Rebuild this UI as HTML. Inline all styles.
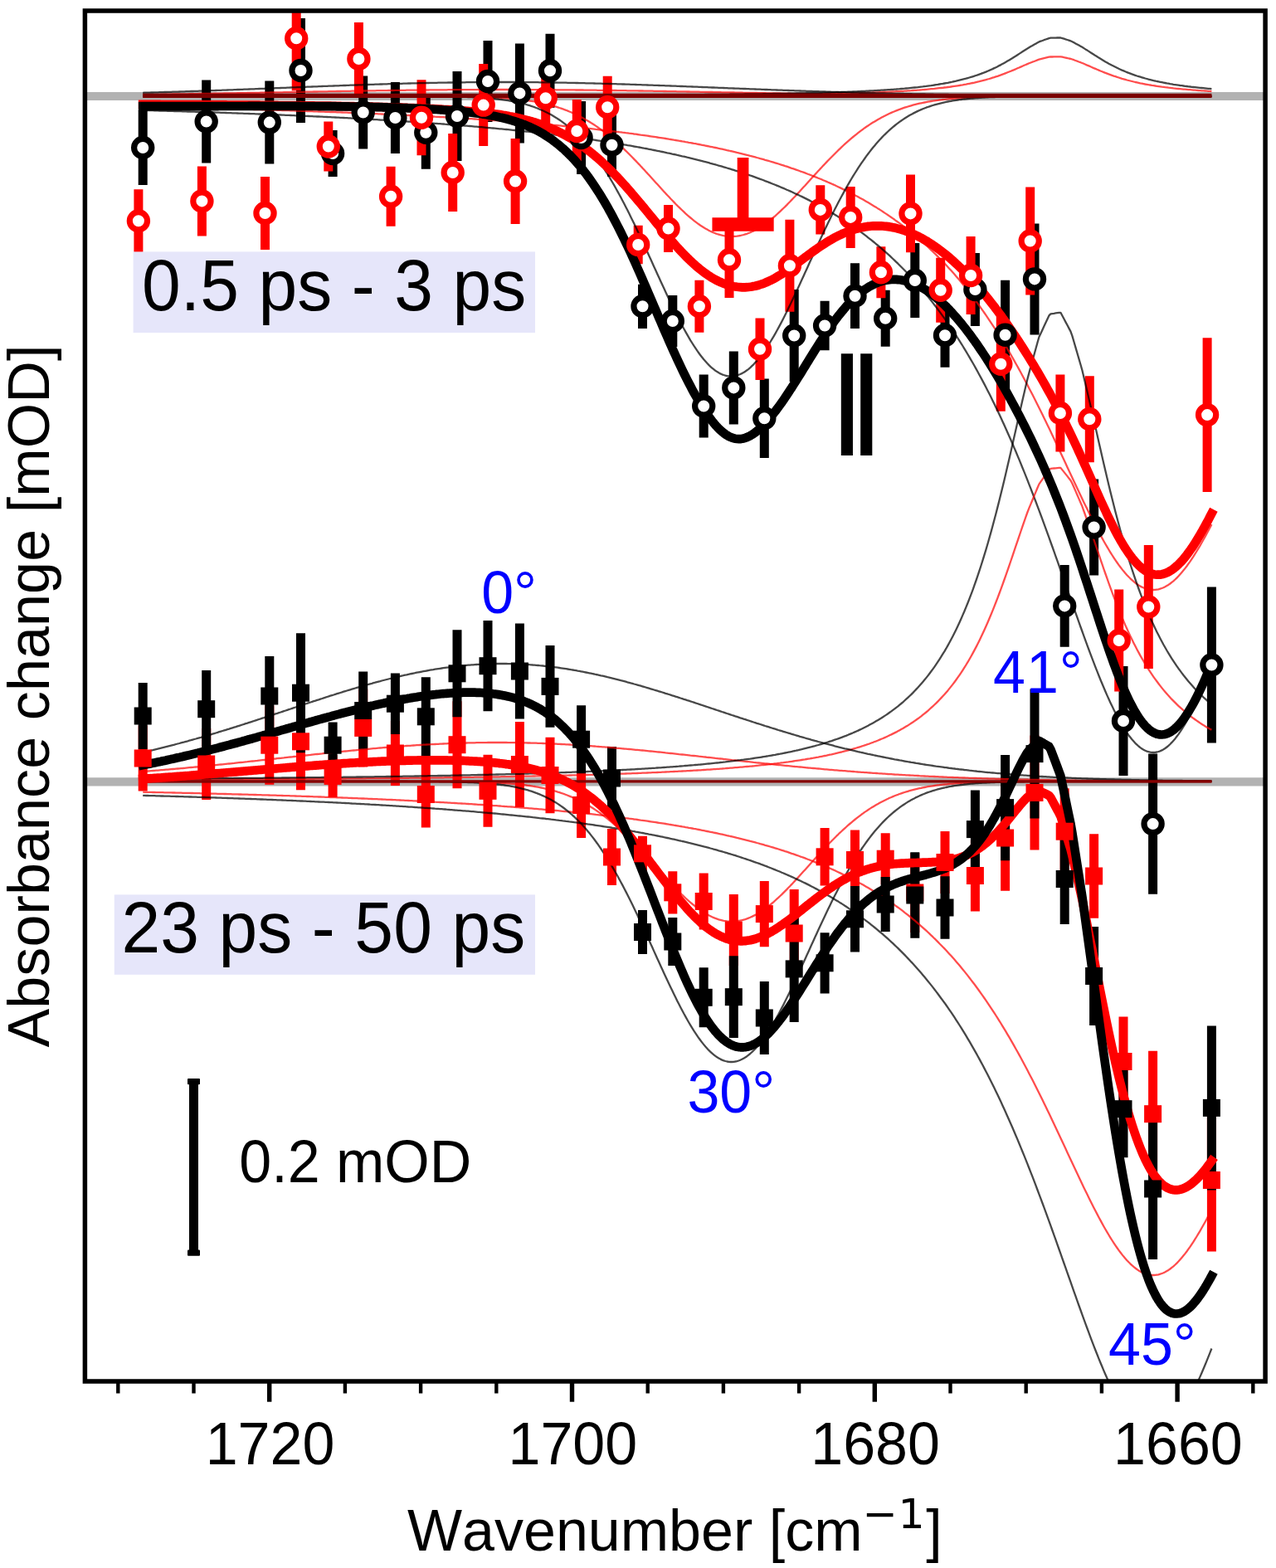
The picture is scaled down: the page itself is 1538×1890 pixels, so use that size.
<!DOCTYPE html>
<html><head><meta charset="utf-8"><title>Absorbance change</title>
<style>html,body{margin:0;padding:0;background:#fff}svg{display:block}text{font-kerning:none}</style></head>
<body>
<svg width="1538" height="1890" viewBox="0 0 1538 1890">
<defs><clipPath id="ax"><rect x="102.4" y="13.0" width="1422.6999999999998" height="1652.0"/></clipPath></defs>
<rect x="0" y="0" width="1538" height="1890" fill="#fff"/>
<g clip-path="url(#ax)">
<line x1="102.4" x2="1525.1" y1="116.0" y2="116.0" stroke="#b2b2b2" stroke-width="10.2"/>
<line x1="102.4" x2="1525.1" y1="942.4" y2="942.4" stroke="#b2b2b2" stroke-width="10.2"/>
<path d="M172.2,133.0V223.0M248.7,96.5V196.5M324.8,97.6V197.6M362.5,22.0V148.0M401.1,157.0V213.0M437.7,91.5V179.5M476.4,99.0V185.0M513.3,115.7V203.7M551.0,86.0V194.0M588.0,49.0V147.0M626.4,52.4V172.4M663.0,40.8V129.8M700.6,122.0V210.0M737.5,136.8V212.8M774.5,342.7V395.9M810.8,356.0V418.0M848.2,451.5V527.5M884.3,423.4V511.4M921.3,456.6V552.0M957.2,348.9V460.1M994.1,362.8V422.2M1030.5,317.3V396.1M1067.2,349.7V417.7M1102.8,293.0V383.0M1139.0,365.7V442.7M1175.4,305.0V393.0M1211.6,337.7V469.7M1247.0,269.4V403.4M1283.2,681.0V779.8M1318.6,577.5V693.5M1354.0,803.0V935.0M1389.6,908.5V1077.7M1460.4,707.5V895.5" stroke="#000000" stroke-width="11.0" fill="none"/>
<path d="M166.9,228.3V304.3M243.4,200.4V284.4M319.5,213.0V301.0M357.2,-16.7V109.3M395.8,146.5V206.5M432.4,27.0V115.0M471.1,200.7V272.7M508.0,96.2V187.2M545.7,161.0V255.0M582.7,77.1V176.1M621.1,167.0V270.0M657.7,75.3V161.3M695.3,120.0V196.0M732.2,91.8V166.8M769.2,271.7V318.3M805.5,247.0V304.0M842.9,337.8V400.8M879.0,267.4V359.0M916.0,383.5V458.1M951.9,264.7V375.7M988.8,223.3V282.5M1025.2,224.9V298.9M1061.9,297.2V359.2M1097.5,210.6V304.2M1133.7,310.7V388.7M1170.1,285.0V379.0M1206.3,381.8V495.8M1241.7,225.5V355.5M1277.9,451.6V544.4M1313.3,453.2V557.2M1348.7,710.5V833.5M1384.3,657.0V806.0M1455.1,407.3V592.9" stroke="#ff0000" stroke-width="11.0" fill="none"/>
<path d="M172.2,874.4V953.6M248.7,878.0V964.0M324.8,850.6V945.8M362.5,835.3V952.3M401.1,909.9V960.9M437.7,830.4V924.4M476.4,869.0V947.0M513.3,917.5V997.5M551.0,845.2V950.2M588.0,909.8V996.8M626.4,869.9V973.1M663.0,888.7V980.3M700.6,931.0V1010.0M737.5,999.0V1067.0M774.5,1007.8V1049.8M810.8,1050.2V1101.4M848.2,1052.5V1120.5M884.3,1078.0V1164.0M921.3,1061.9V1141.3M957.2,1072.0V1178.0M994.1,998.1V1067.5M1030.5,1000.5V1072.5M1067.2,1004.2V1066.2M1102.8,1028.0V1124.0M1139.0,1001.9V1077.1M1175.4,1012.5V1098.5M1211.6,946.2V1073.8M1247.0,886.4V1024.4M1283.2,950.2V1054.2M1318.6,1005.3V1106.7M1354.0,1225.5V1333.5M1389.6,1266.7V1418.7M1460.4,1336.5V1508.5" stroke="#ff0000" stroke-width="11.0" fill="none"/>
<path d="M172.2,823.0V903.0M248.7,808.0V901.4M324.8,791.0V887.0M362.5,763.2V907.2M401.1,870.4V926.0M437.7,809.5V903.5M476.4,811.4V885.0M513.3,816.3V911.3M551.0,759.3V864.3M588.0,748.1V857.3M626.4,751.5V866.5M663.0,778.0V876.8M700.6,850.2V932.2M737.5,900.0V976.0M774.5,1097.1V1149.9M810.8,1106.0V1164.0M848.2,1166.3V1238.3M884.3,1152.3V1251.1M921.3,1183.0V1271.0M957.2,1103.9V1231.9M994.1,1124.2V1197.4M1030.5,1068.1V1147.5M1067.2,1057.0V1123.0M1102.8,1027.2V1130.8M1139.0,1056.3V1131.7M1175.4,952.6V1046.6M1211.6,910.0V1037.2M1247.0,830.6V986.6M1283.2,1005.0V1114.0M1318.6,1116.9V1236.1M1354.0,1278.2V1395.2M1389.6,1348.0V1518.0M1460.4,1236.4V1434.4" stroke="#000000" stroke-width="11.0" fill="none"/>
<path d="M172.2,114.0 L174.2,114.0 L176.2,114.0 L178.2,113.9 L180.2,113.9 L182.2,113.9 L184.2,113.9 L186.2,113.8 L188.2,113.8 L190.2,113.8 L192.2,113.8 L194.2,113.7 L196.2,113.7 L198.2,113.7 L200.2,113.6 L202.2,113.6 L204.2,113.6 L206.2,113.6 L208.2,113.5 L210.2,113.5 L212.2,113.5 L214.2,113.4 L216.2,113.4 L218.2,113.4 L220.2,113.3 L222.2,113.3 L224.2,113.3 L226.2,113.3 L228.2,113.2 L230.2,113.2 L232.2,113.2 L234.2,113.1 L236.2,113.1 L238.2,113.1 L240.2,113.0 L242.2,113.0 L244.2,113.0 L246.2,112.9 L248.2,112.9 L250.2,112.9 L252.2,112.8 L254.2,112.8 L256.2,112.8 L258.2,112.7 L260.2,112.7 L262.2,112.7 L264.2,112.6 L266.2,112.6 L268.2,112.6 L270.2,112.5 L272.2,112.5 L274.2,112.5 L276.2,112.4 L278.2,112.4 L280.2,112.4 L282.2,112.3 L284.2,112.3 L286.2,112.2 L288.2,112.2 L290.2,112.2 L292.2,112.1 L294.2,112.1 L296.2,112.1 L298.2,112.0 L300.2,112.0 L302.2,112.0 L304.2,111.9 L306.2,111.9 L308.2,111.9 L310.2,111.8 L312.2,111.8 L314.2,111.7 L316.2,111.7 L318.2,111.7 L320.2,111.6 L322.2,111.6 L324.2,111.6 L326.2,111.5 L328.2,111.5 L330.2,111.4 L332.2,111.4 L334.2,111.4 L336.2,111.3 L338.2,111.3 L340.2,111.3 L342.2,111.2 L344.2,111.2 L346.2,111.1 L348.2,111.1 L350.2,111.1 L352.2,111.0 L354.2,111.0 L356.2,111.0 L358.2,110.9 L360.2,110.9 L362.2,110.8 L364.2,110.8 L366.2,110.8 L368.2,110.7 L370.2,110.7 L372.2,110.7 L374.2,110.6 L376.2,110.6 L378.2,110.5 L380.2,110.5 L382.2,110.5 L384.2,110.4 L386.2,110.4 L388.2,110.4 L390.2,110.3 L392.2,110.3 L394.2,110.3 L396.2,110.2 L398.2,110.2 L400.2,110.1 L402.2,110.1 L404.2,110.1 L406.2,110.0 L408.2,110.0 L410.2,110.0 L412.2,109.9 L414.2,109.9 L416.2,109.9 L418.2,109.8 L420.2,109.8 L422.2,109.8 L424.2,109.7 L426.2,109.7 L428.2,109.7 L430.2,109.6 L432.2,109.6 L434.2,109.6 L436.2,109.5 L438.2,109.5 L440.2,109.5 L442.2,109.4 L444.2,109.4 L446.2,109.4 L448.2,109.3 L450.2,109.3 L452.2,109.3 L454.2,109.2 L456.2,109.2 L458.2,109.2 L460.2,109.2 L462.2,109.1 L464.2,109.1 L466.2,109.1 L468.2,109.0 L470.2,109.0 L472.2,109.0 L474.2,109.0 L476.2,108.9 L478.2,108.9 L480.2,108.9 L482.2,108.8 L484.2,108.8 L486.2,108.8 L488.2,108.8 L490.2,108.7 L492.2,108.7 L494.2,108.7 L496.3,108.7 L498.3,108.7 L500.3,108.6 L502.3,108.6 L504.3,108.6 L506.3,108.6 L508.3,108.5 L510.3,108.5 L512.3,108.5 L514.3,108.5 L516.3,108.5 L518.3,108.4 L520.3,108.4 L522.3,108.4 L524.3,108.4 L526.3,108.4 L528.3,108.3 L530.3,108.3 L532.3,108.3 L534.3,108.3 L536.3,108.3 L538.3,108.3 L540.3,108.2 L542.3,108.2 L544.3,108.2 L546.3,108.2 L548.3,108.2 L550.3,108.2 L552.3,108.2 L554.3,108.2 L556.3,108.1 L558.3,108.1 L560.3,108.1 L562.3,108.1 L564.3,108.1 L566.3,108.1 L568.3,108.1 L570.3,108.1 L572.3,108.1 L574.3,108.1 L576.3,108.0 L578.3,108.0 L580.3,108.0 L582.3,108.0 L584.3,108.0 L586.3,108.0 L588.3,108.0 L590.3,108.0 L592.3,108.0 L594.3,108.0 L596.3,108.0 L598.3,108.0 L600.3,108.0 L602.3,108.0 L604.3,108.0 L606.3,108.0 L608.3,108.0 L610.3,108.0 L612.3,108.0 L614.3,108.0 L616.3,108.0 L618.3,108.0 L620.3,108.0 L622.3,108.0 L624.3,108.0 L626.3,108.0 L628.3,108.0 L630.3,108.0 L632.3,108.0 L634.3,108.1 L636.3,108.1 L638.3,108.1 L640.3,108.1 L642.3,108.1 L644.3,108.1 L646.3,108.1 L648.3,108.1 L650.3,108.1 L652.3,108.1 L654.3,108.1 L656.3,108.2 L658.3,108.2 L660.3,108.2 L662.3,108.2 L664.3,108.2 L666.3,108.2 L668.3,108.2 L670.3,108.3 L672.3,108.3 L674.3,108.3 L676.3,108.3 L678.3,108.3 L680.3,108.3 L682.3,108.3 L684.3,108.4 L686.3,108.4 L688.3,108.4 L690.3,108.4 L692.3,108.4 L694.3,108.5 L696.3,108.5 L698.3,108.5 L700.3,108.5 L702.3,108.5 L704.3,108.6 L706.3,108.6 L708.3,108.6 L710.3,108.6 L712.3,108.7 L714.3,108.7 L716.3,108.7 L718.3,108.7 L720.3,108.8 L722.3,108.8 L724.3,108.8 L726.3,108.8 L728.3,108.9 L730.3,108.9 L732.3,108.9 L734.3,108.9 L736.3,109.0 L738.3,109.0 L740.3,109.0 L742.3,109.0 L744.3,109.1 L746.3,109.1 L748.3,109.1 L750.3,109.2 L752.3,109.2 L754.3,109.2 L756.3,109.3 L758.3,109.3 L760.3,109.3 L762.3,109.3 L764.3,109.4 L766.3,109.4 L768.3,109.4 L770.3,109.5 L772.3,109.5 L774.3,109.5 L776.3,109.6 L778.3,109.6 L780.3,109.6 L782.3,109.7 L784.3,109.7 L786.3,109.7 L788.3,109.8 L790.3,109.8 L792.3,109.8 L794.3,109.9 L796.3,109.9 L798.3,109.9 L800.3,110.0 L802.3,110.0 L804.3,110.1 L806.3,110.1 L808.3,110.1 L810.3,110.2 L812.3,110.2 L814.3,110.2 L816.3,110.3 L818.3,110.3 L820.3,110.3 L822.3,110.4 L824.3,110.4 L826.3,110.4 L828.3,110.5 L830.3,110.5 L832.3,110.6 L834.3,110.6 L836.3,110.6 L838.3,110.7 L840.3,110.7 L842.3,110.7 L844.3,110.8 L846.3,110.8 L848.3,110.9 L850.3,110.9 L852.3,110.9 L854.3,111.0 L856.3,111.0 L858.3,111.0 L860.3,111.1 L862.3,111.1 L864.3,111.2 L866.3,111.2 L868.3,111.2 L870.3,111.3 L872.3,111.3 L874.3,111.3 L876.3,111.4 L878.3,111.4 L880.3,111.5 L882.3,111.5 L884.3,111.5 L886.3,111.6 L888.3,111.6 L890.3,111.6 L892.3,111.7 L894.3,111.7 L896.3,111.8 L898.3,111.8 L900.3,111.8 L902.3,111.9 L904.3,111.9 L906.3,111.9 L908.3,112.0 L910.3,112.0 L912.3,112.0 L914.3,112.1 L916.3,112.1 L918.3,112.2 L920.3,112.2 L922.3,112.2 L924.3,112.3 L926.3,112.3 L928.3,112.3 L930.3,112.4 L932.3,112.4 L934.3,112.4 L936.3,112.5 L938.3,112.5 L940.3,112.5 L942.3,112.6 L944.3,112.6 L946.3,112.6 L948.3,112.7 L950.3,112.7 L952.3,112.7 L954.3,112.8 L956.3,112.8 L958.3,112.8 L960.3,112.9 L962.3,112.9 L964.3,112.9 L966.3,113.0 L968.3,113.0 L970.3,113.0 L972.3,113.1 L974.3,113.1 L976.3,113.1 L978.3,113.2 L980.3,113.2 L982.3,113.2 L984.3,113.3 L986.3,113.3 L988.3,113.3 L990.3,113.4 L992.3,113.4 L994.3,113.4 L996.3,113.4 L998.3,113.5 L1000.3,113.5 L1002.3,113.5 L1004.3,113.6 L1006.3,113.6 L1008.3,113.6 L1010.3,113.6 L1012.3,113.7 L1014.3,113.7 L1016.3,113.7 L1018.3,113.8 L1020.3,113.8 L1022.3,113.8 L1024.3,113.8 L1026.3,113.9 L1028.3,113.9 L1030.3,113.9 L1032.3,113.9 L1034.3,114.0 L1036.3,114.0 L1038.3,114.0 L1040.3,114.1 L1042.3,114.1 L1044.3,114.1 L1046.3,114.1 L1048.3,114.2 L1050.3,114.2 L1052.3,114.2 L1054.3,114.2 L1056.3,114.2 L1058.3,114.3 L1060.3,114.3 L1062.3,114.3 L1064.3,114.3 L1066.3,114.4 L1068.3,114.4 L1070.3,114.4 L1072.3,114.4 L1074.3,114.5 L1076.3,114.5 L1078.3,114.5 L1080.3,114.5 L1082.3,114.5 L1084.3,114.6 L1086.3,114.6 L1088.3,114.6 L1090.3,114.6 L1092.3,114.6 L1094.3,114.7 L1096.3,114.7 L1098.3,114.7 L1100.3,114.7 L1102.3,114.7 L1104.3,114.8 L1106.3,114.8 L1108.3,114.8 L1110.3,114.8 L1112.3,114.8 L1114.3,114.8 L1116.3,114.9 L1118.3,114.9 L1120.3,114.9 L1122.3,114.9 L1124.3,114.9 L1126.3,114.9 L1128.3,115.0 L1130.3,115.0 L1132.3,115.0 L1134.3,115.0 L1136.3,115.0 L1138.4,115.0 L1140.4,115.1 L1142.4,115.1 L1144.4,115.1 L1146.4,115.1 L1148.4,115.1 L1150.4,115.1 L1152.4,115.1 L1154.4,115.2 L1156.4,115.2 L1158.4,115.2 L1160.4,115.2 L1162.4,115.2 L1164.4,115.2 L1166.4,115.2 L1168.4,115.2 L1170.4,115.3 L1172.4,115.3 L1174.4,115.3 L1176.4,115.3 L1178.4,115.3 L1180.4,115.3 L1182.4,115.3 L1184.4,115.3 L1186.4,115.4 L1188.4,115.4 L1190.4,115.4 L1192.4,115.4 L1194.4,115.4 L1196.4,115.4 L1198.4,115.4 L1200.4,115.4 L1202.4,115.4 L1204.4,115.5 L1206.4,115.5 L1208.4,115.5 L1210.4,115.5 L1212.4,115.5 L1214.4,115.5 L1216.4,115.5 L1218.4,115.5 L1220.4,115.5 L1222.4,115.5 L1224.4,115.5 L1226.4,115.5 L1228.4,115.6 L1230.4,115.6 L1232.4,115.6 L1234.4,115.6 L1236.4,115.6 L1238.4,115.6 L1240.4,115.6 L1242.4,115.6 L1244.4,115.6 L1246.4,115.6 L1248.4,115.6 L1250.4,115.6 L1252.4,115.6 L1254.4,115.7 L1256.4,115.7 L1258.4,115.7 L1260.4,115.7 L1262.4,115.7 L1264.4,115.7 L1266.4,115.7 L1268.4,115.7 L1270.4,115.7 L1272.4,115.7 L1274.4,115.7 L1276.4,115.7 L1278.4,115.7 L1280.4,115.7 L1282.4,115.7 L1284.4,115.7 L1286.4,115.7 L1288.4,115.8 L1290.4,115.8 L1292.4,115.8 L1294.4,115.8 L1296.4,115.8 L1298.4,115.8 L1300.4,115.8 L1302.4,115.8 L1304.4,115.8 L1306.4,115.8 L1308.4,115.8 L1310.4,115.8 L1312.4,115.8 L1314.4,115.8 L1316.4,115.8 L1318.4,115.8 L1320.4,115.8 L1322.4,115.8 L1324.4,115.8 L1326.4,115.8 L1328.4,115.8 L1330.4,115.8 L1332.4,115.8 L1334.4,115.8 L1336.4,115.9 L1338.4,115.9 L1340.4,115.9 L1342.4,115.9 L1344.4,115.9 L1346.4,115.9 L1348.4,115.9 L1350.4,115.9 L1352.4,115.9 L1354.4,115.9 L1356.4,115.9 L1358.4,115.9 L1360.4,115.9 L1362.4,115.9 L1364.4,115.9 L1366.4,115.9 L1368.4,115.9 L1370.4,115.9 L1372.4,115.9 L1374.4,115.9 L1376.4,115.9 L1378.4,115.9 L1380.4,115.9 L1382.4,115.9 L1384.4,115.9 L1386.4,115.9 L1388.4,115.9 L1390.4,115.9 L1392.4,115.9 L1394.4,115.9 L1396.4,115.9 L1398.4,115.9 L1400.4,115.9 L1402.4,115.9 L1404.4,115.9 L1406.4,115.9 L1408.4,115.9 L1410.4,115.9 L1412.4,115.9 L1414.4,115.9 L1416.4,115.9 L1418.4,115.9 L1420.4,115.9 L1422.4,115.9 L1424.4,115.9 L1426.4,115.9 L1428.4,115.9 L1430.4,116.0 L1432.4,116.0 L1434.4,116.0 L1436.4,116.0 L1438.4,116.0 L1440.4,116.0 L1442.4,116.0 L1444.4,116.0 L1446.4,116.0 L1448.4,116.0 L1450.4,116.0 L1452.4,116.0 L1454.4,116.0 L1456.4,116.0 L1458.4,116.0 L1460.4,116.0" stroke="#ff0000" stroke-opacity="0.7" stroke-width="2.3" fill="none" stroke-linejoin="round"/>
<path d="M172.2,116.0 L174.2,116.0 L176.2,116.0 L178.2,116.0 L180.2,116.0 L182.2,116.0 L184.2,116.0 L186.2,116.0 L188.2,116.0 L190.2,116.0 L192.2,116.0 L194.2,116.0 L196.2,116.0 L198.2,116.0 L200.2,116.0 L202.2,116.0 L204.2,116.0 L206.2,116.0 L208.2,116.0 L210.2,116.0 L212.2,116.0 L214.2,116.0 L216.2,116.0 L218.2,116.0 L220.2,116.0 L222.2,116.0 L224.2,116.0 L226.2,116.0 L228.2,116.0 L230.2,116.0 L232.2,116.0 L234.2,116.0 L236.2,116.0 L238.2,116.0 L240.2,116.0 L242.2,116.0 L244.2,116.0 L246.2,116.0 L248.2,116.0 L250.2,116.0 L252.2,116.0 L254.2,116.0 L256.2,116.0 L258.2,116.0 L260.2,116.0 L262.2,116.0 L264.2,116.0 L266.2,116.0 L268.2,116.0 L270.2,116.0 L272.2,116.0 L274.2,116.0 L276.2,116.0 L278.2,116.0 L280.2,116.0 L282.2,116.0 L284.2,116.0 L286.2,116.0 L288.2,116.0 L290.2,116.0 L292.2,116.0 L294.2,116.0 L296.2,116.0 L298.2,116.0 L300.2,116.0 L302.2,116.0 L304.2,116.0 L306.2,116.0 L308.2,116.0 L310.2,116.0 L312.2,116.0 L314.2,116.0 L316.2,116.0 L318.2,116.0 L320.2,116.0 L322.2,116.0 L324.2,116.0 L326.2,116.0 L328.2,116.0 L330.2,116.0 L332.2,116.0 L334.2,116.0 L336.2,116.0 L338.2,116.0 L340.2,116.0 L342.2,116.0 L344.2,116.0 L346.2,116.0 L348.2,116.0 L350.2,116.0 L352.2,116.0 L354.2,116.0 L356.2,116.0 L358.2,116.0 L360.2,116.0 L362.2,116.0 L364.2,116.0 L366.2,116.0 L368.2,116.0 L370.2,116.0 L372.2,116.0 L374.2,116.0 L376.2,116.0 L378.2,116.0 L380.2,116.0 L382.2,116.0 L384.2,116.0 L386.2,116.0 L388.2,116.0 L390.2,116.0 L392.2,116.0 L394.2,116.0 L396.2,116.0 L398.2,116.0 L400.2,116.0 L402.2,116.0 L404.2,116.0 L406.2,116.0 L408.2,116.0 L410.2,116.0 L412.2,116.0 L414.2,116.0 L416.2,116.0 L418.2,116.0 L420.2,116.0 L422.2,116.0 L424.2,116.0 L426.2,116.0 L428.2,116.0 L430.2,116.0 L432.2,116.0 L434.2,116.0 L436.2,116.0 L438.2,116.0 L440.2,116.0 L442.2,116.0 L444.2,116.0 L446.2,116.0 L448.2,116.0 L450.2,116.0 L452.2,116.0 L454.2,116.0 L456.2,116.0 L458.2,116.0 L460.2,116.0 L462.2,116.0 L464.2,116.0 L466.2,116.0 L468.2,116.0 L470.2,116.0 L472.2,116.0 L474.2,116.0 L476.2,116.0 L478.2,116.0 L480.2,116.0 L482.2,116.0 L484.2,116.0 L486.2,116.0 L488.2,116.0 L490.2,116.0 L492.2,116.0 L494.2,116.0 L496.3,116.0 L498.3,116.0 L500.3,116.0 L502.3,116.0 L504.3,116.0 L506.3,116.0 L508.3,116.1 L510.3,116.1 L512.3,116.1 L514.3,116.1 L516.3,116.1 L518.3,116.1 L520.3,116.1 L522.3,116.1 L524.3,116.1 L526.3,116.1 L528.3,116.1 L530.3,116.1 L532.3,116.1 L534.3,116.2 L536.3,116.2 L538.3,116.2 L540.3,116.2 L542.3,116.2 L544.3,116.2 L546.3,116.2 L548.3,116.3 L550.3,116.3 L552.3,116.3 L554.3,116.3 L556.3,116.4 L558.3,116.4 L560.3,116.4 L562.3,116.5 L564.3,116.5 L566.3,116.5 L568.3,116.6 L570.3,116.6 L572.3,116.7 L574.3,116.7 L576.3,116.8 L578.3,116.8 L580.3,116.9 L582.3,116.9 L584.3,117.0 L586.3,117.1 L588.3,117.2 L590.3,117.2 L592.3,117.3 L594.3,117.4 L596.3,117.5 L598.3,117.6 L600.3,117.7 L602.3,117.8 L604.3,118.0 L606.3,118.1 L608.3,118.2 L610.3,118.4 L612.3,118.5 L614.3,118.7 L616.3,118.9 L618.3,119.0 L620.3,119.2 L622.3,119.4 L624.3,119.6 L626.3,119.9 L628.3,120.1 L630.3,120.3 L632.3,120.6 L634.3,120.9 L636.3,121.2 L638.3,121.5 L640.3,121.8 L642.3,122.1 L644.3,122.4 L646.3,122.8 L648.3,123.2 L650.3,123.6 L652.3,124.0 L654.3,124.4 L656.3,124.9 L658.3,125.4 L660.3,125.9 L662.3,126.4 L664.3,126.9 L666.3,127.5 L668.3,128.1 L670.3,128.7 L672.3,129.3 L674.3,130.0 L676.3,130.6 L678.3,131.3 L680.3,132.1 L682.3,132.8 L684.3,133.6 L686.3,134.5 L688.3,135.3 L690.3,136.2 L692.3,137.1 L694.3,138.0 L696.3,139.0 L698.3,140.0 L700.3,141.1 L702.3,142.1 L704.3,143.2 L706.3,144.4 L708.3,145.5 L710.3,146.7 L712.3,148.0 L714.3,149.2 L716.3,150.5 L718.3,151.9 L720.3,153.3 L722.3,154.7 L724.3,156.1 L726.3,157.6 L728.3,159.1 L730.3,160.7 L732.3,162.3 L734.3,163.9 L736.3,165.5 L738.3,167.2 L740.3,168.9 L742.3,170.7 L744.3,172.5 L746.3,174.3 L748.3,176.1 L750.3,178.0 L752.3,179.9 L754.3,181.8 L756.3,183.8 L758.3,185.8 L760.3,187.8 L762.3,189.8 L764.3,191.9 L766.3,193.9 L768.3,196.0 L770.3,198.1 L772.3,200.3 L774.3,202.4 L776.3,204.6 L778.3,206.8 L780.3,208.9 L782.3,211.1 L784.3,213.3 L786.3,215.5 L788.3,217.7 L790.3,219.9 L792.3,222.1 L794.3,224.3 L796.3,226.5 L798.3,228.7 L800.3,230.9 L802.3,233.1 L804.3,235.2 L806.3,237.3 L808.3,239.5 L810.3,241.5 L812.3,243.6 L814.3,245.7 L816.3,247.7 L818.3,249.7 L820.3,251.6 L822.3,253.5 L824.3,255.4 L826.3,257.3 L828.3,259.1 L830.3,260.8 L832.3,262.5 L834.3,264.2 L836.3,265.8 L838.3,267.3 L840.3,268.8 L842.3,270.3 L844.3,271.7 L846.3,273.0 L848.3,274.3 L850.3,275.5 L852.3,276.6 L854.3,277.7 L856.3,278.7 L858.3,279.6 L860.3,280.5 L862.3,281.3 L864.3,282.0 L866.3,282.6 L868.3,283.2 L870.3,283.7 L872.3,284.1 L874.3,284.4 L876.3,284.7 L878.3,284.9 L880.3,285.0 L882.3,285.0 L884.3,284.9 L886.3,284.8 L888.3,284.6 L890.3,284.3 L892.3,284.0 L894.3,283.5 L896.3,283.0 L898.3,282.4 L900.3,281.8 L902.3,281.0 L904.3,280.2 L906.3,279.3 L908.3,278.4 L910.3,277.3 L912.3,276.3 L914.3,275.1 L916.3,273.9 L918.3,272.6 L920.3,271.2 L922.3,269.8 L924.3,268.4 L926.3,266.9 L928.3,265.3 L930.3,263.7 L932.3,262.0 L934.3,260.3 L936.3,258.5 L938.3,256.7 L940.3,254.8 L942.3,252.9 L944.3,251.0 L946.3,249.1 L948.3,247.1 L950.3,245.0 L952.3,243.0 L954.3,240.9 L956.3,238.8 L958.3,236.7 L960.3,234.5 L962.3,232.4 L964.3,230.2 L966.3,228.0 L968.3,225.8 L970.3,223.7 L972.3,221.5 L974.3,219.2 L976.3,217.0 L978.3,214.8 L980.3,212.6 L982.3,210.4 L984.3,208.3 L986.3,206.1 L988.3,203.9 L990.3,201.8 L992.3,199.6 L994.3,197.5 L996.3,195.4 L998.3,193.3 L1000.3,191.2 L1002.3,189.2 L1004.3,187.2 L1006.3,185.2 L1008.3,183.2 L1010.3,181.2 L1012.3,179.3 L1014.3,177.4 L1016.3,175.5 L1018.3,173.7 L1020.3,171.9 L1022.3,170.1 L1024.3,168.4 L1026.3,166.7 L1028.3,165.0 L1030.3,163.4 L1032.3,161.8 L1034.3,160.2 L1036.3,158.6 L1038.3,157.1 L1040.3,155.7 L1042.3,154.2 L1044.3,152.8 L1046.3,151.5 L1048.3,150.1 L1050.3,148.8 L1052.3,147.6 L1054.3,146.4 L1056.3,145.2 L1058.3,144.0 L1060.3,142.9 L1062.3,141.8 L1064.3,140.7 L1066.3,139.7 L1068.3,138.7 L1070.3,137.7 L1072.3,136.8 L1074.3,135.9 L1076.3,135.0 L1078.3,134.2 L1080.3,133.4 L1082.3,132.6 L1084.3,131.8 L1086.3,131.1 L1088.3,130.4 L1090.3,129.7 L1092.3,129.1 L1094.3,128.5 L1096.3,127.9 L1098.3,127.3 L1100.3,126.7 L1102.3,126.2 L1104.3,125.7 L1106.3,125.2 L1108.3,124.7 L1110.3,124.3 L1112.3,123.9 L1114.3,123.5 L1116.3,123.1 L1118.3,122.7 L1120.3,122.3 L1122.3,122.0 L1124.3,121.7 L1126.3,121.4 L1128.3,121.1 L1130.3,120.8 L1132.3,120.5 L1134.3,120.3 L1136.3,120.0 L1138.4,119.8 L1140.4,119.6 L1142.4,119.4 L1144.4,119.2 L1146.4,119.0 L1148.4,118.8 L1150.4,118.6 L1152.4,118.5 L1154.4,118.3 L1156.4,118.2 L1158.4,118.0 L1160.4,117.9 L1162.4,117.8 L1164.4,117.7 L1166.4,117.6 L1168.4,117.5 L1170.4,117.4 L1172.4,117.3 L1174.4,117.2 L1176.4,117.1 L1178.4,117.1 L1180.4,117.0 L1182.4,116.9 L1184.4,116.9 L1186.4,116.8 L1188.4,116.7 L1190.4,116.7 L1192.4,116.6 L1194.4,116.6 L1196.4,116.6 L1198.4,116.5 L1200.4,116.5 L1202.4,116.4 L1204.4,116.4 L1206.4,116.4 L1208.4,116.4 L1210.4,116.3 L1212.4,116.3 L1214.4,116.3 L1216.4,116.3 L1218.4,116.2 L1220.4,116.2 L1222.4,116.2 L1224.4,116.2 L1226.4,116.2 L1228.4,116.2 L1230.4,116.2 L1232.4,116.1 L1234.4,116.1 L1236.4,116.1 L1238.4,116.1 L1240.4,116.1 L1242.4,116.1 L1244.4,116.1 L1246.4,116.1 L1248.4,116.1 L1250.4,116.1 L1252.4,116.1 L1254.4,116.1 L1256.4,116.1 L1258.4,116.0 L1260.4,116.0 L1262.4,116.0 L1264.4,116.0 L1266.4,116.0 L1268.4,116.0 L1270.4,116.0 L1272.4,116.0 L1274.4,116.0 L1276.4,116.0 L1278.4,116.0 L1280.4,116.0 L1282.4,116.0 L1284.4,116.0 L1286.4,116.0 L1288.4,116.0 L1290.4,116.0 L1292.4,116.0 L1294.4,116.0 L1296.4,116.0 L1298.4,116.0 L1300.4,116.0 L1302.4,116.0 L1304.4,116.0 L1306.4,116.0 L1308.4,116.0 L1310.4,116.0 L1312.4,116.0 L1314.4,116.0 L1316.4,116.0 L1318.4,116.0 L1320.4,116.0 L1322.4,116.0 L1324.4,116.0 L1326.4,116.0 L1328.4,116.0 L1330.4,116.0 L1332.4,116.0 L1334.4,116.0 L1336.4,116.0 L1338.4,116.0 L1340.4,116.0 L1342.4,116.0 L1344.4,116.0 L1346.4,116.0 L1348.4,116.0 L1350.4,116.0 L1352.4,116.0 L1354.4,116.0 L1356.4,116.0 L1358.4,116.0 L1360.4,116.0 L1362.4,116.0 L1364.4,116.0 L1366.4,116.0 L1368.4,116.0 L1370.4,116.0 L1372.4,116.0 L1374.4,116.0 L1376.4,116.0 L1378.4,116.0 L1380.4,116.0 L1382.4,116.0 L1384.4,116.0 L1386.4,116.0 L1388.4,116.0 L1390.4,116.0 L1392.4,116.0 L1394.4,116.0 L1396.4,116.0 L1398.4,116.0 L1400.4,116.0 L1402.4,116.0 L1404.4,116.0 L1406.4,116.0 L1408.4,116.0 L1410.4,116.0 L1412.4,116.0 L1414.4,116.0 L1416.4,116.0 L1418.4,116.0 L1420.4,116.0 L1422.4,116.0 L1424.4,116.0 L1426.4,116.0 L1428.4,116.0 L1430.4,116.0 L1432.4,116.0 L1434.4,116.0 L1436.4,116.0 L1438.4,116.0 L1440.4,116.0 L1442.4,116.0 L1444.4,116.0 L1446.4,116.0 L1448.4,116.0 L1450.4,116.0 L1452.4,116.0 L1454.4,116.0 L1456.4,116.0 L1458.4,116.0 L1460.4,116.0" stroke="#ff0000" stroke-opacity="0.7" stroke-width="2.3" fill="none" stroke-linejoin="round"/>
<path d="M172.2,115.8 L174.2,115.8 L176.2,115.8 L178.2,115.8 L180.2,115.8 L182.2,115.8 L184.2,115.8 L186.2,115.8 L188.2,115.8 L190.2,115.8 L192.2,115.8 L194.2,115.8 L196.2,115.8 L198.2,115.8 L200.2,115.8 L202.2,115.8 L204.2,115.8 L206.2,115.8 L208.2,115.8 L210.2,115.8 L212.2,115.8 L214.2,115.8 L216.2,115.8 L218.2,115.8 L220.2,115.8 L222.2,115.8 L224.2,115.8 L226.2,115.8 L228.2,115.8 L230.2,115.8 L232.2,115.8 L234.2,115.8 L236.2,115.8 L238.2,115.8 L240.2,115.8 L242.2,115.8 L244.2,115.8 L246.2,115.8 L248.2,115.8 L250.2,115.8 L252.2,115.8 L254.2,115.8 L256.2,115.8 L258.2,115.8 L260.2,115.8 L262.2,115.8 L264.2,115.8 L266.2,115.8 L268.2,115.8 L270.2,115.8 L272.2,115.8 L274.2,115.8 L276.2,115.8 L278.2,115.8 L280.2,115.8 L282.2,115.8 L284.2,115.8 L286.2,115.8 L288.2,115.8 L290.2,115.8 L292.2,115.7 L294.2,115.7 L296.2,115.7 L298.2,115.7 L300.2,115.7 L302.2,115.7 L304.2,115.7 L306.2,115.7 L308.2,115.7 L310.2,115.7 L312.2,115.7 L314.2,115.7 L316.2,115.7 L318.2,115.7 L320.2,115.7 L322.2,115.7 L324.2,115.7 L326.2,115.7 L328.2,115.7 L330.2,115.7 L332.2,115.7 L334.2,115.7 L336.2,115.7 L338.2,115.7 L340.2,115.7 L342.2,115.7 L344.2,115.7 L346.2,115.7 L348.2,115.7 L350.2,115.7 L352.2,115.7 L354.2,115.7 L356.2,115.7 L358.2,115.7 L360.2,115.7 L362.2,115.7 L364.2,115.7 L366.2,115.7 L368.2,115.7 L370.2,115.7 L372.2,115.7 L374.2,115.7 L376.2,115.7 L378.2,115.7 L380.2,115.7 L382.2,115.7 L384.2,115.7 L386.2,115.7 L388.2,115.7 L390.2,115.7 L392.2,115.7 L394.2,115.7 L396.2,115.7 L398.2,115.7 L400.2,115.7 L402.2,115.7 L404.2,115.7 L406.2,115.7 L408.2,115.7 L410.2,115.7 L412.2,115.7 L414.2,115.7 L416.2,115.7 L418.2,115.7 L420.2,115.7 L422.2,115.7 L424.2,115.7 L426.2,115.7 L428.2,115.7 L430.2,115.7 L432.2,115.7 L434.2,115.7 L436.2,115.7 L438.2,115.7 L440.2,115.7 L442.2,115.7 L444.2,115.7 L446.2,115.6 L448.2,115.6 L450.2,115.6 L452.2,115.6 L454.2,115.6 L456.2,115.6 L458.2,115.6 L460.2,115.6 L462.2,115.6 L464.2,115.6 L466.2,115.6 L468.2,115.6 L470.2,115.6 L472.2,115.6 L474.2,115.6 L476.2,115.6 L478.2,115.6 L480.2,115.6 L482.2,115.6 L484.2,115.6 L486.2,115.6 L488.2,115.6 L490.2,115.6 L492.2,115.6 L494.2,115.6 L496.3,115.6 L498.3,115.6 L500.3,115.6 L502.3,115.6 L504.3,115.6 L506.3,115.6 L508.3,115.6 L510.3,115.6 L512.3,115.6 L514.3,115.6 L516.3,115.6 L518.3,115.6 L520.3,115.6 L522.3,115.6 L524.3,115.6 L526.3,115.6 L528.3,115.6 L530.3,115.6 L532.3,115.6 L534.3,115.6 L536.3,115.6 L538.3,115.6 L540.3,115.6 L542.3,115.6 L544.3,115.5 L546.3,115.5 L548.3,115.5 L550.3,115.5 L552.3,115.5 L554.3,115.5 L556.3,115.5 L558.3,115.5 L560.3,115.5 L562.3,115.5 L564.3,115.5 L566.3,115.5 L568.3,115.5 L570.3,115.5 L572.3,115.5 L574.3,115.5 L576.3,115.5 L578.3,115.5 L580.3,115.5 L582.3,115.5 L584.3,115.5 L586.3,115.5 L588.3,115.5 L590.3,115.5 L592.3,115.5 L594.3,115.5 L596.3,115.5 L598.3,115.5 L600.3,115.5 L602.3,115.5 L604.3,115.5 L606.3,115.5 L608.3,115.5 L610.3,115.5 L612.3,115.5 L614.3,115.4 L616.3,115.4 L618.3,115.4 L620.3,115.4 L622.3,115.4 L624.3,115.4 L626.3,115.4 L628.3,115.4 L630.3,115.4 L632.3,115.4 L634.3,115.4 L636.3,115.4 L638.3,115.4 L640.3,115.4 L642.3,115.4 L644.3,115.4 L646.3,115.4 L648.3,115.4 L650.3,115.4 L652.3,115.4 L654.3,115.4 L656.3,115.4 L658.3,115.4 L660.3,115.4 L662.3,115.4 L664.3,115.4 L666.3,115.4 L668.3,115.3 L670.3,115.3 L672.3,115.3 L674.3,115.3 L676.3,115.3 L678.3,115.3 L680.3,115.3 L682.3,115.3 L684.3,115.3 L686.3,115.3 L688.3,115.3 L690.3,115.3 L692.3,115.3 L694.3,115.3 L696.3,115.3 L698.3,115.3 L700.3,115.3 L702.3,115.3 L704.3,115.3 L706.3,115.3 L708.3,115.3 L710.3,115.2 L712.3,115.2 L714.3,115.2 L716.3,115.2 L718.3,115.2 L720.3,115.2 L722.3,115.2 L724.3,115.2 L726.3,115.2 L728.3,115.2 L730.3,115.2 L732.3,115.2 L734.3,115.2 L736.3,115.2 L738.3,115.2 L740.3,115.2 L742.3,115.2 L744.3,115.1 L746.3,115.1 L748.3,115.1 L750.3,115.1 L752.3,115.1 L754.3,115.1 L756.3,115.1 L758.3,115.1 L760.3,115.1 L762.3,115.1 L764.3,115.1 L766.3,115.1 L768.3,115.1 L770.3,115.1 L772.3,115.1 L774.3,115.0 L776.3,115.0 L778.3,115.0 L780.3,115.0 L782.3,115.0 L784.3,115.0 L786.3,115.0 L788.3,115.0 L790.3,115.0 L792.3,115.0 L794.3,115.0 L796.3,115.0 L798.3,114.9 L800.3,114.9 L802.3,114.9 L804.3,114.9 L806.3,114.9 L808.3,114.9 L810.3,114.9 L812.3,114.9 L814.3,114.9 L816.3,114.9 L818.3,114.9 L820.3,114.8 L822.3,114.8 L824.3,114.8 L826.3,114.8 L828.3,114.8 L830.3,114.8 L832.3,114.8 L834.3,114.8 L836.3,114.8 L838.3,114.8 L840.3,114.7 L842.3,114.7 L844.3,114.7 L846.3,114.7 L848.3,114.7 L850.3,114.7 L852.3,114.7 L854.3,114.7 L856.3,114.6 L858.3,114.6 L860.3,114.6 L862.3,114.6 L864.3,114.6 L866.3,114.6 L868.3,114.6 L870.3,114.6 L872.3,114.5 L874.3,114.5 L876.3,114.5 L878.3,114.5 L880.3,114.5 L882.3,114.5 L884.3,114.4 L886.3,114.4 L888.3,114.4 L890.3,114.4 L892.3,114.4 L894.3,114.4 L896.3,114.4 L898.3,114.3 L900.3,114.3 L902.3,114.3 L904.3,114.3 L906.3,114.3 L908.3,114.2 L910.3,114.2 L912.3,114.2 L914.3,114.2 L916.3,114.2 L918.3,114.1 L920.3,114.1 L922.3,114.1 L924.3,114.1 L926.3,114.1 L928.3,114.0 L930.3,114.0 L932.3,114.0 L934.3,114.0 L936.3,114.0 L938.3,113.9 L940.3,113.9 L942.3,113.9 L944.3,113.9 L946.3,113.8 L948.3,113.8 L950.3,113.8 L952.3,113.8 L954.3,113.7 L956.3,113.7 L958.3,113.7 L960.3,113.6 L962.3,113.6 L964.3,113.6 L966.3,113.6 L968.3,113.5 L970.3,113.5 L972.3,113.5 L974.3,113.4 L976.3,113.4 L978.3,113.4 L980.3,113.3 L982.3,113.3 L984.3,113.3 L986.3,113.2 L988.3,113.2 L990.3,113.1 L992.3,113.1 L994.3,113.1 L996.3,113.0 L998.3,113.0 L1000.3,112.9 L1002.3,112.9 L1004.3,112.9 L1006.3,112.8 L1008.3,112.8 L1010.3,112.7 L1012.3,112.7 L1014.3,112.6 L1016.3,112.6 L1018.3,112.5 L1020.3,112.5 L1022.3,112.4 L1024.3,112.4 L1026.3,112.3 L1028.3,112.3 L1030.3,112.2 L1032.3,112.1 L1034.3,112.1 L1036.3,112.0 L1038.3,112.0 L1040.3,111.9 L1042.3,111.8 L1044.3,111.8 L1046.3,111.7 L1048.3,111.6 L1050.3,111.6 L1052.3,111.5 L1054.3,111.4 L1056.3,111.3 L1058.3,111.3 L1060.3,111.2 L1062.3,111.1 L1064.3,111.0 L1066.3,110.9 L1068.3,110.8 L1070.3,110.7 L1072.3,110.6 L1074.3,110.5 L1076.3,110.5 L1078.3,110.3 L1080.3,110.2 L1082.3,110.1 L1084.3,110.0 L1086.3,109.9 L1088.3,109.8 L1090.3,109.7 L1092.3,109.6 L1094.3,109.4 L1096.3,109.3 L1098.3,109.2 L1100.3,109.0 L1102.3,108.9 L1104.3,108.8 L1106.3,108.6 L1108.3,108.5 L1110.3,108.3 L1112.3,108.1 L1114.3,108.0 L1116.3,107.8 L1118.3,107.6 L1120.3,107.4 L1122.3,107.2 L1124.3,107.1 L1126.3,106.9 L1128.3,106.6 L1130.3,106.4 L1132.3,106.2 L1134.3,106.0 L1136.3,105.8 L1138.4,105.5 L1140.4,105.3 L1142.4,105.0 L1144.4,104.8 L1146.4,104.5 L1148.4,104.2 L1150.4,103.9 L1152.4,103.6 L1154.4,103.3 L1156.4,103.0 L1158.4,102.6 L1160.4,102.3 L1162.4,101.9 L1164.4,101.6 L1166.4,101.2 L1168.4,100.8 L1170.4,100.4 L1172.4,100.0 L1174.4,99.6 L1176.4,99.1 L1178.4,98.6 L1180.4,98.2 L1182.4,97.7 L1184.4,97.2 L1186.4,96.6 L1188.4,96.1 L1190.4,95.5 L1192.4,95.0 L1194.4,94.4 L1196.4,93.7 L1198.4,93.1 L1200.4,92.4 L1202.4,91.8 L1204.4,91.1 L1206.4,90.4 L1208.4,89.6 L1210.4,88.9 L1212.4,88.1 L1214.4,87.3 L1216.4,86.5 L1218.4,85.7 L1220.4,84.9 L1222.4,84.1 L1224.4,83.2 L1226.4,82.3 L1228.4,81.5 L1230.4,80.6 L1232.4,79.7 L1234.4,78.8 L1236.4,78.0 L1238.4,77.1 L1240.4,76.3 L1242.4,75.5 L1244.4,74.7 L1246.4,74.0 L1248.4,73.2 L1250.4,72.4 L1252.4,71.7 L1254.4,71.2 L1256.4,70.7 L1258.4,70.2 L1260.4,69.7 L1262.4,69.2 L1264.4,68.7 L1266.4,68.5 L1268.4,68.5 L1270.4,68.4 L1272.4,68.4 L1274.4,68.4 L1276.4,68.3 L1278.4,68.3 L1280.4,68.7 L1282.4,69.2 L1284.4,69.6 L1286.4,70.0 L1288.4,70.5 L1290.4,70.9 L1292.4,71.5 L1294.4,72.2 L1296.4,73.0 L1298.4,73.7 L1300.4,74.5 L1302.4,75.2 L1304.4,76.0 L1306.4,76.8 L1308.4,77.7 L1310.4,78.6 L1312.4,79.4 L1314.4,80.3 L1316.4,81.2 L1318.4,82.1 L1320.4,82.9 L1322.4,83.8 L1324.4,84.6 L1326.4,85.5 L1328.4,86.3 L1330.4,87.1 L1332.4,87.9 L1334.4,88.6 L1336.4,89.4 L1338.4,90.1 L1340.4,90.9 L1342.4,91.6 L1344.4,92.2 L1346.4,92.9 L1348.4,93.5 L1350.4,94.2 L1352.4,94.8 L1354.4,95.3 L1356.4,95.9 L1358.4,96.5 L1360.4,97.0 L1362.4,97.5 L1364.4,98.0 L1366.4,98.5 L1368.4,99.0 L1370.4,99.4 L1372.4,99.8 L1374.4,100.3 L1376.4,100.7 L1378.4,101.1 L1380.4,101.5 L1382.4,101.8 L1384.4,102.2 L1386.4,102.5 L1388.4,102.9 L1390.4,103.2 L1392.4,103.5 L1394.4,103.8 L1396.4,104.1 L1398.4,104.4 L1400.4,104.7 L1402.4,104.9 L1404.4,105.2 L1406.4,105.4 L1408.4,105.7 L1410.4,105.9 L1412.4,106.1 L1414.4,106.4 L1416.4,106.6 L1418.4,106.8 L1420.4,107.0 L1422.4,107.2 L1424.4,107.4 L1426.4,107.6 L1428.4,107.7 L1430.4,107.9 L1432.4,108.1 L1434.4,108.2 L1436.4,108.4 L1438.4,108.6 L1440.4,108.7 L1442.4,108.8 L1444.4,109.0 L1446.4,109.1 L1448.4,109.3 L1450.4,109.4 L1452.4,109.5 L1454.4,109.6 L1456.4,109.8 L1458.4,109.9 L1460.4,110.0" stroke="#ff0000" stroke-opacity="0.7" stroke-width="2.3" fill="none" stroke-linejoin="round"/>
<path d="M172.2,128.7 L174.2,128.8 L176.2,128.8 L178.2,128.8 L180.2,128.9 L182.2,128.9 L184.2,129.0 L186.2,129.0 L188.2,129.1 L190.2,129.1 L192.2,129.1 L194.2,129.2 L196.2,129.2 L198.2,129.3 L200.2,129.3 L202.2,129.4 L204.2,129.4 L206.2,129.4 L208.2,129.5 L210.2,129.5 L212.2,129.6 L214.2,129.6 L216.2,129.7 L218.2,129.7 L220.2,129.8 L222.2,129.8 L224.2,129.9 L226.2,129.9 L228.2,129.9 L230.2,130.0 L232.2,130.0 L234.2,130.1 L236.2,130.1 L238.2,130.2 L240.2,130.2 L242.2,130.3 L244.2,130.3 L246.2,130.4 L248.2,130.4 L250.2,130.5 L252.2,130.5 L254.2,130.6 L256.2,130.6 L258.2,130.7 L260.2,130.7 L262.2,130.8 L264.2,130.8 L266.2,130.9 L268.2,130.9 L270.2,131.0 L272.2,131.0 L274.2,131.1 L276.2,131.1 L278.2,131.2 L280.2,131.3 L282.2,131.3 L284.2,131.4 L286.2,131.4 L288.2,131.5 L290.2,131.5 L292.2,131.6 L294.2,131.6 L296.2,131.7 L298.2,131.7 L300.2,131.8 L302.2,131.9 L304.2,131.9 L306.2,132.0 L308.2,132.0 L310.2,132.1 L312.2,132.1 L314.2,132.2 L316.2,132.3 L318.2,132.3 L320.2,132.4 L322.2,132.4 L324.2,132.5 L326.2,132.6 L328.2,132.6 L330.2,132.7 L332.2,132.7 L334.2,132.8 L336.2,132.9 L338.2,132.9 L340.2,133.0 L342.2,133.1 L344.2,133.1 L346.2,133.2 L348.2,133.2 L350.2,133.3 L352.2,133.4 L354.2,133.4 L356.2,133.5 L358.2,133.6 L360.2,133.6 L362.2,133.7 L364.2,133.8 L366.2,133.8 L368.2,133.9 L370.2,134.0 L372.2,134.0 L374.2,134.1 L376.2,134.2 L378.2,134.3 L380.2,134.3 L382.2,134.4 L384.2,134.5 L386.2,134.5 L388.2,134.6 L390.2,134.7 L392.2,134.8 L394.2,134.8 L396.2,134.9 L398.2,135.0 L400.2,135.0 L402.2,135.1 L404.2,135.2 L406.2,135.3 L408.2,135.4 L410.2,135.4 L412.2,135.5 L414.2,135.6 L416.2,135.7 L418.2,135.7 L420.2,135.8 L422.2,135.9 L424.2,136.0 L426.2,136.1 L428.2,136.1 L430.2,136.2 L432.2,136.3 L434.2,136.4 L436.2,136.5 L438.2,136.5 L440.2,136.6 L442.2,136.7 L444.2,136.8 L446.2,136.9 L448.2,137.0 L450.2,137.1 L452.2,137.1 L454.2,137.2 L456.2,137.3 L458.2,137.4 L460.2,137.5 L462.2,137.6 L464.2,137.7 L466.2,137.8 L468.2,137.9 L470.2,137.9 L472.2,138.0 L474.2,138.1 L476.2,138.2 L478.2,138.3 L480.2,138.4 L482.2,138.5 L484.2,138.6 L486.2,138.7 L488.2,138.8 L490.2,138.9 L492.2,139.0 L494.2,139.1 L496.3,139.2 L498.3,139.3 L500.3,139.4 L502.3,139.5 L504.3,139.6 L506.3,139.7 L508.3,139.8 L510.3,139.9 L512.3,140.0 L514.3,140.1 L516.3,140.2 L518.3,140.3 L520.3,140.4 L522.3,140.5 L524.3,140.7 L526.3,140.8 L528.3,140.9 L530.3,141.0 L532.3,141.1 L534.3,141.2 L536.3,141.3 L538.3,141.4 L540.3,141.6 L542.3,141.7 L544.3,141.8 L546.3,141.9 L548.3,142.0 L550.3,142.1 L552.3,142.3 L554.3,142.4 L556.3,142.5 L558.3,142.6 L560.3,142.7 L562.3,142.9 L564.3,143.0 L566.3,143.1 L568.3,143.2 L570.3,143.4 L572.3,143.5 L574.3,143.6 L576.3,143.8 L578.3,143.9 L580.3,144.0 L582.3,144.1 L584.3,144.3 L586.3,144.4 L588.3,144.6 L590.3,144.7 L592.3,144.8 L594.3,145.0 L596.3,145.1 L598.3,145.2 L600.3,145.4 L602.3,145.5 L604.3,145.7 L606.3,145.8 L608.3,146.0 L610.3,146.1 L612.3,146.3 L614.3,146.4 L616.3,146.5 L618.3,146.7 L620.3,146.9 L622.3,147.0 L624.3,147.2 L626.3,147.3 L628.3,147.5 L630.3,147.6 L632.3,147.8 L634.3,147.9 L636.3,148.1 L638.3,148.3 L640.3,148.4 L642.3,148.6 L644.3,148.8 L646.3,148.9 L648.3,149.1 L650.3,149.3 L652.3,149.4 L654.3,149.6 L656.3,149.8 L658.3,150.0 L660.3,150.1 L662.3,150.3 L664.3,150.5 L666.3,150.7 L668.3,150.8 L670.3,151.0 L672.3,151.2 L674.3,151.4 L676.3,151.6 L678.3,151.8 L680.3,152.0 L682.3,152.2 L684.3,152.3 L686.3,152.5 L688.3,152.7 L690.3,152.9 L692.3,153.1 L694.3,153.3 L696.3,153.5 L698.3,153.7 L700.3,153.9 L702.3,154.1 L704.3,154.4 L706.3,154.6 L708.3,154.8 L710.3,155.0 L712.3,155.2 L714.3,155.4 L716.3,155.6 L718.3,155.9 L720.3,156.1 L722.3,156.3 L724.3,156.5 L726.3,156.8 L728.3,157.0 L730.3,157.2 L732.3,157.5 L734.3,157.7 L736.3,157.9 L738.3,158.2 L740.3,158.4 L742.3,158.7 L744.3,158.9 L746.3,159.2 L748.3,159.4 L750.3,159.7 L752.3,159.9 L754.3,160.2 L756.3,160.4 L758.3,160.7 L760.3,160.9 L762.3,161.2 L764.3,161.5 L766.3,161.7 L768.3,162.0 L770.3,162.3 L772.3,162.6 L774.3,162.8 L776.3,163.1 L778.3,163.4 L780.3,163.7 L782.3,164.0 L784.3,164.3 L786.3,164.6 L788.3,164.9 L790.3,165.2 L792.3,165.5 L794.3,165.8 L796.3,166.1 L798.3,166.4 L800.3,166.7 L802.3,167.0 L804.3,167.3 L806.3,167.7 L808.3,168.0 L810.3,168.3 L812.3,168.7 L814.3,169.0 L816.3,169.3 L818.3,169.7 L820.3,170.0 L822.3,170.4 L824.3,170.7 L826.3,171.1 L828.3,171.4 L830.3,171.8 L832.3,172.1 L834.3,172.5 L836.3,172.9 L838.3,173.2 L840.3,173.6 L842.3,174.0 L844.3,174.4 L846.3,174.8 L848.3,175.2 L850.3,175.6 L852.3,176.0 L854.3,176.4 L856.3,176.8 L858.3,177.2 L860.3,177.6 L862.3,178.0 L864.3,178.4 L866.3,178.9 L868.3,179.3 L870.3,179.7 L872.3,180.2 L874.3,180.6 L876.3,181.1 L878.3,181.5 L880.3,182.0 L882.3,182.4 L884.3,182.9 L886.3,183.4 L888.3,183.9 L890.3,184.3 L892.3,184.8 L894.3,185.3 L896.3,185.8 L898.3,186.3 L900.3,186.8 L902.3,187.3 L904.3,187.9 L906.3,188.4 L908.3,188.9 L910.3,189.4 L912.3,190.0 L914.3,190.5 L916.3,191.1 L918.3,191.6 L920.3,192.2 L922.3,192.8 L924.3,193.3 L926.3,193.9 L928.3,194.5 L930.3,195.1 L932.3,195.7 L934.3,196.3 L936.3,196.9 L938.3,197.5 L940.3,198.2 L942.3,198.8 L944.3,199.4 L946.3,200.1 L948.3,200.7 L950.3,201.4 L952.3,202.1 L954.3,202.8 L956.3,203.4 L958.3,204.1 L960.3,204.8 L962.3,205.5 L964.3,206.3 L966.3,207.0 L968.3,207.7 L970.3,208.4 L972.3,209.2 L974.3,210.0 L976.3,210.7 L978.3,211.5 L980.3,212.3 L982.3,213.1 L984.3,213.9 L986.3,214.7 L988.3,215.5 L990.3,216.3 L992.3,217.2 L994.3,218.0 L996.3,218.9 L998.3,219.8 L1000.3,220.6 L1002.3,221.5 L1004.3,222.4 L1006.3,223.3 L1008.3,224.3 L1010.3,225.2 L1012.3,226.1 L1014.3,227.1 L1016.3,228.1 L1018.3,229.0 L1020.3,230.0 L1022.3,231.0 L1024.3,232.1 L1026.3,233.1 L1028.3,234.1 L1030.3,235.2 L1032.3,236.2 L1034.3,237.3 L1036.3,238.4 L1038.3,239.5 L1040.3,240.6 L1042.3,241.8 L1044.3,242.9 L1046.3,244.1 L1048.3,245.3 L1050.3,246.5 L1052.3,247.7 L1054.3,248.9 L1056.3,250.1 L1058.3,251.4 L1060.3,252.6 L1062.3,253.9 L1064.3,255.2 L1066.3,256.6 L1068.3,257.9 L1070.3,259.2 L1072.3,260.6 L1074.3,262.0 L1076.3,263.4 L1078.3,264.8 L1080.3,266.3 L1082.3,267.7 L1084.3,269.2 L1086.3,270.7 L1088.3,272.2 L1090.3,273.8 L1092.3,275.3 L1094.3,276.9 L1096.3,278.5 L1098.3,280.1 L1100.3,281.8 L1102.3,283.4 L1104.3,285.1 L1106.3,286.8 L1108.3,288.5 L1110.3,290.3 L1112.3,292.1 L1114.3,293.9 L1116.3,295.7 L1118.3,297.5 L1120.3,299.4 L1122.3,301.3 L1124.3,303.2 L1126.3,305.2 L1128.3,307.1 L1130.3,309.1 L1132.3,311.2 L1134.3,313.2 L1136.3,315.3 L1138.4,317.4 L1140.4,319.5 L1142.4,321.7 L1144.4,323.9 L1146.4,326.1 L1148.4,328.3 L1150.4,330.6 L1152.4,332.9 L1154.4,335.2 L1156.4,337.6 L1158.4,340.0 L1160.4,342.4 L1162.4,344.9 L1164.4,347.4 L1166.4,349.9 L1168.4,352.5 L1170.4,355.1 L1172.4,357.7 L1174.4,360.3 L1176.4,363.0 L1178.4,365.7 L1180.4,368.5 L1182.4,371.3 L1184.4,374.1 L1186.4,377.0 L1188.4,379.9 L1190.4,382.8 L1192.4,385.8 L1194.4,388.8 L1196.4,391.8 L1198.4,394.9 L1200.4,398.0 L1202.4,401.1 L1204.4,404.3 L1206.4,407.5 L1208.4,410.8 L1210.4,414.1 L1212.4,417.4 L1214.4,420.8 L1216.4,424.2 L1218.4,427.6 L1220.4,431.1 L1222.4,434.6 L1224.4,438.2 L1226.4,441.8 L1228.4,445.4 L1230.4,449.0 L1232.4,452.7 L1234.4,456.5 L1236.4,460.2 L1238.4,464.0 L1240.4,467.9 L1242.4,471.7 L1244.4,475.6 L1246.4,479.5 L1248.4,483.5 L1250.4,487.5 L1252.4,491.5 L1254.4,495.5 L1256.4,499.6 L1258.4,503.7 L1260.4,507.8 L1262.4,511.9 L1264.4,516.1 L1266.4,520.3 L1268.4,524.5 L1270.4,528.7 L1272.4,532.9 L1274.4,537.2 L1276.4,541.5 L1278.4,545.7 L1280.4,550.0 L1282.4,554.3 L1284.4,558.6 L1286.4,562.9 L1288.4,567.2 L1290.4,571.5 L1292.4,575.8 L1294.4,580.0 L1296.4,584.3 L1298.4,588.6 L1300.4,592.8 L1302.4,597.0 L1304.4,601.2 L1306.4,605.4 L1308.4,609.5 L1310.4,613.6 L1312.4,617.7 L1314.4,621.7 L1316.4,625.7 L1318.4,629.7 L1320.4,633.6 L1322.4,637.4 L1324.4,641.2 L1326.4,644.9 L1328.4,648.6 L1330.4,652.2 L1332.4,655.7 L1334.4,659.1 L1336.4,662.5 L1338.4,665.8 L1340.4,669.0 L1342.4,672.1 L1344.4,675.1 L1346.4,678.0 L1348.4,680.8 L1350.4,683.5 L1352.4,686.1 L1354.4,688.6 L1356.4,690.9 L1358.4,693.2 L1360.4,695.3 L1362.4,697.3 L1364.4,699.2 L1366.4,700.9 L1368.4,702.5 L1370.4,704.0 L1372.4,705.4 L1374.4,706.6 L1376.4,707.6 L1378.4,708.5 L1380.4,709.3 L1382.4,709.9 L1384.4,710.4 L1386.4,710.8 L1388.4,711.0 L1390.4,711.0 L1392.4,710.9 L1394.4,710.6 L1396.4,710.3 L1398.4,709.7 L1400.4,709.0 L1402.4,708.2 L1404.4,707.2 L1406.4,706.1 L1408.4,704.9 L1410.4,703.5 L1412.4,701.9 L1414.4,700.3 L1416.4,698.5 L1418.4,696.6 L1420.4,694.5 L1422.4,692.3 L1424.4,690.0 L1426.4,687.6 L1428.4,685.1 L1430.4,682.5 L1432.4,679.7 L1434.4,676.9 L1436.4,673.9 L1438.4,670.9 L1440.4,667.7 L1442.4,664.5 L1444.4,661.2 L1446.4,657.8 L1448.4,654.3 L1450.4,650.8 L1452.4,647.2 L1454.4,643.5 L1456.4,639.7 L1458.4,635.9 L1460.4,632.1" stroke="#ff0000" stroke-opacity="0.7" stroke-width="2.3" fill="none" stroke-linejoin="round"/>
<path d="M172.2,111.8 L174.2,111.7 L176.2,111.7 L178.2,111.6 L180.2,111.6 L182.2,111.5 L184.2,111.5 L186.2,111.4 L188.2,111.3 L190.2,111.3 L192.2,111.2 L194.2,111.2 L196.2,111.1 L198.2,111.0 L200.2,111.0 L202.2,110.9 L204.2,110.9 L206.2,110.8 L208.2,110.7 L210.2,110.7 L212.2,110.6 L214.2,110.6 L216.2,110.5 L218.2,110.4 L220.2,110.4 L222.2,110.3 L224.2,110.2 L226.2,110.2 L228.2,110.1 L230.2,110.0 L232.2,110.0 L234.2,109.9 L236.2,109.8 L238.2,109.8 L240.2,109.7 L242.2,109.6 L244.2,109.6 L246.2,109.5 L248.2,109.4 L250.2,109.3 L252.2,109.3 L254.2,109.2 L256.2,109.1 L258.2,109.1 L260.2,109.0 L262.2,108.9 L264.2,108.8 L266.2,108.8 L268.2,108.7 L270.2,108.6 L272.2,108.6 L274.2,108.5 L276.2,108.4 L278.2,108.3 L280.2,108.3 L282.2,108.2 L284.2,108.1 L286.2,108.0 L288.2,108.0 L290.2,107.9 L292.2,107.8 L294.2,107.7 L296.2,107.6 L298.2,107.6 L300.2,107.5 L302.2,107.4 L304.2,107.3 L306.2,107.3 L308.2,107.2 L310.2,107.1 L312.2,107.0 L314.2,106.9 L316.2,106.9 L318.2,106.8 L320.2,106.7 L322.2,106.6 L324.2,106.6 L326.2,106.5 L328.2,106.4 L330.2,106.3 L332.2,106.2 L334.2,106.2 L336.2,106.1 L338.2,106.0 L340.2,105.9 L342.2,105.8 L344.2,105.8 L346.2,105.7 L348.2,105.6 L350.2,105.5 L352.2,105.4 L354.2,105.4 L356.2,105.3 L358.2,105.2 L360.2,105.1 L362.2,105.0 L364.2,105.0 L366.2,104.9 L368.2,104.8 L370.2,104.7 L372.2,104.6 L374.2,104.6 L376.2,104.5 L378.2,104.4 L380.2,104.3 L382.2,104.3 L384.2,104.2 L386.2,104.1 L388.2,104.0 L390.2,103.9 L392.2,103.9 L394.2,103.8 L396.2,103.7 L398.2,103.6 L400.2,103.6 L402.2,103.5 L404.2,103.4 L406.2,103.3 L408.2,103.3 L410.2,103.2 L412.2,103.1 L414.2,103.0 L416.2,103.0 L418.2,102.9 L420.2,102.8 L422.2,102.7 L424.2,102.7 L426.2,102.6 L428.2,102.5 L430.2,102.5 L432.2,102.4 L434.2,102.3 L436.2,102.3 L438.2,102.2 L440.2,102.1 L442.2,102.0 L444.2,102.0 L446.2,101.9 L448.2,101.8 L450.2,101.8 L452.2,101.7 L454.2,101.6 L456.2,101.6 L458.2,101.5 L460.2,101.5 L462.2,101.4 L464.2,101.3 L466.2,101.3 L468.2,101.2 L470.2,101.2 L472.2,101.1 L474.2,101.0 L476.2,101.0 L478.2,100.9 L480.2,100.9 L482.2,100.8 L484.2,100.8 L486.2,100.7 L488.2,100.6 L490.2,100.6 L492.2,100.5 L494.2,100.5 L496.3,100.4 L498.3,100.4 L500.3,100.3 L502.3,100.3 L504.3,100.2 L506.3,100.2 L508.3,100.1 L510.3,100.1 L512.3,100.1 L514.3,100.0 L516.3,100.0 L518.3,99.9 L520.3,99.9 L522.3,99.8 L524.3,99.8 L526.3,99.8 L528.3,99.7 L530.3,99.7 L532.3,99.7 L534.3,99.6 L536.3,99.6 L538.3,99.6 L540.3,99.5 L542.3,99.5 L544.3,99.5 L546.3,99.4 L548.3,99.4 L550.3,99.4 L552.3,99.3 L554.3,99.3 L556.3,99.3 L558.3,99.3 L560.3,99.3 L562.3,99.2 L564.3,99.2 L566.3,99.2 L568.3,99.2 L570.3,99.2 L572.3,99.1 L574.3,99.1 L576.3,99.1 L578.3,99.1 L580.3,99.1 L582.3,99.1 L584.3,99.1 L586.3,99.0 L588.3,99.0 L590.3,99.0 L592.3,99.0 L594.3,99.0 L596.3,99.0 L598.3,99.0 L600.3,99.0 L602.3,99.0 L604.3,99.0 L606.3,99.0 L608.3,99.0 L610.3,99.0 L612.3,99.0 L614.3,99.0 L616.3,99.0 L618.3,99.0 L620.3,99.0 L622.3,99.0 L624.3,99.0 L626.3,99.1 L628.3,99.1 L630.3,99.1 L632.3,99.1 L634.3,99.1 L636.3,99.1 L638.3,99.1 L640.3,99.2 L642.3,99.2 L644.3,99.2 L646.3,99.2 L648.3,99.2 L650.3,99.3 L652.3,99.3 L654.3,99.3 L656.3,99.3 L658.3,99.4 L660.3,99.4 L662.3,99.4 L664.3,99.4 L666.3,99.5 L668.3,99.5 L670.3,99.5 L672.3,99.6 L674.3,99.6 L676.3,99.6 L678.3,99.7 L680.3,99.7 L682.3,99.7 L684.3,99.8 L686.3,99.8 L688.3,99.9 L690.3,99.9 L692.3,99.9 L694.3,100.0 L696.3,100.0 L698.3,100.1 L700.3,100.1 L702.3,100.2 L704.3,100.2 L706.3,100.3 L708.3,100.3 L710.3,100.3 L712.3,100.4 L714.3,100.4 L716.3,100.5 L718.3,100.6 L720.3,100.6 L722.3,100.7 L724.3,100.7 L726.3,100.8 L728.3,100.8 L730.3,100.9 L732.3,100.9 L734.3,101.0 L736.3,101.0 L738.3,101.1 L740.3,101.2 L742.3,101.2 L744.3,101.3 L746.3,101.4 L748.3,101.4 L750.3,101.5 L752.3,101.5 L754.3,101.6 L756.3,101.7 L758.3,101.7 L760.3,101.8 L762.3,101.9 L764.3,101.9 L766.3,102.0 L768.3,102.1 L770.3,102.1 L772.3,102.2 L774.3,102.3 L776.3,102.3 L778.3,102.4 L780.3,102.5 L782.3,102.6 L784.3,102.6 L786.3,102.7 L788.3,102.8 L790.3,102.8 L792.3,102.9 L794.3,103.0 L796.3,103.1 L798.3,103.1 L800.3,103.2 L802.3,103.3 L804.3,103.4 L806.3,103.4 L808.3,103.5 L810.3,103.6 L812.3,103.7 L814.3,103.7 L816.3,103.8 L818.3,103.9 L820.3,104.0 L822.3,104.0 L824.3,104.1 L826.3,104.2 L828.3,104.3 L830.3,104.4 L832.3,104.4 L834.3,104.5 L836.3,104.6 L838.3,104.7 L840.3,104.7 L842.3,104.8 L844.3,104.9 L846.3,105.0 L848.3,105.1 L850.3,105.1 L852.3,105.2 L854.3,105.3 L856.3,105.4 L858.3,105.5 L860.3,105.5 L862.3,105.6 L864.3,105.7 L866.3,105.8 L868.3,105.9 L870.3,105.9 L872.3,106.0 L874.3,106.1 L876.3,106.2 L878.3,106.3 L880.3,106.3 L882.3,106.4 L884.3,106.5 L886.3,106.6 L888.3,106.7 L890.3,106.7 L892.3,106.8 L894.3,106.9 L896.3,107.0 L898.3,107.0 L900.3,107.1 L902.3,107.2 L904.3,107.3 L906.3,107.4 L908.3,107.4 L910.3,107.5 L912.3,107.6 L914.3,107.7 L916.3,107.7 L918.3,107.8 L920.3,107.9 L922.3,108.0 L924.3,108.0 L926.3,108.1 L928.3,108.2 L930.3,108.3 L932.3,108.4 L934.3,108.4 L936.3,108.5 L938.3,108.6 L940.3,108.6 L942.3,108.7 L944.3,108.8 L946.3,108.9 L948.3,108.9 L950.3,109.0 L952.3,109.1 L954.3,109.2 L956.3,109.2 L958.3,109.3 L960.3,109.4 L962.3,109.4 L964.3,109.5 L966.3,109.6 L968.3,109.6 L970.3,109.7 L972.3,109.8 L974.3,109.8 L976.3,109.9 L978.3,110.0 L980.3,110.1 L982.3,110.1 L984.3,110.2 L986.3,110.2 L988.3,110.3 L990.3,110.4 L992.3,110.4 L994.3,110.5 L996.3,110.6 L998.3,110.6 L1000.3,110.7 L1002.3,110.8 L1004.3,110.8 L1006.3,110.9 L1008.3,110.9 L1010.3,111.0 L1012.3,111.1 L1014.3,111.1 L1016.3,111.2 L1018.3,111.2 L1020.3,111.3 L1022.3,111.4 L1024.3,111.4 L1026.3,111.5 L1028.3,111.5 L1030.3,111.6 L1032.3,111.6 L1034.3,111.7 L1036.3,111.8 L1038.3,111.8 L1040.3,111.9 L1042.3,111.9 L1044.3,112.0 L1046.3,112.0 L1048.3,112.1 L1050.3,112.1 L1052.3,112.2 L1054.3,112.2 L1056.3,112.3 L1058.3,112.3 L1060.3,112.4 L1062.3,112.4 L1064.3,112.5 L1066.3,112.5 L1068.3,112.6 L1070.3,112.6 L1072.3,112.7 L1074.3,112.7 L1076.3,112.8 L1078.3,112.8 L1080.3,112.8 L1082.3,112.9 L1084.3,112.9 L1086.3,113.0 L1088.3,113.0 L1090.3,113.1 L1092.3,113.1 L1094.3,113.1 L1096.3,113.2 L1098.3,113.2 L1100.3,113.3 L1102.3,113.3 L1104.3,113.3 L1106.3,113.4 L1108.3,113.4 L1110.3,113.5 L1112.3,113.5 L1114.3,113.5 L1116.3,113.6 L1118.3,113.6 L1120.3,113.7 L1122.3,113.7 L1124.3,113.7 L1126.3,113.8 L1128.3,113.8 L1130.3,113.8 L1132.3,113.9 L1134.3,113.9 L1136.3,113.9 L1138.4,114.0 L1140.4,114.0 L1142.4,114.0 L1144.4,114.1 L1146.4,114.1 L1148.4,114.1 L1150.4,114.1 L1152.4,114.2 L1154.4,114.2 L1156.4,114.2 L1158.4,114.3 L1160.4,114.3 L1162.4,114.3 L1164.4,114.3 L1166.4,114.4 L1168.4,114.4 L1170.4,114.4 L1172.4,114.5 L1174.4,114.5 L1176.4,114.5 L1178.4,114.5 L1180.4,114.6 L1182.4,114.6 L1184.4,114.6 L1186.4,114.6 L1188.4,114.7 L1190.4,114.7 L1192.4,114.7 L1194.4,114.7 L1196.4,114.7 L1198.4,114.8 L1200.4,114.8 L1202.4,114.8 L1204.4,114.8 L1206.4,114.9 L1208.4,114.9 L1210.4,114.9 L1212.4,114.9 L1214.4,114.9 L1216.4,115.0 L1218.4,115.0 L1220.4,115.0 L1222.4,115.0 L1224.4,115.0 L1226.4,115.0 L1228.4,115.1 L1230.4,115.1 L1232.4,115.1 L1234.4,115.1 L1236.4,115.1 L1238.4,115.1 L1240.4,115.2 L1242.4,115.2 L1244.4,115.2 L1246.4,115.2 L1248.4,115.2 L1250.4,115.2 L1252.4,115.3 L1254.4,115.3 L1256.4,115.3 L1258.4,115.3 L1260.4,115.3 L1262.4,115.3 L1264.4,115.3 L1266.4,115.3 L1268.4,115.4 L1270.4,115.4 L1272.4,115.4 L1274.4,115.4 L1276.4,115.4 L1278.4,115.4 L1280.4,115.4 L1282.4,115.4 L1284.4,115.5 L1286.4,115.5 L1288.4,115.5 L1290.4,115.5 L1292.4,115.5 L1294.4,115.5 L1296.4,115.5 L1298.4,115.5 L1300.4,115.5 L1302.4,115.5 L1304.4,115.6 L1306.4,115.6 L1308.4,115.6 L1310.4,115.6 L1312.4,115.6 L1314.4,115.6 L1316.4,115.6 L1318.4,115.6 L1320.4,115.6 L1322.4,115.6 L1324.4,115.6 L1326.4,115.6 L1328.4,115.7 L1330.4,115.7 L1332.4,115.7 L1334.4,115.7 L1336.4,115.7 L1338.4,115.7 L1340.4,115.7 L1342.4,115.7 L1344.4,115.7 L1346.4,115.7 L1348.4,115.7 L1350.4,115.7 L1352.4,115.7 L1354.4,115.7 L1356.4,115.7 L1358.4,115.8 L1360.4,115.8 L1362.4,115.8 L1364.4,115.8 L1366.4,115.8 L1368.4,115.8 L1370.4,115.8 L1372.4,115.8 L1374.4,115.8 L1376.4,115.8 L1378.4,115.8 L1380.4,115.8 L1382.4,115.8 L1384.4,115.8 L1386.4,115.8 L1388.4,115.8 L1390.4,115.8 L1392.4,115.8 L1394.4,115.8 L1396.4,115.8 L1398.4,115.8 L1400.4,115.8 L1402.4,115.9 L1404.4,115.9 L1406.4,115.9 L1408.4,115.9 L1410.4,115.9 L1412.4,115.9 L1414.4,115.9 L1416.4,115.9 L1418.4,115.9 L1420.4,115.9 L1422.4,115.9 L1424.4,115.9 L1426.4,115.9 L1428.4,115.9 L1430.4,115.9 L1432.4,115.9 L1434.4,115.9 L1436.4,115.9 L1438.4,115.9 L1440.4,115.9 L1442.4,115.9 L1444.4,115.9 L1446.4,115.9 L1448.4,115.9 L1450.4,115.9 L1452.4,115.9 L1454.4,115.9 L1456.4,115.9 L1458.4,115.9 L1460.4,115.9" stroke="#000000" stroke-opacity="0.72" stroke-width="2.3" fill="none" stroke-linejoin="round"/>
<path d="M172.2,116.0 L174.2,116.0 L176.2,116.0 L178.2,116.0 L180.2,116.0 L182.2,116.0 L184.2,116.0 L186.2,116.0 L188.2,116.0 L190.2,116.0 L192.2,116.0 L194.2,116.0 L196.2,116.0 L198.2,116.0 L200.2,116.0 L202.2,116.0 L204.2,116.0 L206.2,116.0 L208.2,116.0 L210.2,116.0 L212.2,116.0 L214.2,116.0 L216.2,116.0 L218.2,116.0 L220.2,116.0 L222.2,116.0 L224.2,116.0 L226.2,116.0 L228.2,116.0 L230.2,116.0 L232.2,116.0 L234.2,116.0 L236.2,116.0 L238.2,116.0 L240.2,116.0 L242.2,116.0 L244.2,116.0 L246.2,116.0 L248.2,116.0 L250.2,116.0 L252.2,116.0 L254.2,116.0 L256.2,116.0 L258.2,116.0 L260.2,116.0 L262.2,116.0 L264.2,116.0 L266.2,116.0 L268.2,116.0 L270.2,116.0 L272.2,116.0 L274.2,116.0 L276.2,116.0 L278.2,116.0 L280.2,116.0 L282.2,116.0 L284.2,116.0 L286.2,116.0 L288.2,116.0 L290.2,116.0 L292.2,116.0 L294.2,116.0 L296.2,116.0 L298.2,116.0 L300.2,116.0 L302.2,116.0 L304.2,116.0 L306.2,116.0 L308.2,116.0 L310.2,116.0 L312.2,116.0 L314.2,116.0 L316.2,116.0 L318.2,116.0 L320.2,116.0 L322.2,116.0 L324.2,116.0 L326.2,116.0 L328.2,116.0 L330.2,116.0 L332.2,116.0 L334.2,116.0 L336.2,116.0 L338.2,116.0 L340.2,116.0 L342.2,116.0 L344.2,116.0 L346.2,116.0 L348.2,116.0 L350.2,116.0 L352.2,116.0 L354.2,116.0 L356.2,116.0 L358.2,116.0 L360.2,116.0 L362.2,116.0 L364.2,116.0 L366.2,116.0 L368.2,116.0 L370.2,116.0 L372.2,116.0 L374.2,116.0 L376.2,116.0 L378.2,116.0 L380.2,116.0 L382.2,116.0 L384.2,116.0 L386.2,116.0 L388.2,116.0 L390.2,116.0 L392.2,116.0 L394.2,116.0 L396.2,116.0 L398.2,116.0 L400.2,116.0 L402.2,116.0 L404.2,116.0 L406.2,116.0 L408.2,116.0 L410.2,116.0 L412.2,116.0 L414.2,116.0 L416.2,116.0 L418.2,116.0 L420.2,116.0 L422.2,116.0 L424.2,116.0 L426.2,116.0 L428.2,116.0 L430.2,116.0 L432.2,116.0 L434.2,116.0 L436.2,116.0 L438.2,116.0 L440.2,116.0 L442.2,116.0 L444.2,116.0 L446.2,116.0 L448.2,116.0 L450.2,116.0 L452.2,116.0 L454.2,116.0 L456.2,116.0 L458.2,116.0 L460.2,116.0 L462.2,116.0 L464.2,116.0 L466.2,116.0 L468.2,116.0 L470.2,116.0 L472.2,116.0 L474.2,116.0 L476.2,116.0 L478.2,116.0 L480.2,116.0 L482.2,116.0 L484.2,116.0 L486.2,116.0 L488.2,116.0 L490.2,116.0 L492.2,116.1 L494.2,116.1 L496.3,116.1 L498.3,116.1 L500.3,116.1 L502.3,116.1 L504.3,116.1 L506.3,116.1 L508.3,116.1 L510.3,116.1 L512.3,116.1 L514.3,116.1 L516.3,116.2 L518.3,116.2 L520.3,116.2 L522.3,116.2 L524.3,116.2 L526.3,116.2 L528.3,116.3 L530.3,116.3 L532.3,116.3 L534.3,116.3 L536.3,116.4 L538.3,116.4 L540.3,116.4 L542.3,116.4 L544.3,116.5 L546.3,116.5 L548.3,116.6 L550.3,116.6 L552.3,116.7 L554.3,116.7 L556.3,116.8 L558.3,116.8 L560.3,116.9 L562.3,116.9 L564.3,117.0 L566.3,117.1 L568.3,117.2 L570.3,117.3 L572.3,117.4 L574.3,117.5 L576.3,117.6 L578.3,117.7 L580.3,117.8 L582.3,117.9 L584.3,118.1 L586.3,118.2 L588.3,118.4 L590.3,118.5 L592.3,118.7 L594.3,118.9 L596.3,119.1 L598.3,119.3 L600.3,119.5 L602.3,119.8 L604.3,120.0 L606.3,120.3 L608.3,120.6 L610.3,120.9 L612.3,121.2 L614.3,121.5 L616.3,121.9 L618.3,122.2 L620.3,122.6 L622.3,123.0 L624.3,123.5 L626.3,123.9 L628.3,124.4 L630.3,124.9 L632.3,125.4 L634.3,126.0 L636.3,126.6 L638.3,127.2 L640.3,127.8 L642.3,128.5 L644.3,129.2 L646.3,130.0 L648.3,130.7 L650.3,131.6 L652.3,132.4 L654.3,133.3 L656.3,134.2 L658.3,135.2 L660.3,136.2 L662.3,137.2 L664.3,138.3 L666.3,139.5 L668.3,140.7 L670.3,141.9 L672.3,143.2 L674.3,144.5 L676.3,145.9 L678.3,147.4 L680.3,148.9 L682.3,150.4 L684.3,152.0 L686.3,153.7 L688.3,155.4 L690.3,157.2 L692.3,159.1 L694.3,161.0 L696.3,162.9 L698.3,165.0 L700.3,167.1 L702.3,169.3 L704.3,171.5 L706.3,173.8 L708.3,176.2 L710.3,178.6 L712.3,181.1 L714.3,183.7 L716.3,186.3 L718.3,189.0 L720.3,191.8 L722.3,194.7 L724.3,197.6 L726.3,200.6 L728.3,203.6 L730.3,206.8 L732.3,210.0 L734.3,213.2 L736.3,216.6 L738.3,220.0 L740.3,223.4 L742.3,227.0 L744.3,230.6 L746.3,234.2 L748.3,237.9 L750.3,241.7 L752.3,245.5 L754.3,249.4 L756.3,253.3 L758.3,257.3 L760.3,261.4 L762.3,265.4 L764.3,269.6 L766.3,273.7 L768.3,277.9 L770.3,282.2 L772.3,286.4 L774.3,290.7 L776.3,295.1 L778.3,299.4 L780.3,303.8 L782.3,308.2 L784.3,312.6 L786.3,317.0 L788.3,321.4 L790.3,325.8 L792.3,330.2 L794.3,334.5 L796.3,338.9 L798.3,343.3 L800.3,347.6 L802.3,351.9 L804.3,356.2 L806.3,360.4 L808.3,364.6 L810.3,368.8 L812.3,372.9 L814.3,377.0 L816.3,381.0 L818.3,384.9 L820.3,388.8 L822.3,392.5 L824.3,396.3 L826.3,399.9 L828.3,403.4 L830.3,406.9 L832.3,410.3 L834.3,413.5 L836.3,416.7 L838.3,419.7 L840.3,422.7 L842.3,425.5 L844.3,428.2 L846.3,430.8 L848.3,433.3 L850.3,435.6 L852.3,437.8 L854.3,439.9 L856.3,441.8 L858.3,443.6 L860.3,445.2 L862.3,446.8 L864.3,448.1 L866.3,449.3 L868.3,450.4 L870.3,451.3 L872.3,452.0 L874.3,452.6 L876.3,453.1 L878.3,453.4 L880.3,453.5 L882.3,453.5 L884.3,453.3 L886.3,453.0 L888.3,452.5 L890.3,451.8 L892.3,451.0 L894.3,450.1 L896.3,449.0 L898.3,447.7 L900.3,446.3 L902.3,444.8 L904.3,443.1 L906.3,441.2 L908.3,439.3 L910.3,437.1 L912.3,434.9 L914.3,432.5 L916.3,430.0 L918.3,427.4 L920.3,424.6 L922.3,421.8 L924.3,418.8 L926.3,415.7 L928.3,412.5 L930.3,409.2 L932.3,405.8 L934.3,402.4 L936.3,398.8 L938.3,395.1 L940.3,391.4 L942.3,387.6 L944.3,383.7 L946.3,379.7 L948.3,375.7 L950.3,371.6 L952.3,367.5 L954.3,363.3 L956.3,359.1 L958.3,354.9 L960.3,350.6 L962.3,346.3 L964.3,341.9 L966.3,337.6 L968.3,333.2 L970.3,328.8 L972.3,324.4 L974.3,320.0 L976.3,315.6 L978.3,311.2 L980.3,306.8 L982.3,302.4 L984.3,298.1 L986.3,293.7 L988.3,289.4 L990.3,285.1 L992.3,280.9 L994.3,276.6 L996.3,272.4 L998.3,268.3 L1000.3,264.2 L1002.3,260.1 L1004.3,256.1 L1006.3,252.1 L1008.3,248.2 L1010.3,244.3 L1012.3,240.5 L1014.3,236.8 L1016.3,233.1 L1018.3,229.4 L1020.3,225.9 L1022.3,222.4 L1024.3,218.9 L1026.3,215.5 L1028.3,212.2 L1030.3,209.0 L1032.3,205.8 L1034.3,202.7 L1036.3,199.7 L1038.3,196.7 L1040.3,193.8 L1042.3,191.0 L1044.3,188.2 L1046.3,185.5 L1048.3,182.9 L1050.3,180.3 L1052.3,177.8 L1054.3,175.4 L1056.3,173.1 L1058.3,170.8 L1060.3,168.6 L1062.3,166.4 L1064.3,164.3 L1066.3,162.3 L1068.3,160.4 L1070.3,158.5 L1072.3,156.7 L1074.3,154.9 L1076.3,153.2 L1078.3,151.5 L1080.3,149.9 L1082.3,148.4 L1084.3,146.9 L1086.3,145.5 L1088.3,144.1 L1090.3,142.8 L1092.3,141.5 L1094.3,140.3 L1096.3,139.1 L1098.3,138.0 L1100.3,136.9 L1102.3,135.9 L1104.3,134.9 L1106.3,133.9 L1108.3,133.0 L1110.3,132.1 L1112.3,131.3 L1114.3,130.5 L1116.3,129.7 L1118.3,129.0 L1120.3,128.3 L1122.3,127.6 L1124.3,127.0 L1126.3,126.4 L1128.3,125.8 L1130.3,125.3 L1132.3,124.8 L1134.3,124.3 L1136.3,123.8 L1138.4,123.3 L1140.4,122.9 L1142.4,122.5 L1144.4,122.1 L1146.4,121.8 L1148.4,121.4 L1150.4,121.1 L1152.4,120.8 L1154.4,120.5 L1156.4,120.2 L1158.4,120.0 L1160.4,119.7 L1162.4,119.5 L1164.4,119.3 L1166.4,119.0 L1168.4,118.9 L1170.4,118.7 L1172.4,118.5 L1174.4,118.3 L1176.4,118.2 L1178.4,118.0 L1180.4,117.9 L1182.4,117.8 L1184.4,117.7 L1186.4,117.5 L1188.4,117.4 L1190.4,117.3 L1192.4,117.2 L1194.4,117.2 L1196.4,117.1 L1198.4,117.0 L1200.4,116.9 L1202.4,116.9 L1204.4,116.8 L1206.4,116.7 L1208.4,116.7 L1210.4,116.6 L1212.4,116.6 L1214.4,116.5 L1216.4,116.5 L1218.4,116.5 L1220.4,116.4 L1222.4,116.4 L1224.4,116.4 L1226.4,116.3 L1228.4,116.3 L1230.4,116.3 L1232.4,116.3 L1234.4,116.2 L1236.4,116.2 L1238.4,116.2 L1240.4,116.2 L1242.4,116.2 L1244.4,116.2 L1246.4,116.2 L1248.4,116.1 L1250.4,116.1 L1252.4,116.1 L1254.4,116.1 L1256.4,116.1 L1258.4,116.1 L1260.4,116.1 L1262.4,116.1 L1264.4,116.1 L1266.4,116.1 L1268.4,116.1 L1270.4,116.1 L1272.4,116.0 L1274.4,116.0 L1276.4,116.0 L1278.4,116.0 L1280.4,116.0 L1282.4,116.0 L1284.4,116.0 L1286.4,116.0 L1288.4,116.0 L1290.4,116.0 L1292.4,116.0 L1294.4,116.0 L1296.4,116.0 L1298.4,116.0 L1300.4,116.0 L1302.4,116.0 L1304.4,116.0 L1306.4,116.0 L1308.4,116.0 L1310.4,116.0 L1312.4,116.0 L1314.4,116.0 L1316.4,116.0 L1318.4,116.0 L1320.4,116.0 L1322.4,116.0 L1324.4,116.0 L1326.4,116.0 L1328.4,116.0 L1330.4,116.0 L1332.4,116.0 L1334.4,116.0 L1336.4,116.0 L1338.4,116.0 L1340.4,116.0 L1342.4,116.0 L1344.4,116.0 L1346.4,116.0 L1348.4,116.0 L1350.4,116.0 L1352.4,116.0 L1354.4,116.0 L1356.4,116.0 L1358.4,116.0 L1360.4,116.0 L1362.4,116.0 L1364.4,116.0 L1366.4,116.0 L1368.4,116.0 L1370.4,116.0 L1372.4,116.0 L1374.4,116.0 L1376.4,116.0 L1378.4,116.0 L1380.4,116.0 L1382.4,116.0 L1384.4,116.0 L1386.4,116.0 L1388.4,116.0 L1390.4,116.0 L1392.4,116.0 L1394.4,116.0 L1396.4,116.0 L1398.4,116.0 L1400.4,116.0 L1402.4,116.0 L1404.4,116.0 L1406.4,116.0 L1408.4,116.0 L1410.4,116.0 L1412.4,116.0 L1414.4,116.0 L1416.4,116.0 L1418.4,116.0 L1420.4,116.0 L1422.4,116.0 L1424.4,116.0 L1426.4,116.0 L1428.4,116.0 L1430.4,116.0 L1432.4,116.0 L1434.4,116.0 L1436.4,116.0 L1438.4,116.0 L1440.4,116.0 L1442.4,116.0 L1444.4,116.0 L1446.4,116.0 L1448.4,116.0 L1450.4,116.0 L1452.4,116.0 L1454.4,116.0 L1456.4,116.0 L1458.4,116.0 L1460.4,116.0" stroke="#000000" stroke-opacity="0.72" stroke-width="2.3" fill="none" stroke-linejoin="round"/>
<path d="M172.2,115.7 L174.2,115.7 L176.2,115.7 L178.2,115.7 L180.2,115.7 L182.2,115.7 L184.2,115.7 L186.2,115.7 L188.2,115.7 L190.2,115.7 L192.2,115.7 L194.2,115.7 L196.2,115.7 L198.2,115.7 L200.2,115.7 L202.2,115.7 L204.2,115.7 L206.2,115.7 L208.2,115.7 L210.2,115.7 L212.2,115.7 L214.2,115.7 L216.2,115.7 L218.2,115.7 L220.2,115.7 L222.2,115.7 L224.2,115.7 L226.2,115.7 L228.2,115.7 L230.2,115.7 L232.2,115.7 L234.2,115.7 L236.2,115.7 L238.2,115.7 L240.2,115.7 L242.2,115.7 L244.2,115.7 L246.2,115.7 L248.2,115.7 L250.2,115.7 L252.2,115.7 L254.2,115.7 L256.2,115.7 L258.2,115.7 L260.2,115.7 L262.2,115.7 L264.2,115.6 L266.2,115.6 L268.2,115.6 L270.2,115.6 L272.2,115.6 L274.2,115.6 L276.2,115.6 L278.2,115.6 L280.2,115.6 L282.2,115.6 L284.2,115.6 L286.2,115.6 L288.2,115.6 L290.2,115.6 L292.2,115.6 L294.2,115.6 L296.2,115.6 L298.2,115.6 L300.2,115.6 L302.2,115.6 L304.2,115.6 L306.2,115.6 L308.2,115.6 L310.2,115.6 L312.2,115.6 L314.2,115.6 L316.2,115.6 L318.2,115.6 L320.2,115.6 L322.2,115.6 L324.2,115.6 L326.2,115.6 L328.2,115.6 L330.2,115.6 L332.2,115.6 L334.2,115.6 L336.2,115.6 L338.2,115.6 L340.2,115.6 L342.2,115.6 L344.2,115.6 L346.2,115.6 L348.2,115.6 L350.2,115.6 L352.2,115.6 L354.2,115.6 L356.2,115.6 L358.2,115.6 L360.2,115.6 L362.2,115.6 L364.2,115.6 L366.2,115.6 L368.2,115.6 L370.2,115.6 L372.2,115.6 L374.2,115.6 L376.2,115.6 L378.2,115.6 L380.2,115.6 L382.2,115.6 L384.2,115.5 L386.2,115.5 L388.2,115.5 L390.2,115.5 L392.2,115.5 L394.2,115.5 L396.2,115.5 L398.2,115.5 L400.2,115.5 L402.2,115.5 L404.2,115.5 L406.2,115.5 L408.2,115.5 L410.2,115.5 L412.2,115.5 L414.2,115.5 L416.2,115.5 L418.2,115.5 L420.2,115.5 L422.2,115.5 L424.2,115.5 L426.2,115.5 L428.2,115.5 L430.2,115.5 L432.2,115.5 L434.2,115.5 L436.2,115.5 L438.2,115.5 L440.2,115.5 L442.2,115.5 L444.2,115.5 L446.2,115.5 L448.2,115.5 L450.2,115.5 L452.2,115.5 L454.2,115.5 L456.2,115.5 L458.2,115.5 L460.2,115.5 L462.2,115.5 L464.2,115.5 L466.2,115.5 L468.2,115.5 L470.2,115.4 L472.2,115.4 L474.2,115.4 L476.2,115.4 L478.2,115.4 L480.2,115.4 L482.2,115.4 L484.2,115.4 L486.2,115.4 L488.2,115.4 L490.2,115.4 L492.2,115.4 L494.2,115.4 L496.3,115.4 L498.3,115.4 L500.3,115.4 L502.3,115.4 L504.3,115.4 L506.3,115.4 L508.3,115.4 L510.3,115.4 L512.3,115.4 L514.3,115.4 L516.3,115.4 L518.3,115.4 L520.3,115.4 L522.3,115.4 L524.3,115.4 L526.3,115.4 L528.3,115.4 L530.3,115.4 L532.3,115.4 L534.3,115.3 L536.3,115.3 L538.3,115.3 L540.3,115.3 L542.3,115.3 L544.3,115.3 L546.3,115.3 L548.3,115.3 L550.3,115.3 L552.3,115.3 L554.3,115.3 L556.3,115.3 L558.3,115.3 L560.3,115.3 L562.3,115.3 L564.3,115.3 L566.3,115.3 L568.3,115.3 L570.3,115.3 L572.3,115.3 L574.3,115.3 L576.3,115.3 L578.3,115.3 L580.3,115.3 L582.3,115.3 L584.3,115.3 L586.3,115.2 L588.3,115.2 L590.3,115.2 L592.3,115.2 L594.3,115.2 L596.3,115.2 L598.3,115.2 L600.3,115.2 L602.3,115.2 L604.3,115.2 L606.3,115.2 L608.3,115.2 L610.3,115.2 L612.3,115.2 L614.3,115.2 L616.3,115.2 L618.3,115.2 L620.3,115.2 L622.3,115.2 L624.3,115.2 L626.3,115.2 L628.3,115.1 L630.3,115.1 L632.3,115.1 L634.3,115.1 L636.3,115.1 L638.3,115.1 L640.3,115.1 L642.3,115.1 L644.3,115.1 L646.3,115.1 L648.3,115.1 L650.3,115.1 L652.3,115.1 L654.3,115.1 L656.3,115.1 L658.3,115.1 L660.3,115.1 L662.3,115.1 L664.3,115.0 L666.3,115.0 L668.3,115.0 L670.3,115.0 L672.3,115.0 L674.3,115.0 L676.3,115.0 L678.3,115.0 L680.3,115.0 L682.3,115.0 L684.3,115.0 L686.3,115.0 L688.3,115.0 L690.3,115.0 L692.3,115.0 L694.3,114.9 L696.3,114.9 L698.3,114.9 L700.3,114.9 L702.3,114.9 L704.3,114.9 L706.3,114.9 L708.3,114.9 L710.3,114.9 L712.3,114.9 L714.3,114.9 L716.3,114.9 L718.3,114.9 L720.3,114.8 L722.3,114.8 L724.3,114.8 L726.3,114.8 L728.3,114.8 L730.3,114.8 L732.3,114.8 L734.3,114.8 L736.3,114.8 L738.3,114.8 L740.3,114.8 L742.3,114.8 L744.3,114.7 L746.3,114.7 L748.3,114.7 L750.3,114.7 L752.3,114.7 L754.3,114.7 L756.3,114.7 L758.3,114.7 L760.3,114.7 L762.3,114.7 L764.3,114.6 L766.3,114.6 L768.3,114.6 L770.3,114.6 L772.3,114.6 L774.3,114.6 L776.3,114.6 L778.3,114.6 L780.3,114.6 L782.3,114.5 L784.3,114.5 L786.3,114.5 L788.3,114.5 L790.3,114.5 L792.3,114.5 L794.3,114.5 L796.3,114.5 L798.3,114.4 L800.3,114.4 L802.3,114.4 L804.3,114.4 L806.3,114.4 L808.3,114.4 L810.3,114.4 L812.3,114.4 L814.3,114.3 L816.3,114.3 L818.3,114.3 L820.3,114.3 L822.3,114.3 L824.3,114.3 L826.3,114.2 L828.3,114.2 L830.3,114.2 L832.3,114.2 L834.3,114.2 L836.3,114.2 L838.3,114.2 L840.3,114.1 L842.3,114.1 L844.3,114.1 L846.3,114.1 L848.3,114.1 L850.3,114.0 L852.3,114.0 L854.3,114.0 L856.3,114.0 L858.3,114.0 L860.3,114.0 L862.3,113.9 L864.3,113.9 L866.3,113.9 L868.3,113.9 L870.3,113.9 L872.3,113.8 L874.3,113.8 L876.3,113.8 L878.3,113.8 L880.3,113.7 L882.3,113.7 L884.3,113.7 L886.3,113.7 L888.3,113.7 L890.3,113.6 L892.3,113.6 L894.3,113.6 L896.3,113.6 L898.3,113.5 L900.3,113.5 L902.3,113.5 L904.3,113.5 L906.3,113.4 L908.3,113.4 L910.3,113.4 L912.3,113.3 L914.3,113.3 L916.3,113.3 L918.3,113.3 L920.3,113.2 L922.3,113.2 L924.3,113.2 L926.3,113.1 L928.3,113.1 L930.3,113.1 L932.3,113.0 L934.3,113.0 L936.3,113.0 L938.3,112.9 L940.3,112.9 L942.3,112.9 L944.3,112.8 L946.3,112.8 L948.3,112.8 L950.3,112.7 L952.3,112.7 L954.3,112.6 L956.3,112.6 L958.3,112.6 L960.3,112.5 L962.3,112.5 L964.3,112.4 L966.3,112.4 L968.3,112.3 L970.3,112.3 L972.3,112.2 L974.3,112.2 L976.3,112.1 L978.3,112.1 L980.3,112.0 L982.3,112.0 L984.3,111.9 L986.3,111.9 L988.3,111.8 L990.3,111.8 L992.3,111.7 L994.3,111.7 L996.3,111.6 L998.3,111.5 L1000.3,111.5 L1002.3,111.4 L1004.3,111.4 L1006.3,111.3 L1008.3,111.2 L1010.3,111.2 L1012.3,111.1 L1014.3,111.0 L1016.3,110.9 L1018.3,110.9 L1020.3,110.8 L1022.3,110.7 L1024.3,110.6 L1026.3,110.6 L1028.3,110.5 L1030.3,110.4 L1032.3,110.3 L1034.3,110.2 L1036.3,110.1 L1038.3,110.0 L1040.3,109.9 L1042.3,109.8 L1044.3,109.7 L1046.3,109.6 L1048.3,109.5 L1050.3,109.4 L1052.3,109.3 L1054.3,109.2 L1056.3,109.1 L1058.3,109.0 L1060.3,108.9 L1062.3,108.7 L1064.3,108.6 L1066.3,108.5 L1068.3,108.4 L1070.3,108.2 L1072.3,108.1 L1074.3,107.9 L1076.3,107.8 L1078.3,107.6 L1080.3,107.5 L1082.3,107.3 L1084.3,107.2 L1086.3,107.0 L1088.3,106.8 L1090.3,106.7 L1092.3,106.5 L1094.3,106.3 L1096.3,106.1 L1098.3,105.9 L1100.3,105.7 L1102.3,105.5 L1104.3,105.3 L1106.3,105.1 L1108.3,104.8 L1110.3,104.6 L1112.3,104.4 L1114.3,104.1 L1116.3,103.9 L1118.3,103.6 L1120.3,103.3 L1122.3,103.1 L1124.3,102.8 L1126.3,102.5 L1128.3,102.2 L1130.3,101.9 L1132.3,101.5 L1134.3,101.2 L1136.3,100.9 L1138.4,100.5 L1140.4,100.1 L1142.4,99.8 L1144.4,99.4 L1146.4,99.0 L1148.4,98.5 L1150.4,98.1 L1152.4,97.7 L1154.4,97.2 L1156.4,96.7 L1158.4,96.2 L1160.4,95.7 L1162.4,95.2 L1164.4,94.7 L1166.4,94.1 L1168.4,93.5 L1170.4,92.9 L1172.4,92.3 L1174.4,91.7 L1176.4,91.0 L1178.4,90.3 L1180.4,89.6 L1182.4,88.9 L1184.4,88.1 L1186.4,87.4 L1188.4,86.6 L1190.4,85.7 L1192.4,84.9 L1194.4,84.0 L1196.4,83.1 L1198.4,82.1 L1200.4,81.2 L1202.4,80.2 L1204.4,79.1 L1206.4,78.1 L1208.4,77.0 L1210.4,75.9 L1212.4,74.8 L1214.4,73.6 L1216.4,72.4 L1218.4,71.2 L1220.4,70.0 L1222.4,68.7 L1224.4,67.5 L1226.4,66.2 L1228.4,64.9 L1230.4,63.6 L1232.4,62.3 L1234.4,61.0 L1236.4,59.7 L1238.4,58.5 L1240.4,57.3 L1242.4,56.1 L1244.4,55.0 L1246.4,53.8 L1248.4,52.7 L1250.4,51.5 L1252.4,50.4 L1254.4,49.7 L1256.4,49.0 L1258.4,48.2 L1260.4,47.5 L1262.4,46.8 L1264.4,46.1 L1266.4,45.7 L1268.4,45.7 L1270.4,45.6 L1272.4,45.6 L1274.4,45.5 L1276.4,45.5 L1278.4,45.5 L1280.4,46.1 L1282.4,46.7 L1284.4,47.4 L1286.4,48.0 L1288.4,48.6 L1290.4,49.3 L1292.4,50.2 L1294.4,51.3 L1296.4,52.4 L1298.4,53.5 L1300.4,54.6 L1302.4,55.7 L1304.4,56.8 L1306.4,58.1 L1308.4,59.4 L1310.4,60.6 L1312.4,61.9 L1314.4,63.2 L1316.4,64.5 L1318.4,65.8 L1320.4,67.1 L1322.4,68.3 L1324.4,69.6 L1326.4,70.8 L1328.4,72.0 L1330.4,73.2 L1332.4,74.4 L1334.4,75.5 L1336.4,76.7 L1338.4,77.7 L1340.4,78.8 L1342.4,79.8 L1344.4,80.8 L1346.4,81.8 L1348.4,82.8 L1350.4,83.7 L1352.4,84.6 L1354.4,85.4 L1356.4,86.3 L1358.4,87.1 L1360.4,87.9 L1362.4,88.6 L1364.4,89.4 L1366.4,90.1 L1368.4,90.8 L1370.4,91.5 L1372.4,92.1 L1374.4,92.7 L1376.4,93.3 L1378.4,93.9 L1380.4,94.5 L1382.4,95.0 L1384.4,95.6 L1386.4,96.1 L1388.4,96.6 L1390.4,97.1 L1392.4,97.5 L1394.4,98.0 L1396.4,98.4 L1398.4,98.8 L1400.4,99.2 L1402.4,99.6 L1404.4,100.0 L1406.4,100.4 L1408.4,100.7 L1410.4,101.1 L1412.4,101.4 L1414.4,101.8 L1416.4,102.1 L1418.4,102.4 L1420.4,102.7 L1422.4,103.0 L1424.4,103.2 L1426.4,103.5 L1428.4,103.8 L1430.4,104.0 L1432.4,104.3 L1434.4,104.5 L1436.4,104.8 L1438.4,105.0 L1440.4,105.2 L1442.4,105.4 L1444.4,105.6 L1446.4,105.8 L1448.4,106.0 L1450.4,106.2 L1452.4,106.4 L1454.4,106.6 L1456.4,106.8 L1458.4,106.9 L1460.4,107.1" stroke="#000000" stroke-opacity="0.72" stroke-width="2.3" fill="none" stroke-linejoin="round"/>
<path d="M172.2,132.9 L174.2,133.0 L176.2,133.0 L178.2,133.1 L180.2,133.1 L182.2,133.2 L184.2,133.2 L186.2,133.3 L188.2,133.4 L190.2,133.4 L192.2,133.5 L194.2,133.5 L196.2,133.6 L198.2,133.6 L200.2,133.7 L202.2,133.8 L204.2,133.8 L206.2,133.9 L208.2,133.9 L210.2,134.0 L212.2,134.1 L214.2,134.1 L216.2,134.2 L218.2,134.2 L220.2,134.3 L222.2,134.4 L224.2,134.4 L226.2,134.5 L228.2,134.5 L230.2,134.6 L232.2,134.7 L234.2,134.7 L236.2,134.8 L238.2,134.9 L240.2,134.9 L242.2,135.0 L244.2,135.1 L246.2,135.1 L248.2,135.2 L250.2,135.2 L252.2,135.3 L254.2,135.4 L256.2,135.4 L258.2,135.5 L260.2,135.6 L262.2,135.6 L264.2,135.7 L266.2,135.8 L268.2,135.9 L270.2,135.9 L272.2,136.0 L274.2,136.1 L276.2,136.1 L278.2,136.2 L280.2,136.3 L282.2,136.3 L284.2,136.4 L286.2,136.5 L288.2,136.6 L290.2,136.6 L292.2,136.7 L294.2,136.8 L296.2,136.9 L298.2,136.9 L300.2,137.0 L302.2,137.1 L304.2,137.2 L306.2,137.2 L308.2,137.3 L310.2,137.4 L312.2,137.5 L314.2,137.5 L316.2,137.6 L318.2,137.7 L320.2,137.8 L322.2,137.9 L324.2,137.9 L326.2,138.0 L328.2,138.1 L330.2,138.2 L332.2,138.3 L334.2,138.3 L336.2,138.4 L338.2,138.5 L340.2,138.6 L342.2,138.7 L344.2,138.8 L346.2,138.8 L348.2,138.9 L350.2,139.0 L352.2,139.1 L354.2,139.2 L356.2,139.3 L358.2,139.4 L360.2,139.5 L362.2,139.5 L364.2,139.6 L366.2,139.7 L368.2,139.8 L370.2,139.9 L372.2,140.0 L374.2,140.1 L376.2,140.2 L378.2,140.3 L380.2,140.4 L382.2,140.5 L384.2,140.5 L386.2,140.6 L388.2,140.7 L390.2,140.8 L392.2,140.9 L394.2,141.0 L396.2,141.1 L398.2,141.2 L400.2,141.3 L402.2,141.4 L404.2,141.5 L406.2,141.6 L408.2,141.7 L410.2,141.8 L412.2,141.9 L414.2,142.0 L416.2,142.1 L418.2,142.2 L420.2,142.3 L422.2,142.4 L424.2,142.6 L426.2,142.7 L428.2,142.8 L430.2,142.9 L432.2,143.0 L434.2,143.1 L436.2,143.2 L438.2,143.3 L440.2,143.4 L442.2,143.5 L444.2,143.7 L446.2,143.8 L448.2,143.9 L450.2,144.0 L452.2,144.1 L454.2,144.2 L456.2,144.3 L458.2,144.5 L460.2,144.6 L462.2,144.7 L464.2,144.8 L466.2,144.9 L468.2,145.1 L470.2,145.2 L472.2,145.3 L474.2,145.4 L476.2,145.5 L478.2,145.7 L480.2,145.8 L482.2,145.9 L484.2,146.1 L486.2,146.2 L488.2,146.3 L490.2,146.4 L492.2,146.6 L494.2,146.7 L496.3,146.8 L498.3,147.0 L500.3,147.1 L502.3,147.2 L504.3,147.4 L506.3,147.5 L508.3,147.6 L510.3,147.8 L512.3,147.9 L514.3,148.1 L516.3,148.2 L518.3,148.3 L520.3,148.5 L522.3,148.6 L524.3,148.8 L526.3,148.9 L528.3,149.1 L530.3,149.2 L532.3,149.4 L534.3,149.5 L536.3,149.7 L538.3,149.8 L540.3,150.0 L542.3,150.1 L544.3,150.3 L546.3,150.4 L548.3,150.6 L550.3,150.7 L552.3,150.9 L554.3,151.1 L556.3,151.2 L558.3,151.4 L560.3,151.6 L562.3,151.7 L564.3,151.9 L566.3,152.0 L568.3,152.2 L570.3,152.4 L572.3,152.6 L574.3,152.7 L576.3,152.9 L578.3,153.1 L580.3,153.2 L582.3,153.4 L584.3,153.6 L586.3,153.8 L588.3,154.0 L590.3,154.1 L592.3,154.3 L594.3,154.5 L596.3,154.7 L598.3,154.9 L600.3,155.1 L602.3,155.3 L604.3,155.4 L606.3,155.6 L608.3,155.8 L610.3,156.0 L612.3,156.2 L614.3,156.4 L616.3,156.6 L618.3,156.8 L620.3,157.0 L622.3,157.2 L624.3,157.4 L626.3,157.6 L628.3,157.8 L630.3,158.0 L632.3,158.3 L634.3,158.5 L636.3,158.7 L638.3,158.9 L640.3,159.1 L642.3,159.3 L644.3,159.5 L646.3,159.8 L648.3,160.0 L650.3,160.2 L652.3,160.4 L654.3,160.7 L656.3,160.9 L658.3,161.1 L660.3,161.4 L662.3,161.6 L664.3,161.8 L666.3,162.1 L668.3,162.3 L670.3,162.6 L672.3,162.8 L674.3,163.1 L676.3,163.3 L678.3,163.6 L680.3,163.8 L682.3,164.1 L684.3,164.3 L686.3,164.6 L688.3,164.8 L690.3,165.1 L692.3,165.4 L694.3,165.6 L696.3,165.9 L698.3,166.2 L700.3,166.4 L702.3,166.7 L704.3,167.0 L706.3,167.3 L708.3,167.6 L710.3,167.8 L712.3,168.1 L714.3,168.4 L716.3,168.7 L718.3,169.0 L720.3,169.3 L722.3,169.6 L724.3,169.9 L726.3,170.2 L728.3,170.5 L730.3,170.8 L732.3,171.1 L734.3,171.4 L736.3,171.7 L738.3,172.1 L740.3,172.4 L742.3,172.7 L744.3,173.0 L746.3,173.4 L748.3,173.7 L750.3,174.0 L752.3,174.4 L754.3,174.7 L756.3,175.1 L758.3,175.4 L760.3,175.7 L762.3,176.1 L764.3,176.5 L766.3,176.8 L768.3,177.2 L770.3,177.5 L772.3,177.9 L774.3,178.3 L776.3,178.7 L778.3,179.0 L780.3,179.4 L782.3,179.8 L784.3,180.2 L786.3,180.6 L788.3,181.0 L790.3,181.4 L792.3,181.8 L794.3,182.2 L796.3,182.6 L798.3,183.0 L800.3,183.4 L802.3,183.8 L804.3,184.3 L806.3,184.7 L808.3,185.1 L810.3,185.6 L812.3,186.0 L814.3,186.4 L816.3,186.9 L818.3,187.3 L820.3,187.8 L822.3,188.3 L824.3,188.7 L826.3,189.2 L828.3,189.7 L830.3,190.1 L832.3,190.6 L834.3,191.1 L836.3,191.6 L838.3,192.1 L840.3,192.6 L842.3,193.1 L844.3,193.6 L846.3,194.1 L848.3,194.7 L850.3,195.2 L852.3,195.7 L854.3,196.2 L856.3,196.8 L858.3,197.3 L860.3,197.9 L862.3,198.4 L864.3,199.0 L866.3,199.6 L868.3,200.1 L870.3,200.7 L872.3,201.3 L874.3,201.9 L876.3,202.5 L878.3,203.1 L880.3,203.7 L882.3,204.3 L884.3,204.9 L886.3,205.6 L888.3,206.2 L890.3,206.9 L892.3,207.5 L894.3,208.2 L896.3,208.8 L898.3,209.5 L900.3,210.2 L902.3,210.8 L904.3,211.5 L906.3,212.2 L908.3,212.9 L910.3,213.6 L912.3,214.4 L914.3,215.1 L916.3,215.8 L918.3,216.5 L920.3,217.3 L922.3,218.1 L924.3,218.8 L926.3,219.6 L928.3,220.4 L930.3,221.2 L932.3,222.0 L934.3,222.8 L936.3,223.6 L938.3,224.4 L940.3,225.2 L942.3,226.1 L944.3,226.9 L946.3,227.8 L948.3,228.7 L950.3,229.5 L952.3,230.4 L954.3,231.3 L956.3,232.2 L958.3,233.2 L960.3,234.1 L962.3,235.0 L964.3,236.0 L966.3,236.9 L968.3,237.9 L970.3,238.9 L972.3,239.9 L974.3,240.9 L976.3,241.9 L978.3,243.0 L980.3,244.0 L982.3,245.0 L984.3,246.1 L986.3,247.2 L988.3,248.3 L990.3,249.4 L992.3,250.5 L994.3,251.6 L996.3,252.8 L998.3,253.9 L1000.3,255.1 L1002.3,256.3 L1004.3,257.5 L1006.3,258.7 L1008.3,259.9 L1010.3,261.2 L1012.3,262.4 L1014.3,263.7 L1016.3,265.0 L1018.3,266.3 L1020.3,267.6 L1022.3,268.9 L1024.3,270.3 L1026.3,271.7 L1028.3,273.0 L1030.3,274.4 L1032.3,275.9 L1034.3,277.3 L1036.3,278.7 L1038.3,280.2 L1040.3,281.7 L1042.3,283.2 L1044.3,284.7 L1046.3,286.3 L1048.3,287.8 L1050.3,289.4 L1052.3,291.0 L1054.3,292.7 L1056.3,294.3 L1058.3,296.0 L1060.3,297.7 L1062.3,299.4 L1064.3,301.1 L1066.3,302.9 L1068.3,304.6 L1070.3,306.4 L1072.3,308.2 L1074.3,310.1 L1076.3,312.0 L1078.3,313.9 L1080.3,315.8 L1082.3,317.7 L1084.3,319.7 L1086.3,321.7 L1088.3,323.7 L1090.3,325.7 L1092.3,327.8 L1094.3,329.9 L1096.3,332.0 L1098.3,334.2 L1100.3,336.4 L1102.3,338.6 L1104.3,340.8 L1106.3,343.1 L1108.3,345.4 L1110.3,347.7 L1112.3,350.1 L1114.3,352.5 L1116.3,354.9 L1118.3,357.3 L1120.3,359.8 L1122.3,362.3 L1124.3,364.9 L1126.3,367.5 L1128.3,370.1 L1130.3,372.7 L1132.3,375.4 L1134.3,378.2 L1136.3,380.9 L1138.4,383.7 L1140.4,386.6 L1142.4,389.4 L1144.4,392.3 L1146.4,395.3 L1148.4,398.3 L1150.4,401.3 L1152.4,404.4 L1154.4,407.5 L1156.4,410.6 L1158.4,413.8 L1160.4,417.0 L1162.4,420.3 L1164.4,423.6 L1166.4,427.0 L1168.4,430.4 L1170.4,433.8 L1172.4,437.3 L1174.4,440.8 L1176.4,444.4 L1178.4,448.0 L1180.4,451.7 L1182.4,455.4 L1184.4,459.1 L1186.4,462.9 L1188.4,466.8 L1190.4,470.7 L1192.4,474.6 L1194.4,478.6 L1196.4,482.7 L1198.4,486.7 L1200.4,490.9 L1202.4,495.1 L1204.4,499.3 L1206.4,503.6 L1208.4,507.9 L1210.4,512.3 L1212.4,516.7 L1214.4,521.2 L1216.4,525.7 L1218.4,530.3 L1220.4,534.9 L1222.4,539.6 L1224.4,544.3 L1226.4,549.1 L1228.4,553.9 L1230.4,558.8 L1232.4,563.7 L1234.4,568.6 L1236.4,573.6 L1238.4,578.7 L1240.4,583.8 L1242.4,588.9 L1244.4,594.1 L1246.4,599.3 L1248.4,604.5 L1250.4,609.8 L1252.4,615.2 L1254.4,620.5 L1256.4,625.9 L1258.4,631.4 L1260.4,636.9 L1262.4,642.4 L1264.4,647.9 L1266.4,653.5 L1268.4,659.0 L1270.4,664.7 L1272.4,670.3 L1274.4,675.9 L1276.4,681.6 L1278.4,687.3 L1280.4,693.0 L1282.4,698.7 L1284.4,704.4 L1286.4,710.1 L1288.4,715.8 L1290.4,721.5 L1292.4,727.2 L1294.4,732.9 L1296.4,738.6 L1298.4,744.2 L1300.4,749.9 L1302.4,755.5 L1304.4,761.0 L1306.4,766.6 L1308.4,772.1 L1310.4,777.6 L1312.4,783.0 L1314.4,788.3 L1316.4,793.6 L1318.4,798.9 L1320.4,804.1 L1322.4,809.2 L1324.4,814.2 L1326.4,819.2 L1328.4,824.0 L1330.4,828.8 L1332.4,833.5 L1334.4,838.1 L1336.4,842.5 L1338.4,846.9 L1340.4,851.1 L1342.4,855.3 L1344.4,859.3 L1346.4,863.1 L1348.4,866.9 L1350.4,870.5 L1352.4,873.9 L1354.4,877.2 L1356.4,880.3 L1358.4,883.3 L1360.4,886.2 L1362.4,888.8 L1364.4,891.3 L1366.4,893.6 L1368.4,895.8 L1370.4,897.7 L1372.4,899.5 L1374.4,901.1 L1376.4,902.5 L1378.4,903.7 L1380.4,904.8 L1382.4,905.6 L1384.4,906.2 L1386.4,906.7 L1388.4,906.9 L1390.4,907.0 L1392.4,906.9 L1394.4,906.5 L1396.4,906.0 L1398.4,905.3 L1400.4,904.4 L1402.4,903.3 L1404.4,902.0 L1406.4,900.5 L1408.4,898.8 L1410.4,897.0 L1412.4,894.9 L1414.4,892.7 L1416.4,890.4 L1418.4,887.8 L1420.4,885.1 L1422.4,882.2 L1424.4,879.1 L1426.4,875.9 L1428.4,872.6 L1430.4,869.1 L1432.4,865.4 L1434.4,861.6 L1436.4,857.7 L1438.4,853.7 L1440.4,849.5 L1442.4,845.2 L1444.4,840.8 L1446.4,836.3 L1448.4,831.7 L1450.4,827.0 L1452.4,822.1 L1454.4,817.2 L1456.4,812.3 L1458.4,807.2 L1460.4,802.1" stroke="#000000" stroke-opacity="0.72" stroke-width="2.3" fill="none" stroke-linejoin="round"/>
<path d="M172.2,930.0 L174.2,929.8 L176.2,929.7 L178.2,929.5 L180.2,929.4 L182.2,929.2 L184.2,929.0 L186.2,928.9 L188.2,928.7 L190.2,928.6 L192.2,928.4 L194.2,928.2 L196.2,928.1 L198.2,927.9 L200.2,927.7 L202.2,927.6 L204.2,927.4 L206.2,927.2 L208.2,927.0 L210.2,926.9 L212.2,926.7 L214.2,926.5 L216.2,926.3 L218.2,926.1 L220.2,926.0 L222.2,925.8 L224.2,925.6 L226.2,925.4 L228.2,925.2 L230.2,925.0 L232.2,924.9 L234.2,924.7 L236.2,924.5 L238.2,924.3 L240.2,924.1 L242.2,923.9 L244.2,923.7 L246.2,923.5 L248.2,923.3 L250.2,923.1 L252.2,922.9 L254.2,922.7 L256.2,922.5 L258.2,922.3 L260.2,922.1 L262.2,921.9 L264.2,921.7 L266.2,921.5 L268.2,921.3 L270.2,921.1 L272.2,920.9 L274.2,920.7 L276.2,920.5 L278.2,920.3 L280.2,920.1 L282.2,919.9 L284.2,919.6 L286.2,919.4 L288.2,919.2 L290.2,919.0 L292.2,918.8 L294.2,918.6 L296.2,918.4 L298.2,918.2 L300.2,917.9 L302.2,917.7 L304.2,917.5 L306.2,917.3 L308.2,917.1 L310.2,916.9 L312.2,916.6 L314.2,916.4 L316.2,916.2 L318.2,916.0 L320.2,915.8 L322.2,915.6 L324.2,915.3 L326.2,915.1 L328.2,914.9 L330.2,914.7 L332.2,914.5 L334.2,914.2 L336.2,914.0 L338.2,913.8 L340.2,913.6 L342.2,913.4 L344.2,913.1 L346.2,912.9 L348.2,912.7 L350.2,912.5 L352.2,912.3 L354.2,912.0 L356.2,911.8 L358.2,911.6 L360.2,911.4 L362.2,911.2 L364.2,910.9 L366.2,910.7 L368.2,910.5 L370.2,910.3 L372.2,910.1 L374.2,909.9 L376.2,909.6 L378.2,909.4 L380.2,909.2 L382.2,909.0 L384.2,908.8 L386.2,908.6 L388.2,908.4 L390.2,908.1 L392.2,907.9 L394.2,907.7 L396.2,907.5 L398.2,907.3 L400.2,907.1 L402.2,906.9 L404.2,906.7 L406.2,906.5 L408.2,906.3 L410.2,906.1 L412.2,905.9 L414.2,905.7 L416.2,905.5 L418.2,905.3 L420.2,905.1 L422.2,904.9 L424.2,904.7 L426.2,904.5 L428.2,904.3 L430.2,904.1 L432.2,903.9 L434.2,903.7 L436.2,903.5 L438.2,903.3 L440.2,903.1 L442.2,903.0 L444.2,902.8 L446.2,902.6 L448.2,902.4 L450.2,902.2 L452.2,902.1 L454.2,901.9 L456.2,901.7 L458.2,901.5 L460.2,901.4 L462.2,901.2 L464.2,901.0 L466.2,900.9 L468.2,900.7 L470.2,900.5 L472.2,900.4 L474.2,900.2 L476.2,900.1 L478.2,899.9 L480.2,899.8 L482.2,899.6 L484.2,899.5 L486.2,899.3 L488.2,899.2 L490.2,899.0 L492.2,898.9 L494.2,898.8 L496.3,898.6 L498.3,898.5 L500.3,898.4 L502.3,898.2 L504.3,898.1 L506.3,898.0 L508.3,897.9 L510.3,897.7 L512.3,897.6 L514.3,897.5 L516.3,897.4 L518.3,897.3 L520.3,897.2 L522.3,897.1 L524.3,897.0 L526.3,896.9 L528.3,896.8 L530.3,896.7 L532.3,896.6 L534.3,896.5 L536.3,896.4 L538.3,896.3 L540.3,896.2 L542.3,896.2 L544.3,896.1 L546.3,896.0 L548.3,895.9 L550.3,895.9 L552.3,895.8 L554.3,895.7 L556.3,895.7 L558.3,895.6 L560.3,895.6 L562.3,895.5 L564.3,895.4 L566.3,895.4 L568.3,895.4 L570.3,895.3 L572.3,895.3 L574.3,895.2 L576.3,895.2 L578.3,895.2 L580.3,895.1 L582.3,895.1 L584.3,895.1 L586.3,895.1 L588.3,895.0 L590.3,895.0 L592.3,895.0 L594.3,895.0 L596.3,895.0 L598.3,895.0 L600.3,895.0 L602.3,895.0 L604.3,895.0 L606.3,895.0 L608.3,895.0 L610.3,895.0 L612.3,895.1 L614.3,895.1 L616.3,895.1 L618.3,895.1 L620.3,895.1 L622.3,895.2 L624.3,895.2 L626.3,895.2 L628.3,895.3 L630.3,895.3 L632.3,895.4 L634.3,895.4 L636.3,895.5 L638.3,895.5 L640.3,895.6 L642.3,895.6 L644.3,895.7 L646.3,895.7 L648.3,895.8 L650.3,895.9 L652.3,895.9 L654.3,896.0 L656.3,896.1 L658.3,896.2 L660.3,896.3 L662.3,896.3 L664.3,896.4 L666.3,896.5 L668.3,896.6 L670.3,896.7 L672.3,896.8 L674.3,896.9 L676.3,897.0 L678.3,897.1 L680.3,897.2 L682.3,897.3 L684.3,897.4 L686.3,897.5 L688.3,897.7 L690.3,897.8 L692.3,897.9 L694.3,898.0 L696.3,898.1 L698.3,898.3 L700.3,898.4 L702.3,898.5 L704.3,898.7 L706.3,898.8 L708.3,898.9 L710.3,899.1 L712.3,899.2 L714.3,899.4 L716.3,899.5 L718.3,899.7 L720.3,899.8 L722.3,900.0 L724.3,900.1 L726.3,900.3 L728.3,900.4 L730.3,900.6 L732.3,900.7 L734.3,900.9 L736.3,901.1 L738.3,901.2 L740.3,901.4 L742.3,901.6 L744.3,901.8 L746.3,901.9 L748.3,902.1 L750.3,902.3 L752.3,902.5 L754.3,902.6 L756.3,902.8 L758.3,903.0 L760.3,903.2 L762.3,903.4 L764.3,903.6 L766.3,903.8 L768.3,903.9 L770.3,904.1 L772.3,904.3 L774.3,904.5 L776.3,904.7 L778.3,904.9 L780.3,905.1 L782.3,905.3 L784.3,905.5 L786.3,905.7 L788.3,905.9 L790.3,906.1 L792.3,906.3 L794.3,906.5 L796.3,906.7 L798.3,906.9 L800.3,907.1 L802.3,907.4 L804.3,907.6 L806.3,907.8 L808.3,908.0 L810.3,908.2 L812.3,908.4 L814.3,908.6 L816.3,908.8 L818.3,909.1 L820.3,909.3 L822.3,909.5 L824.3,909.7 L826.3,909.9 L828.3,910.1 L830.3,910.3 L832.3,910.6 L834.3,910.8 L836.3,911.0 L838.3,911.2 L840.3,911.4 L842.3,911.7 L844.3,911.9 L846.3,912.1 L848.3,912.3 L850.3,912.5 L852.3,912.8 L854.3,913.0 L856.3,913.2 L858.3,913.4 L860.3,913.6 L862.3,913.9 L864.3,914.1 L866.3,914.3 L868.3,914.5 L870.3,914.7 L872.3,915.0 L874.3,915.2 L876.3,915.4 L878.3,915.6 L880.3,915.8 L882.3,916.1 L884.3,916.3 L886.3,916.5 L888.3,916.7 L890.3,916.9 L892.3,917.1 L894.3,917.4 L896.3,917.6 L898.3,917.8 L900.3,918.0 L902.3,918.2 L904.3,918.4 L906.3,918.6 L908.3,918.9 L910.3,919.1 L912.3,919.3 L914.3,919.5 L916.3,919.7 L918.3,919.9 L920.3,920.1 L922.3,920.3 L924.3,920.5 L926.3,920.7 L928.3,921.0 L930.3,921.2 L932.3,921.4 L934.3,921.6 L936.3,921.8 L938.3,922.0 L940.3,922.2 L942.3,922.4 L944.3,922.6 L946.3,922.8 L948.3,923.0 L950.3,923.2 L952.3,923.4 L954.3,923.6 L956.3,923.8 L958.3,924.0 L960.3,924.1 L962.3,924.3 L964.3,924.5 L966.3,924.7 L968.3,924.9 L970.3,925.1 L972.3,925.3 L974.3,925.5 L976.3,925.6 L978.3,925.8 L980.3,926.0 L982.3,926.2 L984.3,926.4 L986.3,926.5 L988.3,926.7 L990.3,926.9 L992.3,927.1 L994.3,927.3 L996.3,927.4 L998.3,927.6 L1000.3,927.8 L1002.3,927.9 L1004.3,928.1 L1006.3,928.3 L1008.3,928.4 L1010.3,928.6 L1012.3,928.8 L1014.3,928.9 L1016.3,929.1 L1018.3,929.2 L1020.3,929.4 L1022.3,929.6 L1024.3,929.7 L1026.3,929.9 L1028.3,930.0 L1030.3,930.2 L1032.3,930.3 L1034.3,930.5 L1036.3,930.6 L1038.3,930.8 L1040.3,930.9 L1042.3,931.1 L1044.3,931.2 L1046.3,931.4 L1048.3,931.5 L1050.3,931.6 L1052.3,931.8 L1054.3,931.9 L1056.3,932.0 L1058.3,932.2 L1060.3,932.3 L1062.3,932.4 L1064.3,932.6 L1066.3,932.7 L1068.3,932.8 L1070.3,933.0 L1072.3,933.1 L1074.3,933.2 L1076.3,933.3 L1078.3,933.5 L1080.3,933.6 L1082.3,933.7 L1084.3,933.8 L1086.3,933.9 L1088.3,934.1 L1090.3,934.2 L1092.3,934.3 L1094.3,934.4 L1096.3,934.5 L1098.3,934.6 L1100.3,934.7 L1102.3,934.8 L1104.3,934.9 L1106.3,935.0 L1108.3,935.2 L1110.3,935.3 L1112.3,935.4 L1114.3,935.5 L1116.3,935.6 L1118.3,935.7 L1120.3,935.8 L1122.3,935.9 L1124.3,935.9 L1126.3,936.0 L1128.3,936.1 L1130.3,936.2 L1132.3,936.3 L1134.3,936.4 L1136.3,936.5 L1138.4,936.6 L1140.4,936.7 L1142.4,936.8 L1144.4,936.8 L1146.4,936.9 L1148.4,937.0 L1150.4,937.1 L1152.4,937.2 L1154.4,937.2 L1156.4,937.3 L1158.4,937.4 L1160.4,937.5 L1162.4,937.5 L1164.4,937.6 L1166.4,937.7 L1168.4,937.8 L1170.4,937.8 L1172.4,937.9 L1174.4,938.0 L1176.4,938.0 L1178.4,938.1 L1180.4,938.2 L1182.4,938.2 L1184.4,938.3 L1186.4,938.4 L1188.4,938.4 L1190.4,938.5 L1192.4,938.6 L1194.4,938.6 L1196.4,938.7 L1198.4,938.7 L1200.4,938.8 L1202.4,938.9 L1204.4,938.9 L1206.4,939.0 L1208.4,939.0 L1210.4,939.1 L1212.4,939.1 L1214.4,939.2 L1216.4,939.2 L1218.4,939.3 L1220.4,939.3 L1222.4,939.4 L1224.4,939.4 L1226.4,939.5 L1228.4,939.5 L1230.4,939.6 L1232.4,939.6 L1234.4,939.7 L1236.4,939.7 L1238.4,939.7 L1240.4,939.8 L1242.4,939.8 L1244.4,939.9 L1246.4,939.9 L1248.4,940.0 L1250.4,940.0 L1252.4,940.0 L1254.4,940.1 L1256.4,940.1 L1258.4,940.1 L1260.4,940.2 L1262.4,940.2 L1264.4,940.2 L1266.4,940.3 L1268.4,940.3 L1270.4,940.4 L1272.4,940.4 L1274.4,940.4 L1276.4,940.4 L1278.4,940.5 L1280.4,940.5 L1282.4,940.5 L1284.4,940.6 L1286.4,940.6 L1288.4,940.6 L1290.4,940.7 L1292.4,940.7 L1294.4,940.7 L1296.4,940.7 L1298.4,940.8 L1300.4,940.8 L1302.4,940.8 L1304.4,940.8 L1306.4,940.9 L1308.4,940.9 L1310.4,940.9 L1312.4,940.9 L1314.4,941.0 L1316.4,941.0 L1318.4,941.0 L1320.4,941.0 L1322.4,941.0 L1324.4,941.1 L1326.4,941.1 L1328.4,941.1 L1330.4,941.1 L1332.4,941.1 L1334.4,941.2 L1336.4,941.2 L1338.4,941.2 L1340.4,941.2 L1342.4,941.2 L1344.4,941.2 L1346.4,941.3 L1348.4,941.3 L1350.4,941.3 L1352.4,941.3 L1354.4,941.3 L1356.4,941.3 L1358.4,941.4 L1360.4,941.4 L1362.4,941.4 L1364.4,941.4 L1366.4,941.4 L1368.4,941.4 L1370.4,941.4 L1372.4,941.4 L1374.4,941.5 L1376.4,941.5 L1378.4,941.5 L1380.4,941.5 L1382.4,941.5 L1384.4,941.5 L1386.4,941.5 L1388.4,941.5 L1390.4,941.6 L1392.4,941.6 L1394.4,941.6 L1396.4,941.6 L1398.4,941.6 L1400.4,941.6 L1402.4,941.6 L1404.4,941.6 L1406.4,941.6 L1408.4,941.6 L1410.4,941.6 L1412.4,941.7 L1414.4,941.7 L1416.4,941.7 L1418.4,941.7 L1420.4,941.7 L1422.4,941.7 L1424.4,941.7 L1426.4,941.7 L1428.4,941.7 L1430.4,941.7 L1432.4,941.7 L1434.4,941.7 L1436.4,941.7 L1438.4,941.8 L1440.4,941.8 L1442.4,941.8 L1444.4,941.8 L1446.4,941.8 L1448.4,941.8 L1450.4,941.8 L1452.4,941.8 L1454.4,941.8 L1456.4,941.8 L1458.4,941.8 L1460.4,941.8" stroke="#ff0000" stroke-opacity="0.7" stroke-width="2.3" fill="none" stroke-linejoin="round"/>
<path d="M172.2,942.0 L174.2,942.0 L176.2,942.0 L178.2,942.0 L180.2,942.0 L182.2,942.0 L184.2,942.0 L186.2,942.0 L188.2,942.0 L190.2,942.0 L192.2,942.0 L194.2,942.0 L196.2,942.0 L198.2,942.0 L200.2,942.0 L202.2,942.0 L204.2,942.0 L206.2,942.0 L208.2,942.0 L210.2,942.0 L212.2,942.0 L214.2,942.0 L216.2,942.0 L218.2,942.0 L220.2,942.0 L222.2,942.0 L224.2,942.0 L226.2,942.0 L228.2,942.0 L230.2,942.0 L232.2,942.0 L234.2,942.0 L236.2,942.0 L238.2,942.0 L240.2,942.0 L242.2,942.0 L244.2,942.0 L246.2,942.0 L248.2,942.0 L250.2,942.0 L252.2,942.0 L254.2,942.0 L256.2,942.0 L258.2,942.0 L260.2,942.0 L262.2,942.0 L264.2,942.0 L266.2,942.0 L268.2,942.0 L270.2,942.0 L272.2,942.0 L274.2,942.0 L276.2,942.0 L278.2,942.0 L280.2,942.0 L282.2,942.0 L284.2,942.0 L286.2,942.0 L288.2,942.0 L290.2,942.0 L292.2,942.0 L294.2,942.0 L296.2,942.0 L298.2,942.0 L300.2,942.0 L302.2,942.0 L304.2,942.0 L306.2,942.0 L308.2,942.0 L310.2,942.0 L312.2,942.0 L314.2,942.0 L316.2,942.0 L318.2,942.0 L320.2,942.0 L322.2,942.0 L324.2,942.0 L326.2,942.0 L328.2,942.0 L330.2,942.0 L332.2,942.0 L334.2,942.0 L336.2,942.0 L338.2,942.0 L340.2,942.0 L342.2,942.0 L344.2,942.0 L346.2,942.0 L348.2,942.0 L350.2,942.0 L352.2,942.0 L354.2,942.0 L356.2,942.0 L358.2,942.0 L360.2,942.0 L362.2,942.0 L364.2,942.0 L366.2,942.0 L368.2,942.0 L370.2,942.0 L372.2,942.0 L374.2,942.0 L376.2,942.0 L378.2,942.0 L380.2,942.0 L382.2,942.0 L384.2,942.0 L386.2,942.0 L388.2,942.0 L390.2,942.0 L392.2,942.0 L394.2,942.0 L396.2,942.0 L398.2,942.0 L400.2,942.0 L402.2,942.0 L404.2,942.0 L406.2,942.0 L408.2,942.0 L410.2,942.0 L412.2,942.0 L414.2,942.0 L416.2,942.0 L418.2,942.0 L420.2,942.0 L422.2,942.0 L424.2,942.0 L426.2,942.0 L428.2,942.0 L430.2,942.0 L432.2,942.0 L434.2,942.0 L436.2,942.0 L438.2,942.0 L440.2,942.0 L442.2,942.0 L444.2,942.0 L446.2,942.0 L448.2,942.0 L450.2,942.0 L452.2,942.0 L454.2,942.0 L456.2,942.0 L458.2,942.0 L460.2,942.0 L462.2,942.0 L464.2,942.0 L466.2,942.0 L468.2,942.0 L470.2,942.0 L472.2,942.0 L474.2,942.0 L476.2,942.0 L478.2,942.0 L480.2,942.0 L482.2,942.0 L484.2,942.0 L486.2,942.0 L488.2,942.0 L490.2,942.0 L492.2,942.0 L494.2,942.0 L496.3,942.0 L498.3,942.0 L500.3,942.0 L502.3,942.0 L504.3,942.0 L506.3,942.0 L508.3,942.0 L510.3,942.0 L512.3,942.1 L514.3,942.1 L516.3,942.1 L518.3,942.1 L520.3,942.1 L522.3,942.1 L524.3,942.1 L526.3,942.1 L528.3,942.1 L530.3,942.1 L532.3,942.1 L534.3,942.1 L536.3,942.1 L538.3,942.2 L540.3,942.2 L542.3,942.2 L544.3,942.2 L546.3,942.2 L548.3,942.2 L550.3,942.3 L552.3,942.3 L554.3,942.3 L556.3,942.3 L558.3,942.3 L560.3,942.4 L562.3,942.4 L564.3,942.4 L566.3,942.5 L568.3,942.5 L570.3,942.5 L572.3,942.6 L574.3,942.6 L576.3,942.7 L578.3,942.7 L580.3,942.8 L582.3,942.8 L584.3,942.9 L586.3,943.0 L588.3,943.0 L590.3,943.1 L592.3,943.2 L594.3,943.3 L596.3,943.4 L598.3,943.5 L600.3,943.6 L602.3,943.7 L604.3,943.8 L606.3,943.9 L608.3,944.0 L610.3,944.2 L612.3,944.3 L614.3,944.4 L616.3,944.6 L618.3,944.8 L620.3,944.9 L622.3,945.1 L624.3,945.3 L626.3,945.5 L628.3,945.8 L630.3,946.0 L632.3,946.2 L634.3,946.5 L636.3,946.8 L638.3,947.0 L640.3,947.3 L642.3,947.7 L644.3,948.0 L646.3,948.3 L648.3,948.7 L650.3,949.1 L652.3,949.5 L654.3,949.9 L656.3,950.3 L658.3,950.8 L660.3,951.2 L662.3,951.7 L664.3,952.3 L666.3,952.8 L668.3,953.4 L670.3,953.9 L672.3,954.6 L674.3,955.2 L676.3,955.8 L678.3,956.5 L680.3,957.2 L682.3,958.0 L684.3,958.8 L686.3,959.6 L688.3,960.4 L690.3,961.2 L692.3,962.1 L694.3,963.0 L696.3,964.0 L698.3,965.0 L700.3,966.0 L702.3,967.0 L704.3,968.1 L706.3,969.2 L708.3,970.4 L710.3,971.6 L712.3,972.8 L714.3,974.0 L716.3,975.3 L718.3,976.6 L720.3,978.0 L722.3,979.4 L724.3,980.8 L726.3,982.3 L728.3,983.8 L730.3,985.3 L732.3,986.9 L734.3,988.5 L736.3,990.1 L738.3,991.8 L740.3,993.5 L742.3,995.3 L744.3,997.0 L746.3,998.8 L748.3,1000.7 L750.3,1002.5 L752.3,1004.4 L754.3,1006.4 L756.3,1008.3 L758.3,1010.3 L760.3,1012.3 L762.3,1014.4 L764.3,1016.4 L766.3,1018.5 L768.3,1020.6 L770.3,1022.7 L772.3,1024.9 L774.3,1027.0 L776.3,1029.2 L778.3,1031.4 L780.3,1033.6 L782.3,1035.8 L784.3,1038.0 L786.3,1040.2 L788.3,1042.4 L790.3,1044.7 L792.3,1046.9 L794.3,1049.1 L796.3,1051.3 L798.3,1053.5 L800.3,1055.7 L802.3,1057.9 L804.3,1060.1 L806.3,1062.3 L808.3,1064.4 L810.3,1066.5 L812.3,1068.6 L814.3,1070.7 L816.3,1072.7 L818.3,1074.7 L820.3,1076.7 L822.3,1078.7 L824.3,1080.6 L826.3,1082.5 L828.3,1084.3 L830.3,1086.1 L832.3,1087.8 L834.3,1089.5 L836.3,1091.1 L838.3,1092.7 L840.3,1094.2 L842.3,1095.7 L844.3,1097.1 L846.3,1098.5 L848.3,1099.8 L850.3,1101.0 L852.3,1102.1 L854.3,1103.2 L856.3,1104.2 L858.3,1105.2 L860.3,1106.1 L862.3,1106.9 L864.3,1107.6 L866.3,1108.3 L868.3,1108.8 L870.3,1109.3 L872.3,1109.8 L874.3,1110.1 L876.3,1110.4 L878.3,1110.6 L880.3,1110.7 L882.3,1110.7 L884.3,1110.6 L886.3,1110.5 L888.3,1110.3 L890.3,1110.0 L892.3,1109.6 L894.3,1109.2 L896.3,1108.7 L898.3,1108.1 L900.3,1107.4 L902.3,1106.6 L904.3,1105.8 L906.3,1104.9 L908.3,1103.9 L910.3,1102.9 L912.3,1101.8 L914.3,1100.6 L916.3,1099.4 L918.3,1098.1 L920.3,1096.7 L922.3,1095.3 L924.3,1093.8 L926.3,1092.2 L928.3,1090.6 L930.3,1089.0 L932.3,1087.3 L934.3,1085.5 L936.3,1083.7 L938.3,1081.9 L940.3,1080.0 L942.3,1078.1 L944.3,1076.1 L946.3,1074.1 L948.3,1072.1 L950.3,1070.0 L952.3,1068.0 L954.3,1065.9 L956.3,1063.7 L958.3,1061.6 L960.3,1059.4 L962.3,1057.2 L964.3,1055.0 L966.3,1052.8 L968.3,1050.6 L970.3,1048.4 L972.3,1046.2 L974.3,1044.0 L976.3,1041.7 L978.3,1039.5 L980.3,1037.3 L982.3,1035.1 L984.3,1032.9 L986.3,1030.7 L988.3,1028.5 L990.3,1026.3 L992.3,1024.2 L994.3,1022.1 L996.3,1019.9 L998.3,1017.8 L1000.3,1015.8 L1002.3,1013.7 L1004.3,1011.7 L1006.3,1009.7 L1008.3,1007.7 L1010.3,1005.8 L1012.3,1003.8 L1014.3,1002.0 L1016.3,1000.1 L1018.3,998.3 L1020.3,996.5 L1022.3,994.7 L1024.3,993.0 L1026.3,991.3 L1028.3,989.6 L1030.3,988.0 L1032.3,986.4 L1034.3,984.8 L1036.3,983.3 L1038.3,981.8 L1040.3,980.4 L1042.3,978.9 L1044.3,977.6 L1046.3,976.2 L1048.3,974.9 L1050.3,973.6 L1052.3,972.4 L1054.3,971.2 L1056.3,970.0 L1058.3,968.9 L1060.3,967.8 L1062.3,966.7 L1064.3,965.7 L1066.3,964.7 L1068.3,963.7 L1070.3,962.8 L1072.3,961.8 L1074.3,961.0 L1076.3,960.1 L1078.3,959.3 L1080.3,958.5 L1082.3,957.8 L1084.3,957.0 L1086.3,956.3 L1088.3,955.6 L1090.3,955.0 L1092.3,954.4 L1094.3,953.8 L1096.3,953.2 L1098.3,952.6 L1100.3,952.1 L1102.3,951.6 L1104.3,951.1 L1106.3,950.6 L1108.3,950.2 L1110.3,949.8 L1112.3,949.3 L1114.3,949.0 L1116.3,948.6 L1118.3,948.2 L1120.3,947.9 L1122.3,947.6 L1124.3,947.3 L1126.3,947.0 L1128.3,946.7 L1130.3,946.4 L1132.3,946.2 L1134.3,945.9 L1136.3,945.7 L1138.4,945.5 L1140.4,945.3 L1142.4,945.1 L1144.4,944.9 L1146.4,944.7 L1148.4,944.6 L1150.4,944.4 L1152.4,944.2 L1154.4,944.1 L1156.4,944.0 L1158.4,943.9 L1160.4,943.7 L1162.4,943.6 L1164.4,943.5 L1166.4,943.4 L1168.4,943.3 L1170.4,943.2 L1172.4,943.2 L1174.4,943.1 L1176.4,943.0 L1178.4,942.9 L1180.4,942.9 L1182.4,942.8 L1184.4,942.8 L1186.4,942.7 L1188.4,942.7 L1190.4,942.6 L1192.4,942.6 L1194.4,942.5 L1196.4,942.5 L1198.4,942.5 L1200.4,942.4 L1202.4,942.4 L1204.4,942.4 L1206.4,942.3 L1208.4,942.3 L1210.4,942.3 L1212.4,942.3 L1214.4,942.2 L1216.4,942.2 L1218.4,942.2 L1220.4,942.2 L1222.4,942.2 L1224.4,942.2 L1226.4,942.2 L1228.4,942.1 L1230.4,942.1 L1232.4,942.1 L1234.4,942.1 L1236.4,942.1 L1238.4,942.1 L1240.4,942.1 L1242.4,942.1 L1244.4,942.1 L1246.4,942.1 L1248.4,942.1 L1250.4,942.1 L1252.4,942.1 L1254.4,942.0 L1256.4,942.0 L1258.4,942.0 L1260.4,942.0 L1262.4,942.0 L1264.4,942.0 L1266.4,942.0 L1268.4,942.0 L1270.4,942.0 L1272.4,942.0 L1274.4,942.0 L1276.4,942.0 L1278.4,942.0 L1280.4,942.0 L1282.4,942.0 L1284.4,942.0 L1286.4,942.0 L1288.4,942.0 L1290.4,942.0 L1292.4,942.0 L1294.4,942.0 L1296.4,942.0 L1298.4,942.0 L1300.4,942.0 L1302.4,942.0 L1304.4,942.0 L1306.4,942.0 L1308.4,942.0 L1310.4,942.0 L1312.4,942.0 L1314.4,942.0 L1316.4,942.0 L1318.4,942.0 L1320.4,942.0 L1322.4,942.0 L1324.4,942.0 L1326.4,942.0 L1328.4,942.0 L1330.4,942.0 L1332.4,942.0 L1334.4,942.0 L1336.4,942.0 L1338.4,942.0 L1340.4,942.0 L1342.4,942.0 L1344.4,942.0 L1346.4,942.0 L1348.4,942.0 L1350.4,942.0 L1352.4,942.0 L1354.4,942.0 L1356.4,942.0 L1358.4,942.0 L1360.4,942.0 L1362.4,942.0 L1364.4,942.0 L1366.4,942.0 L1368.4,942.0 L1370.4,942.0 L1372.4,942.0 L1374.4,942.0 L1376.4,942.0 L1378.4,942.0 L1380.4,942.0 L1382.4,942.0 L1384.4,942.0 L1386.4,942.0 L1388.4,942.0 L1390.4,942.0 L1392.4,942.0 L1394.4,942.0 L1396.4,942.0 L1398.4,942.0 L1400.4,942.0 L1402.4,942.0 L1404.4,942.0 L1406.4,942.0 L1408.4,942.0 L1410.4,942.0 L1412.4,942.0 L1414.4,942.0 L1416.4,942.0 L1418.4,942.0 L1420.4,942.0 L1422.4,942.0 L1424.4,942.0 L1426.4,942.0 L1428.4,942.0 L1430.4,942.0 L1432.4,942.0 L1434.4,942.0 L1436.4,942.0 L1438.4,942.0 L1440.4,942.0 L1442.4,942.0 L1444.4,942.0 L1446.4,942.0 L1448.4,942.0 L1450.4,942.0 L1452.4,942.0 L1454.4,942.0 L1456.4,942.0 L1458.4,942.0 L1460.4,942.0" stroke="#ff0000" stroke-opacity="0.7" stroke-width="2.3" fill="none" stroke-linejoin="round"/>
<path d="M172.2,939.9 L174.2,939.8 L176.2,939.8 L178.2,939.8 L180.2,939.8 L182.2,939.8 L184.2,939.8 L186.2,939.8 L188.2,939.8 L190.2,939.8 L192.2,939.8 L194.2,939.8 L196.2,939.8 L198.2,939.7 L200.2,939.7 L202.2,939.7 L204.2,939.7 L206.2,939.7 L208.2,939.7 L210.2,939.7 L212.2,939.7 L214.2,939.7 L216.2,939.7 L218.2,939.7 L220.2,939.7 L222.2,939.6 L224.2,939.6 L226.2,939.6 L228.2,939.6 L230.2,939.6 L232.2,939.6 L234.2,939.6 L236.2,939.6 L238.2,939.6 L240.2,939.6 L242.2,939.6 L244.2,939.5 L246.2,939.5 L248.2,939.5 L250.2,939.5 L252.2,939.5 L254.2,939.5 L256.2,939.5 L258.2,939.5 L260.2,939.5 L262.2,939.5 L264.2,939.4 L266.2,939.4 L268.2,939.4 L270.2,939.4 L272.2,939.4 L274.2,939.4 L276.2,939.4 L278.2,939.4 L280.2,939.4 L282.2,939.4 L284.2,939.3 L286.2,939.3 L288.2,939.3 L290.2,939.3 L292.2,939.3 L294.2,939.3 L296.2,939.3 L298.2,939.3 L300.2,939.3 L302.2,939.2 L304.2,939.2 L306.2,939.2 L308.2,939.2 L310.2,939.2 L312.2,939.2 L314.2,939.2 L316.2,939.2 L318.2,939.1 L320.2,939.1 L322.2,939.1 L324.2,939.1 L326.2,939.1 L328.2,939.1 L330.2,939.1 L332.2,939.1 L334.2,939.1 L336.2,939.0 L338.2,939.0 L340.2,939.0 L342.2,939.0 L344.2,939.0 L346.2,939.0 L348.2,939.0 L350.2,938.9 L352.2,938.9 L354.2,938.9 L356.2,938.9 L358.2,938.9 L360.2,938.9 L362.2,938.9 L364.2,938.9 L366.2,938.8 L368.2,938.8 L370.2,938.8 L372.2,938.8 L374.2,938.8 L376.2,938.8 L378.2,938.8 L380.2,938.7 L382.2,938.7 L384.2,938.7 L386.2,938.7 L388.2,938.7 L390.2,938.7 L392.2,938.7 L394.2,938.6 L396.2,938.6 L398.2,938.6 L400.2,938.6 L402.2,938.6 L404.2,938.6 L406.2,938.5 L408.2,938.5 L410.2,938.5 L412.2,938.5 L414.2,938.5 L416.2,938.5 L418.2,938.4 L420.2,938.4 L422.2,938.4 L424.2,938.4 L426.2,938.4 L428.2,938.4 L430.2,938.3 L432.2,938.3 L434.2,938.3 L436.2,938.3 L438.2,938.3 L440.2,938.3 L442.2,938.2 L444.2,938.2 L446.2,938.2 L448.2,938.2 L450.2,938.2 L452.2,938.2 L454.2,938.1 L456.2,938.1 L458.2,938.1 L460.2,938.1 L462.2,938.1 L464.2,938.0 L466.2,938.0 L468.2,938.0 L470.2,938.0 L472.2,938.0 L474.2,937.9 L476.2,937.9 L478.2,937.9 L480.2,937.9 L482.2,937.9 L484.2,937.8 L486.2,937.8 L488.2,937.8 L490.2,937.8 L492.2,937.8 L494.2,937.7 L496.3,937.7 L498.3,937.7 L500.3,937.7 L502.3,937.6 L504.3,937.6 L506.3,937.6 L508.3,937.6 L510.3,937.5 L512.3,937.5 L514.3,937.5 L516.3,937.5 L518.3,937.5 L520.3,937.4 L522.3,937.4 L524.3,937.4 L526.3,937.4 L528.3,937.3 L530.3,937.3 L532.3,937.3 L534.3,937.3 L536.3,937.2 L538.3,937.2 L540.3,937.2 L542.3,937.2 L544.3,937.1 L546.3,937.1 L548.3,937.1 L550.3,937.0 L552.3,937.0 L554.3,937.0 L556.3,937.0 L558.3,936.9 L560.3,936.9 L562.3,936.9 L564.3,936.9 L566.3,936.8 L568.3,936.8 L570.3,936.8 L572.3,936.7 L574.3,936.7 L576.3,936.7 L578.3,936.6 L580.3,936.6 L582.3,936.6 L584.3,936.6 L586.3,936.5 L588.3,936.5 L590.3,936.5 L592.3,936.4 L594.3,936.4 L596.3,936.4 L598.3,936.3 L600.3,936.3 L602.3,936.3 L604.3,936.2 L606.3,936.2 L608.3,936.2 L610.3,936.1 L612.3,936.1 L614.3,936.1 L616.3,936.0 L618.3,936.0 L620.3,935.9 L622.3,935.9 L624.3,935.9 L626.3,935.8 L628.3,935.8 L630.3,935.8 L632.3,935.7 L634.3,935.7 L636.3,935.6 L638.3,935.6 L640.3,935.6 L642.3,935.5 L644.3,935.5 L646.3,935.4 L648.3,935.4 L650.3,935.4 L652.3,935.3 L654.3,935.3 L656.3,935.2 L658.3,935.2 L660.3,935.1 L662.3,935.1 L664.3,935.1 L666.3,935.0 L668.3,935.0 L670.3,934.9 L672.3,934.9 L674.3,934.8 L676.3,934.8 L678.3,934.7 L680.3,934.7 L682.3,934.6 L684.3,934.6 L686.3,934.5 L688.3,934.5 L690.3,934.4 L692.3,934.4 L694.3,934.3 L696.3,934.3 L698.3,934.2 L700.3,934.2 L702.3,934.1 L704.3,934.1 L706.3,934.0 L708.3,934.0 L710.3,933.9 L712.3,933.8 L714.3,933.8 L716.3,933.7 L718.3,933.7 L720.3,933.6 L722.3,933.6 L724.3,933.5 L726.3,933.4 L728.3,933.4 L730.3,933.3 L732.3,933.2 L734.3,933.2 L736.3,933.1 L738.3,933.0 L740.3,933.0 L742.3,932.9 L744.3,932.9 L746.3,932.8 L748.3,932.7 L750.3,932.6 L752.3,932.6 L754.3,932.5 L756.3,932.4 L758.3,932.4 L760.3,932.3 L762.3,932.2 L764.3,932.1 L766.3,932.1 L768.3,932.0 L770.3,931.9 L772.3,931.8 L774.3,931.7 L776.3,931.7 L778.3,931.6 L780.3,931.5 L782.3,931.4 L784.3,931.3 L786.3,931.2 L788.3,931.2 L790.3,931.1 L792.3,931.0 L794.3,930.9 L796.3,930.8 L798.3,930.7 L800.3,930.6 L802.3,930.5 L804.3,930.4 L806.3,930.3 L808.3,930.2 L810.3,930.1 L812.3,930.0 L814.3,929.9 L816.3,929.8 L818.3,929.7 L820.3,929.6 L822.3,929.5 L824.3,929.4 L826.3,929.3 L828.3,929.2 L830.3,929.1 L832.3,929.0 L834.3,928.9 L836.3,928.7 L838.3,928.6 L840.3,928.5 L842.3,928.4 L844.3,928.3 L846.3,928.1 L848.3,928.0 L850.3,927.9 L852.3,927.7 L854.3,927.6 L856.3,927.5 L858.3,927.3 L860.3,927.2 L862.3,927.1 L864.3,926.9 L866.3,926.8 L868.3,926.6 L870.3,926.5 L872.3,926.3 L874.3,926.2 L876.3,926.0 L878.3,925.9 L880.3,925.7 L882.3,925.6 L884.3,925.4 L886.3,925.2 L888.3,925.1 L890.3,924.9 L892.3,924.7 L894.3,924.6 L896.3,924.4 L898.3,924.2 L900.3,924.0 L902.3,923.8 L904.3,923.6 L906.3,923.5 L908.3,923.3 L910.3,923.1 L912.3,922.9 L914.3,922.7 L916.3,922.4 L918.3,922.2 L920.3,922.0 L922.3,921.8 L924.3,921.6 L926.3,921.4 L928.3,921.1 L930.3,920.9 L932.3,920.7 L934.3,920.4 L936.3,920.2 L938.3,919.9 L940.3,919.7 L942.3,919.4 L944.3,919.2 L946.3,918.9 L948.3,918.6 L950.3,918.4 L952.3,918.1 L954.3,917.8 L956.3,917.5 L958.3,917.2 L960.3,916.9 L962.3,916.6 L964.3,916.3 L966.3,916.0 L968.3,915.7 L970.3,915.4 L972.3,915.0 L974.3,914.7 L976.3,914.4 L978.3,914.0 L980.3,913.7 L982.3,913.3 L984.3,912.9 L986.3,912.6 L988.3,912.2 L990.3,911.8 L992.3,911.4 L994.3,911.0 L996.3,910.6 L998.3,910.1 L1000.3,909.7 L1002.3,909.3 L1004.3,908.8 L1006.3,908.4 L1008.3,907.9 L1010.3,907.4 L1012.3,906.9 L1014.3,906.5 L1016.3,905.9 L1018.3,905.4 L1020.3,904.9 L1022.3,904.4 L1024.3,903.8 L1026.3,903.3 L1028.3,902.7 L1030.3,902.1 L1032.3,901.5 L1034.3,900.9 L1036.3,900.3 L1038.3,899.7 L1040.3,899.0 L1042.3,898.3 L1044.3,897.7 L1046.3,897.0 L1048.3,896.3 L1050.3,895.5 L1052.3,894.8 L1054.3,894.0 L1056.3,893.3 L1058.3,892.5 L1060.3,891.6 L1062.3,890.8 L1064.3,890.0 L1066.3,889.1 L1068.3,888.2 L1070.3,887.3 L1072.3,886.3 L1074.3,885.4 L1076.3,884.4 L1078.3,883.4 L1080.3,882.4 L1082.3,881.3 L1084.3,880.2 L1086.3,879.1 L1088.3,878.0 L1090.3,876.8 L1092.3,875.6 L1094.3,874.4 L1096.3,873.1 L1098.3,871.8 L1100.3,870.5 L1102.3,869.1 L1104.3,867.7 L1106.3,866.3 L1108.3,864.8 L1110.3,863.3 L1112.3,861.7 L1114.3,860.1 L1116.3,858.5 L1118.3,856.8 L1120.3,855.0 L1122.3,853.2 L1124.3,851.4 L1126.3,849.5 L1128.3,847.6 L1130.3,845.6 L1132.3,843.5 L1134.3,841.4 L1136.3,839.3 L1138.4,837.0 L1140.4,834.7 L1142.4,832.4 L1144.4,829.9 L1146.4,827.4 L1148.4,824.9 L1150.4,822.2 L1152.4,819.5 L1154.4,816.7 L1156.4,813.8 L1158.4,810.9 L1160.4,807.8 L1162.4,804.7 L1164.4,801.5 L1166.4,798.2 L1168.4,794.7 L1170.4,791.2 L1172.4,787.6 L1174.4,783.9 L1176.4,780.1 L1178.4,776.2 L1180.4,772.2 L1182.4,768.1 L1184.4,763.8 L1186.4,759.5 L1188.4,755.0 L1190.4,750.5 L1192.4,745.8 L1194.4,741.0 L1196.4,736.1 L1198.4,731.1 L1200.4,726.0 L1202.4,720.8 L1204.4,715.5 L1206.4,710.1 L1208.4,704.6 L1210.4,699.0 L1212.4,693.4 L1214.4,687.7 L1216.4,681.9 L1218.4,676.0 L1220.4,670.1 L1222.4,664.2 L1224.4,658.2 L1226.4,652.3 L1228.4,646.4 L1230.4,640.5 L1232.4,634.6 L1234.4,628.8 L1236.4,623.1 L1238.4,617.5 L1240.4,612.4 L1242.4,607.6 L1244.4,602.8 L1246.4,597.9 L1248.4,593.1 L1250.4,588.3 L1252.4,583.6 L1254.4,580.7 L1256.4,577.8 L1258.4,574.9 L1260.4,572.1 L1262.4,569.2 L1264.4,566.3 L1266.4,564.9 L1268.4,564.7 L1270.4,564.5 L1272.4,564.3 L1274.4,564.1 L1276.4,563.9 L1278.4,563.9 L1280.4,566.4 L1282.4,568.9 L1284.4,571.4 L1286.4,573.9 L1288.4,576.5 L1290.4,579.0 L1292.4,582.7 L1294.4,587.3 L1296.4,591.9 L1298.4,596.5 L1300.4,601.1 L1302.4,605.7 L1304.4,610.3 L1306.4,616.0 L1308.4,621.7 L1310.4,627.4 L1312.4,633.1 L1314.4,638.8 L1316.4,644.5 L1318.4,650.3 L1320.4,656.3 L1322.4,662.2 L1324.4,668.2 L1326.4,674.1 L1328.4,679.9 L1330.4,685.8 L1332.4,691.5 L1334.4,697.2 L1336.4,702.8 L1338.4,708.3 L1340.4,713.8 L1342.4,719.1 L1344.4,724.3 L1346.4,729.5 L1348.4,734.5 L1350.4,739.4 L1352.4,744.3 L1354.4,749.0 L1356.4,753.6 L1358.4,758.0 L1360.4,762.4 L1362.4,766.7 L1364.4,770.8 L1366.4,774.9 L1368.4,778.8 L1370.4,782.7 L1372.4,786.4 L1374.4,790.1 L1376.4,793.6 L1378.4,797.0 L1380.4,800.4 L1382.4,803.6 L1384.4,806.8 L1386.4,809.9 L1388.4,812.9 L1390.4,815.8 L1392.4,818.6 L1394.4,821.3 L1396.4,824.0 L1398.4,826.6 L1400.4,829.1 L1402.4,831.6 L1404.4,834.0 L1406.4,836.3 L1408.4,838.5 L1410.4,840.7 L1412.4,842.9 L1414.4,844.9 L1416.4,846.9 L1418.4,848.9 L1420.4,850.8 L1422.4,852.6 L1424.4,854.4 L1426.4,856.2 L1428.4,857.9 L1430.4,859.6 L1432.4,861.2 L1434.4,862.8 L1436.4,864.3 L1438.4,865.8 L1440.4,867.2 L1442.4,868.6 L1444.4,870.0 L1446.4,871.4 L1448.4,872.7 L1450.4,873.9 L1452.4,875.2 L1454.4,876.4 L1456.4,877.6 L1458.4,878.7 L1460.4,879.8" stroke="#ff0000" stroke-opacity="0.7" stroke-width="2.3" fill="none" stroke-linejoin="round"/>
<path d="M172.2,954.7 L174.2,954.8 L176.2,954.8 L178.2,954.8 L180.2,954.9 L182.2,954.9 L184.2,955.0 L186.2,955.0 L188.2,955.1 L190.2,955.1 L192.2,955.1 L194.2,955.2 L196.2,955.2 L198.2,955.3 L200.2,955.3 L202.2,955.4 L204.2,955.4 L206.2,955.4 L208.2,955.5 L210.2,955.5 L212.2,955.6 L214.2,955.6 L216.2,955.7 L218.2,955.7 L220.2,955.8 L222.2,955.8 L224.2,955.9 L226.2,955.9 L228.2,955.9 L230.2,956.0 L232.2,956.0 L234.2,956.1 L236.2,956.1 L238.2,956.2 L240.2,956.2 L242.2,956.3 L244.2,956.3 L246.2,956.4 L248.2,956.4 L250.2,956.5 L252.2,956.5 L254.2,956.6 L256.2,956.6 L258.2,956.7 L260.2,956.7 L262.2,956.8 L264.2,956.8 L266.2,956.9 L268.2,956.9 L270.2,957.0 L272.2,957.0 L274.2,957.1 L276.2,957.1 L278.2,957.2 L280.2,957.3 L282.2,957.3 L284.2,957.4 L286.2,957.4 L288.2,957.5 L290.2,957.5 L292.2,957.6 L294.2,957.6 L296.2,957.7 L298.2,957.7 L300.2,957.8 L302.2,957.9 L304.2,957.9 L306.2,958.0 L308.2,958.0 L310.2,958.1 L312.2,958.1 L314.2,958.2 L316.2,958.3 L318.2,958.3 L320.2,958.4 L322.2,958.4 L324.2,958.5 L326.2,958.6 L328.2,958.6 L330.2,958.7 L332.2,958.7 L334.2,958.8 L336.2,958.9 L338.2,958.9 L340.2,959.0 L342.2,959.1 L344.2,959.1 L346.2,959.2 L348.2,959.2 L350.2,959.3 L352.2,959.4 L354.2,959.4 L356.2,959.5 L358.2,959.6 L360.2,959.6 L362.2,959.7 L364.2,959.8 L366.2,959.8 L368.2,959.9 L370.2,960.0 L372.2,960.0 L374.2,960.1 L376.2,960.2 L378.2,960.3 L380.2,960.3 L382.2,960.4 L384.2,960.5 L386.2,960.5 L388.2,960.6 L390.2,960.7 L392.2,960.8 L394.2,960.8 L396.2,960.9 L398.2,961.0 L400.2,961.0 L402.2,961.1 L404.2,961.2 L406.2,961.3 L408.2,961.4 L410.2,961.4 L412.2,961.5 L414.2,961.6 L416.2,961.7 L418.2,961.7 L420.2,961.8 L422.2,961.9 L424.2,962.0 L426.2,962.1 L428.2,962.1 L430.2,962.2 L432.2,962.3 L434.2,962.4 L436.2,962.5 L438.2,962.5 L440.2,962.6 L442.2,962.7 L444.2,962.8 L446.2,962.9 L448.2,963.0 L450.2,963.1 L452.2,963.1 L454.2,963.2 L456.2,963.3 L458.2,963.4 L460.2,963.5 L462.2,963.6 L464.2,963.7 L466.2,963.8 L468.2,963.9 L470.2,963.9 L472.2,964.0 L474.2,964.1 L476.2,964.2 L478.2,964.3 L480.2,964.4 L482.2,964.5 L484.2,964.6 L486.2,964.7 L488.2,964.8 L490.2,964.9 L492.2,965.0 L494.2,965.1 L496.3,965.2 L498.3,965.3 L500.3,965.4 L502.3,965.5 L504.3,965.6 L506.3,965.7 L508.3,965.8 L510.3,965.9 L512.3,966.0 L514.3,966.1 L516.3,966.2 L518.3,966.3 L520.3,966.4 L522.3,966.5 L524.3,966.7 L526.3,966.8 L528.3,966.9 L530.3,967.0 L532.3,967.1 L534.3,967.2 L536.3,967.3 L538.3,967.4 L540.3,967.6 L542.3,967.7 L544.3,967.8 L546.3,967.9 L548.3,968.0 L550.3,968.1 L552.3,968.3 L554.3,968.4 L556.3,968.5 L558.3,968.6 L560.3,968.7 L562.3,968.9 L564.3,969.0 L566.3,969.1 L568.3,969.2 L570.3,969.4 L572.3,969.5 L574.3,969.6 L576.3,969.8 L578.3,969.9 L580.3,970.0 L582.3,970.1 L584.3,970.3 L586.3,970.4 L588.3,970.6 L590.3,970.7 L592.3,970.8 L594.3,971.0 L596.3,971.1 L598.3,971.2 L600.3,971.4 L602.3,971.5 L604.3,971.7 L606.3,971.8 L608.3,972.0 L610.3,972.1 L612.3,972.3 L614.3,972.4 L616.3,972.5 L618.3,972.7 L620.3,972.9 L622.3,973.0 L624.3,973.2 L626.3,973.3 L628.3,973.5 L630.3,973.6 L632.3,973.8 L634.3,973.9 L636.3,974.1 L638.3,974.3 L640.3,974.4 L642.3,974.6 L644.3,974.8 L646.3,974.9 L648.3,975.1 L650.3,975.3 L652.3,975.4 L654.3,975.6 L656.3,975.8 L658.3,976.0 L660.3,976.1 L662.3,976.3 L664.3,976.5 L666.3,976.7 L668.3,976.8 L670.3,977.0 L672.3,977.2 L674.3,977.4 L676.3,977.6 L678.3,977.8 L680.3,978.0 L682.3,978.2 L684.3,978.3 L686.3,978.5 L688.3,978.7 L690.3,978.9 L692.3,979.1 L694.3,979.3 L696.3,979.5 L698.3,979.7 L700.3,979.9 L702.3,980.1 L704.3,980.4 L706.3,980.6 L708.3,980.8 L710.3,981.0 L712.3,981.2 L714.3,981.4 L716.3,981.6 L718.3,981.9 L720.3,982.1 L722.3,982.3 L724.3,982.5 L726.3,982.8 L728.3,983.0 L730.3,983.2 L732.3,983.5 L734.3,983.7 L736.3,983.9 L738.3,984.2 L740.3,984.4 L742.3,984.7 L744.3,984.9 L746.3,985.2 L748.3,985.4 L750.3,985.7 L752.3,985.9 L754.3,986.2 L756.3,986.4 L758.3,986.7 L760.3,986.9 L762.3,987.2 L764.3,987.5 L766.3,987.7 L768.3,988.0 L770.3,988.3 L772.3,988.6 L774.3,988.8 L776.3,989.1 L778.3,989.4 L780.3,989.7 L782.3,990.0 L784.3,990.3 L786.3,990.6 L788.3,990.9 L790.3,991.2 L792.3,991.5 L794.3,991.8 L796.3,992.1 L798.3,992.4 L800.3,992.7 L802.3,993.0 L804.3,993.3 L806.3,993.7 L808.3,994.0 L810.3,994.3 L812.3,994.7 L814.3,995.0 L816.3,995.3 L818.3,995.7 L820.3,996.0 L822.3,996.4 L824.3,996.7 L826.3,997.1 L828.3,997.4 L830.3,997.8 L832.3,998.1 L834.3,998.5 L836.3,998.9 L838.3,999.2 L840.3,999.6 L842.3,1000.0 L844.3,1000.4 L846.3,1000.8 L848.3,1001.2 L850.3,1001.6 L852.3,1002.0 L854.3,1002.4 L856.3,1002.8 L858.3,1003.2 L860.3,1003.6 L862.3,1004.0 L864.3,1004.4 L866.3,1004.9 L868.3,1005.3 L870.3,1005.7 L872.3,1006.2 L874.3,1006.6 L876.3,1007.1 L878.3,1007.5 L880.3,1008.0 L882.3,1008.4 L884.3,1008.9 L886.3,1009.4 L888.3,1009.9 L890.3,1010.3 L892.3,1010.8 L894.3,1011.3 L896.3,1011.8 L898.3,1012.3 L900.3,1012.8 L902.3,1013.3 L904.3,1013.9 L906.3,1014.4 L908.3,1014.9 L910.3,1015.4 L912.3,1016.0 L914.3,1016.5 L916.3,1017.1 L918.3,1017.6 L920.3,1018.2 L922.3,1018.8 L924.3,1019.3 L926.3,1019.9 L928.3,1020.5 L930.3,1021.1 L932.3,1021.7 L934.3,1022.3 L936.3,1022.9 L938.3,1023.5 L940.3,1024.2 L942.3,1024.8 L944.3,1025.4 L946.3,1026.1 L948.3,1026.7 L950.3,1027.4 L952.3,1028.1 L954.3,1028.8 L956.3,1029.4 L958.3,1030.1 L960.3,1030.8 L962.3,1031.5 L964.3,1032.3 L966.3,1033.0 L968.3,1033.7 L970.3,1034.4 L972.3,1035.2 L974.3,1036.0 L976.3,1036.7 L978.3,1037.5 L980.3,1038.3 L982.3,1039.1 L984.3,1039.9 L986.3,1040.7 L988.3,1041.5 L990.3,1042.3 L992.3,1043.2 L994.3,1044.0 L996.3,1044.9 L998.3,1045.8 L1000.3,1046.6 L1002.3,1047.5 L1004.3,1048.4 L1006.3,1049.3 L1008.3,1050.3 L1010.3,1051.2 L1012.3,1052.1 L1014.3,1053.1 L1016.3,1054.1 L1018.3,1055.0 L1020.3,1056.0 L1022.3,1057.0 L1024.3,1058.1 L1026.3,1059.1 L1028.3,1060.1 L1030.3,1061.2 L1032.3,1062.2 L1034.3,1063.3 L1036.3,1064.4 L1038.3,1065.5 L1040.3,1066.6 L1042.3,1067.8 L1044.3,1068.9 L1046.3,1070.1 L1048.3,1071.3 L1050.3,1072.5 L1052.3,1073.7 L1054.3,1074.9 L1056.3,1076.1 L1058.3,1077.4 L1060.3,1078.6 L1062.3,1079.9 L1064.3,1081.2 L1066.3,1082.6 L1068.3,1083.9 L1070.3,1085.2 L1072.3,1086.6 L1074.3,1088.0 L1076.3,1089.4 L1078.3,1090.8 L1080.3,1092.3 L1082.3,1093.7 L1084.3,1095.2 L1086.3,1096.7 L1088.3,1098.2 L1090.3,1099.8 L1092.3,1101.3 L1094.3,1102.9 L1096.3,1104.5 L1098.3,1106.1 L1100.3,1107.8 L1102.3,1109.4 L1104.3,1111.1 L1106.3,1112.8 L1108.3,1114.5 L1110.3,1116.3 L1112.3,1118.1 L1114.3,1119.9 L1116.3,1121.7 L1118.3,1123.5 L1120.3,1125.4 L1122.3,1127.3 L1124.3,1129.2 L1126.3,1131.2 L1128.3,1133.1 L1130.3,1135.1 L1132.3,1137.2 L1134.3,1139.2 L1136.3,1141.3 L1138.4,1143.4 L1140.4,1145.5 L1142.4,1147.7 L1144.4,1149.9 L1146.4,1152.1 L1148.4,1154.3 L1150.4,1156.6 L1152.4,1158.9 L1154.4,1161.2 L1156.4,1163.6 L1158.4,1166.0 L1160.4,1168.4 L1162.4,1170.9 L1164.4,1173.4 L1166.4,1175.9 L1168.4,1178.5 L1170.4,1181.1 L1172.4,1183.7 L1174.4,1186.3 L1176.4,1189.0 L1178.4,1191.7 L1180.4,1194.5 L1182.4,1197.3 L1184.4,1200.1 L1186.4,1203.0 L1188.4,1205.9 L1190.4,1208.8 L1192.4,1211.8 L1194.4,1214.8 L1196.4,1217.8 L1198.4,1220.9 L1200.4,1224.0 L1202.4,1227.1 L1204.4,1230.3 L1206.4,1233.5 L1208.4,1236.8 L1210.4,1240.1 L1212.4,1243.4 L1214.4,1246.8 L1216.4,1250.2 L1218.4,1253.6 L1220.4,1257.1 L1222.4,1260.6 L1224.4,1264.2 L1226.4,1267.8 L1228.4,1271.4 L1230.4,1275.0 L1232.4,1278.7 L1234.4,1282.5 L1236.4,1286.2 L1238.4,1290.0 L1240.4,1293.9 L1242.4,1297.7 L1244.4,1301.6 L1246.4,1305.5 L1248.4,1309.5 L1250.4,1313.5 L1252.4,1317.5 L1254.4,1321.5 L1256.4,1325.6 L1258.4,1329.7 L1260.4,1333.8 L1262.4,1337.9 L1264.4,1342.1 L1266.4,1346.3 L1268.4,1350.5 L1270.4,1354.7 L1272.4,1358.9 L1274.4,1363.2 L1276.4,1367.5 L1278.4,1371.7 L1280.4,1376.0 L1282.4,1380.3 L1284.4,1384.6 L1286.4,1388.9 L1288.4,1393.2 L1290.4,1397.5 L1292.4,1401.8 L1294.4,1406.0 L1296.4,1410.3 L1298.4,1414.6 L1300.4,1418.8 L1302.4,1423.0 L1304.4,1427.2 L1306.4,1431.4 L1308.4,1435.5 L1310.4,1439.6 L1312.4,1443.7 L1314.4,1447.7 L1316.4,1451.7 L1318.4,1455.7 L1320.4,1459.6 L1322.4,1463.4 L1324.4,1467.2 L1326.4,1470.9 L1328.4,1474.6 L1330.4,1478.2 L1332.4,1481.7 L1334.4,1485.1 L1336.4,1488.5 L1338.4,1491.8 L1340.4,1495.0 L1342.4,1498.1 L1344.4,1501.1 L1346.4,1504.0 L1348.4,1506.8 L1350.4,1509.5 L1352.4,1512.1 L1354.4,1514.6 L1356.4,1516.9 L1358.4,1519.2 L1360.4,1521.3 L1362.4,1523.3 L1364.4,1525.2 L1366.4,1526.9 L1368.4,1528.5 L1370.4,1530.0 L1372.4,1531.4 L1374.4,1532.6 L1376.4,1533.6 L1378.4,1534.5 L1380.4,1535.3 L1382.4,1535.9 L1384.4,1536.4 L1386.4,1536.8 L1388.4,1537.0 L1390.4,1537.0 L1392.4,1536.9 L1394.4,1536.6 L1396.4,1536.3 L1398.4,1535.7 L1400.4,1535.0 L1402.4,1534.2 L1404.4,1533.2 L1406.4,1532.1 L1408.4,1530.9 L1410.4,1529.5 L1412.4,1527.9 L1414.4,1526.3 L1416.4,1524.5 L1418.4,1522.6 L1420.4,1520.5 L1422.4,1518.3 L1424.4,1516.0 L1426.4,1513.6 L1428.4,1511.1 L1430.4,1508.5 L1432.4,1505.7 L1434.4,1502.9 L1436.4,1499.9 L1438.4,1496.9 L1440.4,1493.7 L1442.4,1490.5 L1444.4,1487.2 L1446.4,1483.8 L1448.4,1480.3 L1450.4,1476.8 L1452.4,1473.2 L1454.4,1469.5 L1456.4,1465.7 L1458.4,1461.9 L1460.4,1458.1" stroke="#ff0000" stroke-opacity="0.7" stroke-width="2.3" fill="none" stroke-linejoin="round"/>
<path d="M172.2,906.8 L174.2,906.4 L176.2,905.9 L178.2,905.5 L180.2,905.0 L182.2,904.5 L184.2,904.1 L186.2,903.6 L188.2,903.1 L190.2,902.6 L192.2,902.1 L194.2,901.6 L196.2,901.1 L198.2,900.6 L200.2,900.1 L202.2,899.6 L204.2,899.1 L206.2,898.6 L208.2,898.1 L210.2,897.6 L212.2,897.0 L214.2,896.5 L216.2,896.0 L218.2,895.4 L220.2,894.9 L222.2,894.4 L224.2,893.8 L226.2,893.3 L228.2,892.7 L230.2,892.2 L232.2,891.6 L234.2,891.0 L236.2,890.5 L238.2,889.9 L240.2,889.3 L242.2,888.8 L244.2,888.2 L246.2,887.6 L248.2,887.0 L250.2,886.4 L252.2,885.8 L254.2,885.3 L256.2,884.7 L258.2,884.1 L260.2,883.5 L262.2,882.9 L264.2,882.2 L266.2,881.6 L268.2,881.0 L270.2,880.4 L272.2,879.8 L274.2,879.2 L276.2,878.6 L278.2,877.9 L280.2,877.3 L282.2,876.7 L284.2,876.1 L286.2,875.4 L288.2,874.8 L290.2,874.2 L292.2,873.5 L294.2,872.9 L296.2,872.2 L298.2,871.6 L300.2,870.9 L302.2,870.3 L304.2,869.7 L306.2,869.0 L308.2,868.3 L310.2,867.7 L312.2,867.0 L314.2,866.4 L316.2,865.7 L318.2,865.1 L320.2,864.4 L322.2,863.8 L324.2,863.1 L326.2,862.4 L328.2,861.8 L330.2,861.1 L332.2,860.4 L334.2,859.8 L336.2,859.1 L338.2,858.5 L340.2,857.8 L342.2,857.1 L344.2,856.5 L346.2,855.8 L348.2,855.1 L350.2,854.5 L352.2,853.8 L354.2,853.1 L356.2,852.5 L358.2,851.8 L360.2,851.1 L362.2,850.5 L364.2,849.8 L366.2,849.2 L368.2,848.5 L370.2,847.8 L372.2,847.2 L374.2,846.5 L376.2,845.9 L378.2,845.2 L380.2,844.6 L382.2,843.9 L384.2,843.3 L386.2,842.6 L388.2,842.0 L390.2,841.3 L392.2,840.7 L394.2,840.0 L396.2,839.4 L398.2,838.7 L400.2,838.1 L402.2,837.5 L404.2,836.8 L406.2,836.2 L408.2,835.6 L410.2,835.0 L412.2,834.4 L414.2,833.7 L416.2,833.1 L418.2,832.5 L420.2,831.9 L422.2,831.3 L424.2,830.7 L426.2,830.1 L428.2,829.5 L430.2,828.9 L432.2,828.3 L434.2,827.7 L436.2,827.2 L438.2,826.6 L440.2,826.0 L442.2,825.4 L444.2,824.9 L446.2,824.3 L448.2,823.8 L450.2,823.2 L452.2,822.7 L454.2,822.1 L456.2,821.6 L458.2,821.1 L460.2,820.5 L462.2,820.0 L464.2,819.5 L466.2,819.0 L468.2,818.5 L470.2,818.0 L472.2,817.5 L474.2,817.0 L476.2,816.5 L478.2,816.0 L480.2,815.6 L482.2,815.1 L484.2,814.6 L486.2,814.2 L488.2,813.7 L490.2,813.3 L492.2,812.8 L494.2,812.4 L496.3,812.0 L498.3,811.6 L500.3,811.2 L502.3,810.7 L504.3,810.3 L506.3,810.0 L508.3,809.6 L510.3,809.2 L512.3,808.8 L514.3,808.5 L516.3,808.1 L518.3,807.7 L520.3,807.4 L522.3,807.1 L524.3,806.7 L526.3,806.4 L528.3,806.1 L530.3,805.8 L532.3,805.5 L534.3,805.2 L536.3,804.9 L538.3,804.6 L540.3,804.4 L542.3,804.1 L544.3,803.9 L546.3,803.6 L548.3,803.4 L550.3,803.1 L552.3,802.9 L554.3,802.7 L556.3,802.5 L558.3,802.3 L560.3,802.1 L562.3,801.9 L564.3,801.7 L566.3,801.6 L568.3,801.4 L570.3,801.3 L572.3,801.1 L574.3,801.0 L576.3,800.9 L578.3,800.8 L580.3,800.6 L582.3,800.5 L584.3,800.5 L586.3,800.4 L588.3,800.3 L590.3,800.2 L592.3,800.2 L594.3,800.1 L596.3,800.1 L598.3,800.0 L600.3,800.0 L602.3,800.0 L604.3,800.0 L606.3,800.0 L608.3,800.0 L610.3,800.0 L612.3,800.1 L614.3,800.1 L616.3,800.1 L618.3,800.2 L620.3,800.2 L622.3,800.3 L624.3,800.4 L626.3,800.5 L628.3,800.6 L630.3,800.7 L632.3,800.8 L634.3,800.9 L636.3,801.0 L638.3,801.2 L640.3,801.3 L642.3,801.5 L644.3,801.6 L646.3,801.8 L648.3,802.0 L650.3,802.2 L652.3,802.3 L654.3,802.5 L656.3,802.8 L658.3,803.0 L660.3,803.2 L662.3,803.4 L664.3,803.7 L666.3,803.9 L668.3,804.2 L670.3,804.4 L672.3,804.7 L674.3,805.0 L676.3,805.3 L678.3,805.6 L680.3,805.9 L682.3,806.2 L684.3,806.5 L686.3,806.8 L688.3,807.2 L690.3,807.5 L692.3,807.8 L694.3,808.2 L696.3,808.6 L698.3,808.9 L700.3,809.3 L702.3,809.7 L704.3,810.1 L706.3,810.5 L708.3,810.9 L710.3,811.3 L712.3,811.7 L714.3,812.1 L716.3,812.5 L718.3,813.0 L720.3,813.4 L722.3,813.8 L724.3,814.3 L726.3,814.7 L728.3,815.2 L730.3,815.7 L732.3,816.2 L734.3,816.6 L736.3,817.1 L738.3,817.6 L740.3,818.1 L742.3,818.6 L744.3,819.1 L746.3,819.6 L748.3,820.2 L750.3,820.7 L752.3,821.2 L754.3,821.7 L756.3,822.3 L758.3,822.8 L760.3,823.4 L762.3,823.9 L764.3,824.5 L766.3,825.0 L768.3,825.6 L770.3,826.2 L772.3,826.7 L774.3,827.3 L776.3,827.9 L778.3,828.5 L780.3,829.1 L782.3,829.7 L784.3,830.3 L786.3,830.9 L788.3,831.5 L790.3,832.1 L792.3,832.7 L794.3,833.3 L796.3,833.9 L798.3,834.5 L800.3,835.1 L802.3,835.8 L804.3,836.4 L806.3,837.0 L808.3,837.6 L810.3,838.3 L812.3,838.9 L814.3,839.6 L816.3,840.2 L818.3,840.8 L820.3,841.5 L822.3,842.1 L824.3,842.8 L826.3,843.4 L828.3,844.1 L830.3,844.7 L832.3,845.4 L834.3,846.0 L836.3,846.7 L838.3,847.4 L840.3,848.0 L842.3,848.7 L844.3,849.3 L846.3,850.0 L848.3,850.7 L850.3,851.3 L852.3,852.0 L854.3,852.7 L856.3,853.3 L858.3,854.0 L860.3,854.6 L862.3,855.3 L864.3,856.0 L866.3,856.6 L868.3,857.3 L870.3,858.0 L872.3,858.6 L874.3,859.3 L876.3,860.0 L878.3,860.6 L880.3,861.3 L882.3,862.0 L884.3,862.6 L886.3,863.3 L888.3,863.9 L890.3,864.6 L892.3,865.3 L894.3,865.9 L896.3,866.6 L898.3,867.2 L900.3,867.9 L902.3,868.5 L904.3,869.2 L906.3,869.8 L908.3,870.5 L910.3,871.1 L912.3,871.8 L914.3,872.4 L916.3,873.0 L918.3,873.7 L920.3,874.3 L922.3,875.0 L924.3,875.6 L926.3,876.2 L928.3,876.9 L930.3,877.5 L932.3,878.1 L934.3,878.7 L936.3,879.3 L938.3,880.0 L940.3,880.6 L942.3,881.2 L944.3,881.8 L946.3,882.4 L948.3,883.0 L950.3,883.6 L952.3,884.2 L954.3,884.8 L956.3,885.4 L958.3,886.0 L960.3,886.6 L962.3,887.2 L964.3,887.8 L966.3,888.3 L968.3,888.9 L970.3,889.5 L972.3,890.1 L974.3,890.6 L976.3,891.2 L978.3,891.8 L980.3,892.3 L982.3,892.9 L984.3,893.4 L986.3,894.0 L988.3,894.5 L990.3,895.0 L992.3,895.6 L994.3,896.1 L996.3,896.7 L998.3,897.2 L1000.3,897.7 L1002.3,898.2 L1004.3,898.7 L1006.3,899.3 L1008.3,899.8 L1010.3,900.3 L1012.3,900.8 L1014.3,901.3 L1016.3,901.8 L1018.3,902.3 L1020.3,902.7 L1022.3,903.2 L1024.3,903.7 L1026.3,904.2 L1028.3,904.7 L1030.3,905.1 L1032.3,905.6 L1034.3,906.1 L1036.3,906.5 L1038.3,907.0 L1040.3,907.4 L1042.3,907.9 L1044.3,908.3 L1046.3,908.8 L1048.3,909.2 L1050.3,909.6 L1052.3,910.0 L1054.3,910.5 L1056.3,910.9 L1058.3,911.3 L1060.3,911.7 L1062.3,912.1 L1064.3,912.5 L1066.3,912.9 L1068.3,913.3 L1070.3,913.7 L1072.3,914.1 L1074.3,914.5 L1076.3,914.9 L1078.3,915.3 L1080.3,915.6 L1082.3,916.0 L1084.3,916.4 L1086.3,916.7 L1088.3,917.1 L1090.3,917.5 L1092.3,917.8 L1094.3,918.2 L1096.3,918.5 L1098.3,918.9 L1100.3,919.2 L1102.3,919.5 L1104.3,919.9 L1106.3,920.2 L1108.3,920.5 L1110.3,920.8 L1112.3,921.2 L1114.3,921.5 L1116.3,921.8 L1118.3,922.1 L1120.3,922.4 L1122.3,922.7 L1124.3,923.0 L1126.3,923.3 L1128.3,923.6 L1130.3,923.8 L1132.3,924.1 L1134.3,924.4 L1136.3,924.7 L1138.4,925.0 L1140.4,925.2 L1142.4,925.5 L1144.4,925.8 L1146.4,926.0 L1148.4,926.3 L1150.4,926.5 L1152.4,926.8 L1154.4,927.0 L1156.4,927.3 L1158.4,927.5 L1160.4,927.7 L1162.4,928.0 L1164.4,928.2 L1166.4,928.4 L1168.4,928.7 L1170.4,928.9 L1172.4,929.1 L1174.4,929.3 L1176.4,929.5 L1178.4,929.8 L1180.4,930.0 L1182.4,930.2 L1184.4,930.4 L1186.4,930.6 L1188.4,930.8 L1190.4,931.0 L1192.4,931.1 L1194.4,931.3 L1196.4,931.5 L1198.4,931.7 L1200.4,931.9 L1202.4,932.1 L1204.4,932.2 L1206.4,932.4 L1208.4,932.6 L1210.4,932.8 L1212.4,932.9 L1214.4,933.1 L1216.4,933.2 L1218.4,933.4 L1220.4,933.6 L1222.4,933.7 L1224.4,933.9 L1226.4,934.0 L1228.4,934.2 L1230.4,934.3 L1232.4,934.4 L1234.4,934.6 L1236.4,934.7 L1238.4,934.9 L1240.4,935.0 L1242.4,935.1 L1244.4,935.3 L1246.4,935.4 L1248.4,935.5 L1250.4,935.6 L1252.4,935.8 L1254.4,935.9 L1256.4,936.0 L1258.4,936.1 L1260.4,936.2 L1262.4,936.3 L1264.4,936.4 L1266.4,936.6 L1268.4,936.7 L1270.4,936.8 L1272.4,936.9 L1274.4,937.0 L1276.4,937.1 L1278.4,937.2 L1280.4,937.3 L1282.4,937.4 L1284.4,937.4 L1286.4,937.5 L1288.4,937.6 L1290.4,937.7 L1292.4,937.8 L1294.4,937.9 L1296.4,938.0 L1298.4,938.1 L1300.4,938.1 L1302.4,938.2 L1304.4,938.3 L1306.4,938.4 L1308.4,938.4 L1310.4,938.5 L1312.4,938.6 L1314.4,938.7 L1316.4,938.7 L1318.4,938.8 L1320.4,938.9 L1322.4,938.9 L1324.4,939.0 L1326.4,939.1 L1328.4,939.1 L1330.4,939.2 L1332.4,939.2 L1334.4,939.3 L1336.4,939.4 L1338.4,939.4 L1340.4,939.5 L1342.4,939.5 L1344.4,939.6 L1346.4,939.6 L1348.4,939.7 L1350.4,939.7 L1352.4,939.8 L1354.4,939.8 L1356.4,939.9 L1358.4,939.9 L1360.4,940.0 L1362.4,940.0 L1364.4,940.1 L1366.4,940.1 L1368.4,940.2 L1370.4,940.2 L1372.4,940.2 L1374.4,940.3 L1376.4,940.3 L1378.4,940.4 L1380.4,940.4 L1382.4,940.4 L1384.4,940.5 L1386.4,940.5 L1388.4,940.5 L1390.4,940.6 L1392.4,940.6 L1394.4,940.6 L1396.4,940.7 L1398.4,940.7 L1400.4,940.7 L1402.4,940.8 L1404.4,940.8 L1406.4,940.8 L1408.4,940.8 L1410.4,940.9 L1412.4,940.9 L1414.4,940.9 L1416.4,941.0 L1418.4,941.0 L1420.4,941.0 L1422.4,941.0 L1424.4,941.0 L1426.4,941.1 L1428.4,941.1 L1430.4,941.1 L1432.4,941.1 L1434.4,941.2 L1436.4,941.2 L1438.4,941.2 L1440.4,941.2 L1442.4,941.2 L1444.4,941.3 L1446.4,941.3 L1448.4,941.3 L1450.4,941.3 L1452.4,941.3 L1454.4,941.3 L1456.4,941.4 L1458.4,941.4 L1460.4,941.4" stroke="#000000" stroke-opacity="0.72" stroke-width="2.3" fill="none" stroke-linejoin="round"/>
<path d="M172.2,942.0 L174.2,942.0 L176.2,942.0 L178.2,942.0 L180.2,942.0 L182.2,942.0 L184.2,942.0 L186.2,942.0 L188.2,942.0 L190.2,942.0 L192.2,942.0 L194.2,942.0 L196.2,942.0 L198.2,942.0 L200.2,942.0 L202.2,942.0 L204.2,942.0 L206.2,942.0 L208.2,942.0 L210.2,942.0 L212.2,942.0 L214.2,942.0 L216.2,942.0 L218.2,942.0 L220.2,942.0 L222.2,942.0 L224.2,942.0 L226.2,942.0 L228.2,942.0 L230.2,942.0 L232.2,942.0 L234.2,942.0 L236.2,942.0 L238.2,942.0 L240.2,942.0 L242.2,942.0 L244.2,942.0 L246.2,942.0 L248.2,942.0 L250.2,942.0 L252.2,942.0 L254.2,942.0 L256.2,942.0 L258.2,942.0 L260.2,942.0 L262.2,942.0 L264.2,942.0 L266.2,942.0 L268.2,942.0 L270.2,942.0 L272.2,942.0 L274.2,942.0 L276.2,942.0 L278.2,942.0 L280.2,942.0 L282.2,942.0 L284.2,942.0 L286.2,942.0 L288.2,942.0 L290.2,942.0 L292.2,942.0 L294.2,942.0 L296.2,942.0 L298.2,942.0 L300.2,942.0 L302.2,942.0 L304.2,942.0 L306.2,942.0 L308.2,942.0 L310.2,942.0 L312.2,942.0 L314.2,942.0 L316.2,942.0 L318.2,942.0 L320.2,942.0 L322.2,942.0 L324.2,942.0 L326.2,942.0 L328.2,942.0 L330.2,942.0 L332.2,942.0 L334.2,942.0 L336.2,942.0 L338.2,942.0 L340.2,942.0 L342.2,942.0 L344.2,942.0 L346.2,942.0 L348.2,942.0 L350.2,942.0 L352.2,942.0 L354.2,942.0 L356.2,942.0 L358.2,942.0 L360.2,942.0 L362.2,942.0 L364.2,942.0 L366.2,942.0 L368.2,942.0 L370.2,942.0 L372.2,942.0 L374.2,942.0 L376.2,942.0 L378.2,942.0 L380.2,942.0 L382.2,942.0 L384.2,942.0 L386.2,942.0 L388.2,942.0 L390.2,942.0 L392.2,942.0 L394.2,942.0 L396.2,942.0 L398.2,942.0 L400.2,942.0 L402.2,942.0 L404.2,942.0 L406.2,942.0 L408.2,942.0 L410.2,942.0 L412.2,942.0 L414.2,942.0 L416.2,942.0 L418.2,942.0 L420.2,942.0 L422.2,942.0 L424.2,942.0 L426.2,942.0 L428.2,942.0 L430.2,942.0 L432.2,942.0 L434.2,942.0 L436.2,942.0 L438.2,942.0 L440.2,942.0 L442.2,942.0 L444.2,942.0 L446.2,942.0 L448.2,942.0 L450.2,942.0 L452.2,942.0 L454.2,942.0 L456.2,942.0 L458.2,942.0 L460.2,942.0 L462.2,942.0 L464.2,942.0 L466.2,942.0 L468.2,942.0 L470.2,942.0 L472.2,942.0 L474.2,942.0 L476.2,942.0 L478.2,942.0 L480.2,942.0 L482.2,942.0 L484.2,942.0 L486.2,942.0 L488.2,942.0 L490.2,942.0 L492.2,942.1 L494.2,942.1 L496.3,942.1 L498.3,942.1 L500.3,942.1 L502.3,942.1 L504.3,942.1 L506.3,942.1 L508.3,942.1 L510.3,942.1 L512.3,942.1 L514.3,942.1 L516.3,942.2 L518.3,942.2 L520.3,942.2 L522.3,942.2 L524.3,942.2 L526.3,942.2 L528.3,942.2 L530.3,942.3 L532.3,942.3 L534.3,942.3 L536.3,942.3 L538.3,942.4 L540.3,942.4 L542.3,942.4 L544.3,942.5 L546.3,942.5 L548.3,942.6 L550.3,942.6 L552.3,942.6 L554.3,942.7 L556.3,942.7 L558.3,942.8 L560.3,942.9 L562.3,942.9 L564.3,943.0 L566.3,943.1 L568.3,943.2 L570.3,943.2 L572.3,943.3 L574.3,943.4 L576.3,943.5 L578.3,943.7 L580.3,943.8 L582.3,943.9 L584.3,944.0 L586.3,944.2 L588.3,944.3 L590.3,944.5 L592.3,944.7 L594.3,944.9 L596.3,945.1 L598.3,945.3 L600.3,945.5 L602.3,945.7 L604.3,946.0 L606.3,946.2 L608.3,946.5 L610.3,946.8 L612.3,947.1 L614.3,947.4 L616.3,947.8 L618.3,948.2 L620.3,948.5 L622.3,948.9 L624.3,949.4 L626.3,949.8 L628.3,950.3 L630.3,950.8 L632.3,951.3 L634.3,951.9 L636.3,952.4 L638.3,953.1 L640.3,953.7 L642.3,954.4 L644.3,955.1 L646.3,955.8 L648.3,956.6 L650.3,957.4 L652.3,958.2 L654.3,959.1 L656.3,960.0 L658.3,961.0 L660.3,962.0 L662.3,963.0 L664.3,964.1 L666.3,965.2 L668.3,966.4 L670.3,967.6 L672.3,968.9 L674.3,970.2 L676.3,971.6 L678.3,973.0 L680.3,974.5 L682.3,976.1 L684.3,977.7 L686.3,979.3 L688.3,981.0 L690.3,982.8 L692.3,984.7 L694.3,986.6 L696.3,988.5 L698.3,990.5 L700.3,992.6 L702.3,994.8 L704.3,997.0 L706.3,999.3 L708.3,1001.7 L710.3,1004.1 L712.3,1006.6 L714.3,1009.1 L716.3,1011.8 L718.3,1014.5 L720.3,1017.2 L722.3,1020.1 L724.3,1023.0 L726.3,1026.0 L728.3,1029.0 L730.3,1032.1 L732.3,1035.3 L734.3,1038.6 L736.3,1041.9 L738.3,1045.3 L740.3,1048.7 L742.3,1052.2 L744.3,1055.8 L746.3,1059.5 L748.3,1063.2 L750.3,1066.9 L752.3,1070.8 L754.3,1074.6 L756.3,1078.6 L758.3,1082.5 L760.3,1086.6 L762.3,1090.6 L764.3,1094.8 L766.3,1098.9 L768.3,1103.1 L770.3,1107.4 L772.3,1111.6 L774.3,1115.9 L776.3,1120.2 L778.3,1124.6 L780.3,1129.0 L782.3,1133.3 L784.3,1137.7 L786.3,1142.1 L788.3,1146.6 L790.3,1151.0 L792.3,1155.4 L794.3,1159.8 L796.3,1164.2 L798.3,1168.5 L800.3,1172.9 L802.3,1177.2 L804.3,1181.5 L806.3,1185.7 L808.3,1190.0 L810.3,1194.1 L812.3,1198.3 L814.3,1202.3 L816.3,1206.4 L818.3,1210.3 L820.3,1214.2 L822.3,1218.0 L824.3,1221.8 L826.3,1225.4 L828.3,1229.0 L830.3,1232.5 L832.3,1235.9 L834.3,1239.2 L836.3,1242.4 L838.3,1245.4 L840.3,1248.4 L842.3,1251.3 L844.3,1254.0 L846.3,1256.6 L848.3,1259.1 L850.3,1261.5 L852.3,1263.7 L854.3,1265.9 L856.3,1267.8 L858.3,1269.7 L860.3,1271.3 L862.3,1272.9 L864.3,1274.3 L866.3,1275.5 L868.3,1276.6 L870.3,1277.6 L872.3,1278.4 L874.3,1279.0 L876.3,1279.5 L878.3,1279.8 L880.3,1280.0 L882.3,1280.0 L884.3,1279.8 L886.3,1279.5 L888.3,1279.1 L890.3,1278.5 L892.3,1277.7 L894.3,1276.8 L896.3,1275.7 L898.3,1274.5 L900.3,1273.2 L902.3,1271.6 L904.3,1270.0 L906.3,1268.2 L908.3,1266.2 L910.3,1264.2 L912.3,1261.9 L914.3,1259.6 L916.3,1257.1 L918.3,1254.5 L920.3,1251.8 L922.3,1249.0 L924.3,1246.0 L926.3,1242.9 L928.3,1239.8 L930.3,1236.5 L932.3,1233.1 L934.3,1229.7 L936.3,1226.1 L938.3,1222.5 L940.3,1218.7 L942.3,1214.9 L944.3,1211.1 L946.3,1207.1 L948.3,1203.1 L950.3,1199.0 L952.3,1194.9 L954.3,1190.8 L956.3,1186.5 L958.3,1182.3 L960.3,1178.0 L962.3,1173.7 L964.3,1169.3 L966.3,1165.0 L968.3,1160.6 L970.3,1156.2 L972.3,1151.8 L974.3,1147.4 L976.3,1143.0 L978.3,1138.6 L980.3,1134.2 L982.3,1129.8 L984.3,1125.4 L986.3,1121.1 L988.3,1116.7 L990.3,1112.4 L992.3,1108.2 L994.3,1103.9 L996.3,1099.7 L998.3,1095.5 L1000.3,1091.4 L1002.3,1087.3 L1004.3,1083.3 L1006.3,1079.3 L1008.3,1075.4 L1010.3,1071.5 L1012.3,1067.7 L1014.3,1063.9 L1016.3,1060.2 L1018.3,1056.5 L1020.3,1052.9 L1022.3,1049.4 L1024.3,1045.9 L1026.3,1042.5 L1028.3,1039.2 L1030.3,1035.9 L1032.3,1032.7 L1034.3,1029.6 L1036.3,1026.5 L1038.3,1023.5 L1040.3,1020.6 L1042.3,1017.8 L1044.3,1015.0 L1046.3,1012.3 L1048.3,1009.6 L1050.3,1007.0 L1052.3,1004.5 L1054.3,1002.1 L1056.3,999.7 L1058.3,997.4 L1060.3,995.2 L1062.3,993.0 L1064.3,990.9 L1066.3,988.9 L1068.3,986.9 L1070.3,985.0 L1072.3,983.2 L1074.3,981.4 L1076.3,979.7 L1078.3,978.0 L1080.3,976.4 L1082.3,974.8 L1084.3,973.3 L1086.3,971.9 L1088.3,970.5 L1090.3,969.2 L1092.3,967.9 L1094.3,966.6 L1096.3,965.4 L1098.3,964.3 L1100.3,963.2 L1102.3,962.2 L1104.3,961.1 L1106.3,960.2 L1108.3,959.3 L1110.3,958.4 L1112.3,957.5 L1114.3,956.7 L1116.3,955.9 L1118.3,955.2 L1120.3,954.5 L1122.3,953.8 L1124.3,953.2 L1126.3,952.6 L1128.3,952.0 L1130.3,951.4 L1132.3,950.9 L1134.3,950.4 L1136.3,949.9 L1138.4,949.5 L1140.4,949.0 L1142.4,948.6 L1144.4,948.2 L1146.4,947.9 L1148.4,947.5 L1150.4,947.2 L1152.4,946.9 L1154.4,946.6 L1156.4,946.3 L1158.4,946.0 L1160.4,945.8 L1162.4,945.5 L1164.4,945.3 L1166.4,945.1 L1168.4,944.9 L1170.4,944.7 L1172.4,944.5 L1174.4,944.4 L1176.4,944.2 L1178.4,944.1 L1180.4,943.9 L1182.4,943.8 L1184.4,943.7 L1186.4,943.6 L1188.4,943.5 L1190.4,943.4 L1192.4,943.3 L1194.4,943.2 L1196.4,943.1 L1198.4,943.0 L1200.4,942.9 L1202.4,942.9 L1204.4,942.8 L1206.4,942.8 L1208.4,942.7 L1210.4,942.7 L1212.4,942.6 L1214.4,942.6 L1216.4,942.5 L1218.4,942.5 L1220.4,942.4 L1222.4,942.4 L1224.4,942.4 L1226.4,942.3 L1228.4,942.3 L1230.4,942.3 L1232.4,942.3 L1234.4,942.3 L1236.4,942.2 L1238.4,942.2 L1240.4,942.2 L1242.4,942.2 L1244.4,942.2 L1246.4,942.2 L1248.4,942.1 L1250.4,942.1 L1252.4,942.1 L1254.4,942.1 L1256.4,942.1 L1258.4,942.1 L1260.4,942.1 L1262.4,942.1 L1264.4,942.1 L1266.4,942.1 L1268.4,942.1 L1270.4,942.1 L1272.4,942.0 L1274.4,942.0 L1276.4,942.0 L1278.4,942.0 L1280.4,942.0 L1282.4,942.0 L1284.4,942.0 L1286.4,942.0 L1288.4,942.0 L1290.4,942.0 L1292.4,942.0 L1294.4,942.0 L1296.4,942.0 L1298.4,942.0 L1300.4,942.0 L1302.4,942.0 L1304.4,942.0 L1306.4,942.0 L1308.4,942.0 L1310.4,942.0 L1312.4,942.0 L1314.4,942.0 L1316.4,942.0 L1318.4,942.0 L1320.4,942.0 L1322.4,942.0 L1324.4,942.0 L1326.4,942.0 L1328.4,942.0 L1330.4,942.0 L1332.4,942.0 L1334.4,942.0 L1336.4,942.0 L1338.4,942.0 L1340.4,942.0 L1342.4,942.0 L1344.4,942.0 L1346.4,942.0 L1348.4,942.0 L1350.4,942.0 L1352.4,942.0 L1354.4,942.0 L1356.4,942.0 L1358.4,942.0 L1360.4,942.0 L1362.4,942.0 L1364.4,942.0 L1366.4,942.0 L1368.4,942.0 L1370.4,942.0 L1372.4,942.0 L1374.4,942.0 L1376.4,942.0 L1378.4,942.0 L1380.4,942.0 L1382.4,942.0 L1384.4,942.0 L1386.4,942.0 L1388.4,942.0 L1390.4,942.0 L1392.4,942.0 L1394.4,942.0 L1396.4,942.0 L1398.4,942.0 L1400.4,942.0 L1402.4,942.0 L1404.4,942.0 L1406.4,942.0 L1408.4,942.0 L1410.4,942.0 L1412.4,942.0 L1414.4,942.0 L1416.4,942.0 L1418.4,942.0 L1420.4,942.0 L1422.4,942.0 L1424.4,942.0 L1426.4,942.0 L1428.4,942.0 L1430.4,942.0 L1432.4,942.0 L1434.4,942.0 L1436.4,942.0 L1438.4,942.0 L1440.4,942.0 L1442.4,942.0 L1444.4,942.0 L1446.4,942.0 L1448.4,942.0 L1450.4,942.0 L1452.4,942.0 L1454.4,942.0 L1456.4,942.0 L1458.4,942.0 L1460.4,942.0" stroke="#000000" stroke-opacity="0.72" stroke-width="2.3" fill="none" stroke-linejoin="round"/>
<path d="M172.2,938.8 L174.2,938.8 L176.2,938.8 L178.2,938.8 L180.2,938.7 L182.2,938.7 L184.2,938.7 L186.2,938.7 L188.2,938.7 L190.2,938.7 L192.2,938.7 L194.2,938.7 L196.2,938.6 L198.2,938.6 L200.2,938.6 L202.2,938.6 L204.2,938.6 L206.2,938.6 L208.2,938.6 L210.2,938.6 L212.2,938.5 L214.2,938.5 L216.2,938.5 L218.2,938.5 L220.2,938.5 L222.2,938.5 L224.2,938.5 L226.2,938.4 L228.2,938.4 L230.2,938.4 L232.2,938.4 L234.2,938.4 L236.2,938.4 L238.2,938.4 L240.2,938.4 L242.2,938.3 L244.2,938.3 L246.2,938.3 L248.2,938.3 L250.2,938.3 L252.2,938.3 L254.2,938.3 L256.2,938.2 L258.2,938.2 L260.2,938.2 L262.2,938.2 L264.2,938.2 L266.2,938.2 L268.2,938.1 L270.2,938.1 L272.2,938.1 L274.2,938.1 L276.2,938.1 L278.2,938.1 L280.2,938.1 L282.2,938.0 L284.2,938.0 L286.2,938.0 L288.2,938.0 L290.2,938.0 L292.2,938.0 L294.2,937.9 L296.2,937.9 L298.2,937.9 L300.2,937.9 L302.2,937.9 L304.2,937.9 L306.2,937.8 L308.2,937.8 L310.2,937.8 L312.2,937.8 L314.2,937.8 L316.2,937.8 L318.2,937.7 L320.2,937.7 L322.2,937.7 L324.2,937.7 L326.2,937.7 L328.2,937.6 L330.2,937.6 L332.2,937.6 L334.2,937.6 L336.2,937.6 L338.2,937.6 L340.2,937.5 L342.2,937.5 L344.2,937.5 L346.2,937.5 L348.2,937.5 L350.2,937.4 L352.2,937.4 L354.2,937.4 L356.2,937.4 L358.2,937.4 L360.2,937.3 L362.2,937.3 L364.2,937.3 L366.2,937.3 L368.2,937.3 L370.2,937.2 L372.2,937.2 L374.2,937.2 L376.2,937.2 L378.2,937.2 L380.2,937.1 L382.2,937.1 L384.2,937.1 L386.2,937.1 L388.2,937.0 L390.2,937.0 L392.2,937.0 L394.2,937.0 L396.2,937.0 L398.2,936.9 L400.2,936.9 L402.2,936.9 L404.2,936.9 L406.2,936.8 L408.2,936.8 L410.2,936.8 L412.2,936.8 L414.2,936.7 L416.2,936.7 L418.2,936.7 L420.2,936.7 L422.2,936.6 L424.2,936.6 L426.2,936.6 L428.2,936.6 L430.2,936.5 L432.2,936.5 L434.2,936.5 L436.2,936.5 L438.2,936.4 L440.2,936.4 L442.2,936.4 L444.2,936.4 L446.2,936.3 L448.2,936.3 L450.2,936.3 L452.2,936.2 L454.2,936.2 L456.2,936.2 L458.2,936.2 L460.2,936.1 L462.2,936.1 L464.2,936.1 L466.2,936.0 L468.2,936.0 L470.2,936.0 L472.2,936.0 L474.2,935.9 L476.2,935.9 L478.2,935.9 L480.2,935.8 L482.2,935.8 L484.2,935.8 L486.2,935.7 L488.2,935.7 L490.2,935.7 L492.2,935.6 L494.2,935.6 L496.3,935.6 L498.3,935.6 L500.3,935.5 L502.3,935.5 L504.3,935.5 L506.3,935.4 L508.3,935.4 L510.3,935.3 L512.3,935.3 L514.3,935.3 L516.3,935.2 L518.3,935.2 L520.3,935.2 L522.3,935.1 L524.3,935.1 L526.3,935.1 L528.3,935.0 L530.3,935.0 L532.3,935.0 L534.3,934.9 L536.3,934.9 L538.3,934.8 L540.3,934.8 L542.3,934.8 L544.3,934.7 L546.3,934.7 L548.3,934.6 L550.3,934.6 L552.3,934.6 L554.3,934.5 L556.3,934.5 L558.3,934.4 L560.3,934.4 L562.3,934.4 L564.3,934.3 L566.3,934.3 L568.3,934.2 L570.3,934.2 L572.3,934.1 L574.3,934.1 L576.3,934.0 L578.3,934.0 L580.3,934.0 L582.3,933.9 L584.3,933.9 L586.3,933.8 L588.3,933.8 L590.3,933.7 L592.3,933.7 L594.3,933.6 L596.3,933.6 L598.3,933.5 L600.3,933.5 L602.3,933.4 L604.3,933.4 L606.3,933.3 L608.3,933.3 L610.3,933.2 L612.3,933.2 L614.3,933.1 L616.3,933.1 L618.3,933.0 L620.3,933.0 L622.3,932.9 L624.3,932.8 L626.3,932.8 L628.3,932.7 L630.3,932.7 L632.3,932.6 L634.3,932.6 L636.3,932.5 L638.3,932.4 L640.3,932.4 L642.3,932.3 L644.3,932.3 L646.3,932.2 L648.3,932.1 L650.3,932.1 L652.3,932.0 L654.3,931.9 L656.3,931.9 L658.3,931.8 L660.3,931.8 L662.3,931.7 L664.3,931.6 L666.3,931.6 L668.3,931.5 L670.3,931.4 L672.3,931.3 L674.3,931.3 L676.3,931.2 L678.3,931.1 L680.3,931.1 L682.3,931.0 L684.3,930.9 L686.3,930.8 L688.3,930.8 L690.3,930.7 L692.3,930.6 L694.3,930.5 L696.3,930.5 L698.3,930.4 L700.3,930.3 L702.3,930.2 L704.3,930.1 L706.3,930.1 L708.3,930.0 L710.3,929.9 L712.3,929.8 L714.3,929.7 L716.3,929.6 L718.3,929.5 L720.3,929.5 L722.3,929.4 L724.3,929.3 L726.3,929.2 L728.3,929.1 L730.3,929.0 L732.3,928.9 L734.3,928.8 L736.3,928.7 L738.3,928.6 L740.3,928.5 L742.3,928.4 L744.3,928.3 L746.3,928.2 L748.3,928.1 L750.3,928.0 L752.3,927.9 L754.3,927.8 L756.3,927.7 L758.3,927.6 L760.3,927.5 L762.3,927.4 L764.3,927.3 L766.3,927.1 L768.3,927.0 L770.3,926.9 L772.3,926.8 L774.3,926.7 L776.3,926.6 L778.3,926.4 L780.3,926.3 L782.3,926.2 L784.3,926.1 L786.3,925.9 L788.3,925.8 L790.3,925.7 L792.3,925.5 L794.3,925.4 L796.3,925.3 L798.3,925.1 L800.3,925.0 L802.3,924.9 L804.3,924.7 L806.3,924.6 L808.3,924.4 L810.3,924.3 L812.3,924.1 L814.3,924.0 L816.3,923.8 L818.3,923.7 L820.3,923.5 L822.3,923.3 L824.3,923.2 L826.3,923.0 L828.3,922.9 L830.3,922.7 L832.3,922.5 L834.3,922.3 L836.3,922.2 L838.3,922.0 L840.3,921.8 L842.3,921.6 L844.3,921.5 L846.3,921.3 L848.3,921.1 L850.3,920.9 L852.3,920.7 L854.3,920.5 L856.3,920.3 L858.3,920.1 L860.3,919.9 L862.3,919.7 L864.3,919.5 L866.3,919.3 L868.3,919.0 L870.3,918.8 L872.3,918.6 L874.3,918.4 L876.3,918.1 L878.3,917.9 L880.3,917.7 L882.3,917.4 L884.3,917.2 L886.3,916.9 L888.3,916.7 L890.3,916.4 L892.3,916.2 L894.3,915.9 L896.3,915.7 L898.3,915.4 L900.3,915.1 L902.3,914.8 L904.3,914.6 L906.3,914.3 L908.3,914.0 L910.3,913.7 L912.3,913.4 L914.3,913.1 L916.3,912.8 L918.3,912.5 L920.3,912.1 L922.3,911.8 L924.3,911.5 L926.3,911.2 L928.3,910.8 L930.3,910.5 L932.3,910.1 L934.3,909.8 L936.3,909.4 L938.3,909.0 L940.3,908.7 L942.3,908.3 L944.3,907.9 L946.3,907.5 L948.3,907.1 L950.3,906.7 L952.3,906.3 L954.3,905.9 L956.3,905.4 L958.3,905.0 L960.3,904.5 L962.3,904.1 L964.3,903.6 L966.3,903.2 L968.3,902.7 L970.3,902.2 L972.3,901.7 L974.3,901.2 L976.3,900.7 L978.3,900.2 L980.3,899.6 L982.3,899.1 L984.3,898.5 L986.3,898.0 L988.3,897.4 L990.3,896.8 L992.3,896.2 L994.3,895.6 L996.3,895.0 L998.3,894.4 L1000.3,893.7 L1002.3,893.1 L1004.3,892.4 L1006.3,891.7 L1008.3,891.0 L1010.3,890.3 L1012.3,889.6 L1014.3,888.9 L1016.3,888.1 L1018.3,887.3 L1020.3,886.6 L1022.3,885.8 L1024.3,884.9 L1026.3,884.1 L1028.3,883.3 L1030.3,882.4 L1032.3,881.5 L1034.3,880.6 L1036.3,879.6 L1038.3,878.7 L1040.3,877.7 L1042.3,876.7 L1044.3,875.7 L1046.3,874.7 L1048.3,873.6 L1050.3,872.5 L1052.3,871.4 L1054.3,870.3 L1056.3,869.1 L1058.3,867.9 L1060.3,866.7 L1062.3,865.5 L1064.3,864.2 L1066.3,862.9 L1068.3,861.6 L1070.3,860.2 L1072.3,858.8 L1074.3,857.4 L1076.3,855.9 L1078.3,854.4 L1080.3,852.8 L1082.3,851.3 L1084.3,849.6 L1086.3,848.0 L1088.3,846.3 L1090.3,844.5 L1092.3,842.7 L1094.3,840.9 L1096.3,839.0 L1098.3,837.1 L1100.3,835.1 L1102.3,833.0 L1104.3,830.9 L1106.3,828.8 L1108.3,826.6 L1110.3,824.3 L1112.3,822.0 L1114.3,819.6 L1116.3,817.1 L1118.3,814.6 L1120.3,812.0 L1122.3,809.3 L1124.3,806.6 L1126.3,803.8 L1128.3,800.9 L1130.3,797.9 L1132.3,794.8 L1134.3,791.7 L1136.3,788.4 L1138.4,785.1 L1140.4,781.7 L1142.4,778.1 L1144.4,774.5 L1146.4,770.8 L1148.4,766.9 L1150.4,763.0 L1152.4,758.9 L1154.4,754.7 L1156.4,750.4 L1158.4,746.0 L1160.4,741.4 L1162.4,736.8 L1164.4,731.9 L1166.4,727.0 L1168.4,721.9 L1170.4,716.6 L1172.4,711.3 L1174.4,705.7 L1176.4,700.0 L1178.4,694.2 L1180.4,688.2 L1182.4,682.0 L1184.4,675.7 L1186.4,669.2 L1188.4,662.6 L1190.4,655.7 L1192.4,648.8 L1194.4,641.6 L1196.4,634.3 L1198.4,626.8 L1200.4,619.2 L1202.4,611.4 L1204.4,603.5 L1206.4,595.4 L1208.4,587.2 L1210.4,578.9 L1212.4,570.4 L1214.4,561.8 L1216.4,553.2 L1218.4,544.4 L1220.4,535.6 L1222.4,526.7 L1224.4,517.9 L1226.4,509.0 L1228.4,500.1 L1230.4,491.3 L1232.4,482.5 L1234.4,473.9 L1236.4,465.3 L1238.4,457.0 L1240.4,449.4 L1242.4,442.1 L1244.4,434.9 L1246.4,427.7 L1248.4,420.5 L1250.4,413.3 L1252.4,406.3 L1254.4,402.0 L1256.4,397.7 L1258.4,393.3 L1260.4,389.0 L1262.4,384.7 L1264.4,380.4 L1266.4,378.4 L1268.4,378.1 L1270.4,377.8 L1272.4,377.4 L1274.4,377.1 L1276.4,376.8 L1278.4,376.8 L1280.4,380.5 L1282.4,384.3 L1284.4,388.1 L1286.4,391.8 L1288.4,395.6 L1290.4,399.4 L1292.4,404.9 L1294.4,411.8 L1296.4,418.6 L1298.4,425.5 L1300.4,432.4 L1302.4,439.3 L1304.4,446.2 L1306.4,454.8 L1308.4,463.3 L1310.4,471.8 L1312.4,480.3 L1314.4,488.8 L1316.4,497.3 L1318.4,506.0 L1320.4,514.9 L1322.4,523.8 L1324.4,532.7 L1326.4,541.5 L1328.4,550.3 L1330.4,559.0 L1332.4,567.6 L1334.4,576.1 L1336.4,584.5 L1338.4,592.7 L1340.4,600.8 L1342.4,608.8 L1344.4,616.7 L1346.4,624.3 L1348.4,631.9 L1350.4,639.2 L1352.4,646.4 L1354.4,653.5 L1356.4,660.3 L1358.4,667.0 L1360.4,673.6 L1362.4,680.0 L1364.4,686.2 L1366.4,692.2 L1368.4,698.1 L1370.4,703.9 L1372.4,709.5 L1374.4,714.9 L1376.4,720.2 L1378.4,725.3 L1380.4,730.3 L1382.4,735.2 L1384.4,739.9 L1386.4,744.5 L1388.4,749.0 L1390.4,753.3 L1392.4,757.6 L1394.4,761.7 L1396.4,765.6 L1398.4,769.5 L1400.4,773.3 L1402.4,777.0 L1404.4,780.5 L1406.4,784.0 L1408.4,787.3 L1410.4,790.6 L1412.4,793.8 L1414.4,796.9 L1416.4,799.9 L1418.4,802.8 L1420.4,805.7 L1422.4,808.4 L1424.4,811.1 L1426.4,813.8 L1428.4,816.3 L1430.4,818.8 L1432.4,821.2 L1434.4,823.5 L1436.4,825.8 L1438.4,828.1 L1440.4,830.2 L1442.4,832.4 L1444.4,834.4 L1446.4,836.4 L1448.4,838.4 L1450.4,840.3 L1452.4,842.1 L1454.4,843.9 L1456.4,845.7 L1458.4,847.4 L1460.4,849.1" stroke="#000000" stroke-opacity="0.72" stroke-width="2.3" fill="none" stroke-linejoin="round"/>
<path d="M172.2,958.8 L174.2,958.9 L176.2,959.0 L178.2,959.0 L180.2,959.1 L182.2,959.1 L184.2,959.2 L186.2,959.2 L188.2,959.3 L190.2,959.3 L192.2,959.4 L194.2,959.5 L196.2,959.5 L198.2,959.6 L200.2,959.6 L202.2,959.7 L204.2,959.7 L206.2,959.8 L208.2,959.9 L210.2,959.9 L212.2,960.0 L214.2,960.0 L216.2,960.1 L218.2,960.2 L220.2,960.2 L222.2,960.3 L224.2,960.3 L226.2,960.4 L228.2,960.5 L230.2,960.5 L232.2,960.6 L234.2,960.7 L236.2,960.7 L238.2,960.8 L240.2,960.9 L242.2,960.9 L244.2,961.0 L246.2,961.0 L248.2,961.1 L250.2,961.2 L252.2,961.2 L254.2,961.3 L256.2,961.4 L258.2,961.4 L260.2,961.5 L262.2,961.6 L264.2,961.6 L266.2,961.7 L268.2,961.8 L270.2,961.8 L272.2,961.9 L274.2,962.0 L276.2,962.1 L278.2,962.1 L280.2,962.2 L282.2,962.3 L284.2,962.3 L286.2,962.4 L288.2,962.5 L290.2,962.6 L292.2,962.6 L294.2,962.7 L296.2,962.8 L298.2,962.9 L300.2,962.9 L302.2,963.0 L304.2,963.1 L306.2,963.2 L308.2,963.2 L310.2,963.3 L312.2,963.4 L314.2,963.5 L316.2,963.5 L318.2,963.6 L320.2,963.7 L322.2,963.8 L324.2,963.9 L326.2,963.9 L328.2,964.0 L330.2,964.1 L332.2,964.2 L334.2,964.3 L336.2,964.3 L338.2,964.4 L340.2,964.5 L342.2,964.6 L344.2,964.7 L346.2,964.8 L348.2,964.8 L350.2,964.9 L352.2,965.0 L354.2,965.1 L356.2,965.2 L358.2,965.3 L360.2,965.4 L362.2,965.5 L364.2,965.5 L366.2,965.6 L368.2,965.7 L370.2,965.8 L372.2,965.9 L374.2,966.0 L376.2,966.1 L378.2,966.2 L380.2,966.3 L382.2,966.4 L384.2,966.5 L386.2,966.6 L388.2,966.6 L390.2,966.7 L392.2,966.8 L394.2,966.9 L396.2,967.0 L398.2,967.1 L400.2,967.2 L402.2,967.3 L404.2,967.4 L406.2,967.5 L408.2,967.6 L410.2,967.7 L412.2,967.8 L414.2,967.9 L416.2,968.0 L418.2,968.1 L420.2,968.2 L422.2,968.3 L424.2,968.5 L426.2,968.6 L428.2,968.7 L430.2,968.8 L432.2,968.9 L434.2,969.0 L436.2,969.1 L438.2,969.2 L440.2,969.3 L442.2,969.4 L444.2,969.5 L446.2,969.7 L448.2,969.8 L450.2,969.9 L452.2,970.0 L454.2,970.1 L456.2,970.2 L458.2,970.4 L460.2,970.5 L462.2,970.6 L464.2,970.7 L466.2,970.8 L468.2,970.9 L470.2,971.1 L472.2,971.2 L474.2,971.3 L476.2,971.4 L478.2,971.6 L480.2,971.7 L482.2,971.8 L484.2,971.9 L486.2,972.1 L488.2,972.2 L490.2,972.3 L492.2,972.5 L494.2,972.6 L496.3,972.7 L498.3,972.8 L500.3,973.0 L502.3,973.1 L504.3,973.3 L506.3,973.4 L508.3,973.5 L510.3,973.7 L512.3,973.8 L514.3,973.9 L516.3,974.1 L518.3,974.2 L520.3,974.4 L522.3,974.5 L524.3,974.7 L526.3,974.8 L528.3,974.9 L530.3,975.1 L532.3,975.2 L534.3,975.4 L536.3,975.5 L538.3,975.7 L540.3,975.8 L542.3,976.0 L544.3,976.1 L546.3,976.3 L548.3,976.5 L550.3,976.6 L552.3,976.8 L554.3,976.9 L556.3,977.1 L558.3,977.3 L560.3,977.4 L562.3,977.6 L564.3,977.7 L566.3,977.9 L568.3,978.1 L570.3,978.2 L572.3,978.4 L574.3,978.6 L576.3,978.8 L578.3,978.9 L580.3,979.1 L582.3,979.3 L584.3,979.5 L586.3,979.6 L588.3,979.8 L590.3,980.0 L592.3,980.2 L594.3,980.4 L596.3,980.5 L598.3,980.7 L600.3,980.9 L602.3,981.1 L604.3,981.3 L606.3,981.5 L608.3,981.7 L610.3,981.9 L612.3,982.1 L614.3,982.3 L616.3,982.5 L618.3,982.7 L620.3,982.9 L622.3,983.1 L624.3,983.3 L626.3,983.5 L628.3,983.7 L630.3,983.9 L632.3,984.1 L634.3,984.3 L636.3,984.5 L638.3,984.7 L640.3,984.9 L642.3,985.2 L644.3,985.4 L646.3,985.6 L648.3,985.8 L650.3,986.1 L652.3,986.3 L654.3,986.5 L656.3,986.7 L658.3,987.0 L660.3,987.2 L662.3,987.4 L664.3,987.7 L666.3,987.9 L668.3,988.1 L670.3,988.4 L672.3,988.6 L674.3,988.9 L676.3,989.1 L678.3,989.4 L680.3,989.6 L682.3,989.9 L684.3,990.1 L686.3,990.4 L688.3,990.6 L690.3,990.9 L692.3,991.2 L694.3,991.4 L696.3,991.7 L698.3,992.0 L700.3,992.2 L702.3,992.5 L704.3,992.8 L706.3,993.1 L708.3,993.4 L710.3,993.6 L712.3,993.9 L714.3,994.2 L716.3,994.5 L718.3,994.8 L720.3,995.1 L722.3,995.4 L724.3,995.7 L726.3,996.0 L728.3,996.3 L730.3,996.6 L732.3,996.9 L734.3,997.2 L736.3,997.5 L738.3,997.9 L740.3,998.2 L742.3,998.5 L744.3,998.8 L746.3,999.1 L748.3,999.5 L750.3,999.8 L752.3,1000.1 L754.3,1000.5 L756.3,1000.8 L758.3,1001.2 L760.3,1001.5 L762.3,1001.9 L764.3,1002.2 L766.3,1002.6 L768.3,1002.9 L770.3,1003.3 L772.3,1003.7 L774.3,1004.0 L776.3,1004.4 L778.3,1004.8 L780.3,1005.2 L782.3,1005.6 L784.3,1005.9 L786.3,1006.3 L788.3,1006.7 L790.3,1007.1 L792.3,1007.5 L794.3,1007.9 L796.3,1008.3 L798.3,1008.7 L800.3,1009.2 L802.3,1009.6 L804.3,1010.0 L806.3,1010.4 L808.3,1010.9 L810.3,1011.3 L812.3,1011.7 L814.3,1012.2 L816.3,1012.6 L818.3,1013.1 L820.3,1013.5 L822.3,1014.0 L824.3,1014.4 L826.3,1014.9 L828.3,1015.4 L830.3,1015.9 L832.3,1016.3 L834.3,1016.8 L836.3,1017.3 L838.3,1017.8 L840.3,1018.3 L842.3,1018.8 L844.3,1019.3 L846.3,1019.8 L848.3,1020.4 L850.3,1020.9 L852.3,1021.4 L854.3,1021.9 L856.3,1022.5 L858.3,1023.0 L860.3,1023.6 L862.3,1024.1 L864.3,1024.7 L866.3,1025.3 L868.3,1025.8 L870.3,1026.4 L872.3,1027.0 L874.3,1027.6 L876.3,1028.2 L878.3,1028.8 L880.3,1029.4 L882.3,1030.0 L884.3,1030.6 L886.3,1031.2 L888.3,1031.9 L890.3,1032.5 L892.3,1033.2 L894.3,1033.8 L896.3,1034.5 L898.3,1035.1 L900.3,1035.8 L902.3,1036.5 L904.3,1037.2 L906.3,1037.9 L908.3,1038.6 L910.3,1039.3 L912.3,1040.0 L914.3,1040.7 L916.3,1041.4 L918.3,1042.2 L920.3,1042.9 L922.3,1043.7 L924.3,1044.4 L926.3,1045.2 L928.3,1046.0 L930.3,1046.8 L932.3,1047.6 L934.3,1048.4 L936.3,1049.2 L938.3,1050.0 L940.3,1050.8 L942.3,1051.7 L944.3,1052.5 L946.3,1053.4 L948.3,1054.2 L950.3,1055.1 L952.3,1056.0 L954.3,1056.9 L956.3,1057.8 L958.3,1058.7 L960.3,1059.6 L962.3,1060.6 L964.3,1061.5 L966.3,1062.5 L968.3,1063.5 L970.3,1064.4 L972.3,1065.4 L974.3,1066.4 L976.3,1067.4 L978.3,1068.5 L980.3,1069.5 L982.3,1070.6 L984.3,1071.6 L986.3,1072.7 L988.3,1073.8 L990.3,1074.9 L992.3,1076.0 L994.3,1077.1 L996.3,1078.3 L998.3,1079.4 L1000.3,1080.6 L1002.3,1081.8 L1004.3,1082.9 L1006.3,1084.2 L1008.3,1085.4 L1010.3,1086.6 L1012.3,1087.9 L1014.3,1089.1 L1016.3,1090.4 L1018.3,1091.7 L1020.3,1093.0 L1022.3,1094.4 L1024.3,1095.7 L1026.3,1097.1 L1028.3,1098.4 L1030.3,1099.8 L1032.3,1101.2 L1034.3,1102.7 L1036.3,1104.1 L1038.3,1105.6 L1040.3,1107.1 L1042.3,1108.6 L1044.3,1110.1 L1046.3,1111.6 L1048.3,1113.2 L1050.3,1114.8 L1052.3,1116.4 L1054.3,1118.0 L1056.3,1119.6 L1058.3,1121.3 L1060.3,1123.0 L1062.3,1124.7 L1064.3,1126.4 L1066.3,1128.1 L1068.3,1129.9 L1070.3,1131.7 L1072.3,1133.5 L1074.3,1135.4 L1076.3,1137.2 L1078.3,1139.1 L1080.3,1141.0 L1082.3,1142.9 L1084.3,1144.9 L1086.3,1146.9 L1088.3,1148.9 L1090.3,1150.9 L1092.3,1153.0 L1094.3,1155.1 L1096.3,1157.2 L1098.3,1159.4 L1100.3,1161.5 L1102.3,1163.7 L1104.3,1166.0 L1106.3,1168.2 L1108.3,1170.5 L1110.3,1172.8 L1112.3,1175.2 L1114.3,1177.6 L1116.3,1180.0 L1118.3,1182.4 L1120.3,1184.9 L1122.3,1187.4 L1124.3,1189.9 L1126.3,1192.5 L1128.3,1195.1 L1130.3,1197.8 L1132.3,1200.5 L1134.3,1203.2 L1136.3,1205.9 L1138.4,1208.7 L1140.4,1211.5 L1142.4,1214.4 L1144.4,1217.3 L1146.4,1220.2 L1148.4,1223.2 L1150.4,1226.2 L1152.4,1229.3 L1154.4,1232.4 L1156.4,1235.5 L1158.4,1238.7 L1160.4,1241.9 L1162.4,1245.1 L1164.4,1248.4 L1166.4,1251.8 L1168.4,1255.2 L1170.4,1258.6 L1172.4,1262.1 L1174.4,1265.6 L1176.4,1269.1 L1178.4,1272.7 L1180.4,1276.4 L1182.4,1280.1 L1184.4,1283.8 L1186.4,1287.6 L1188.4,1291.5 L1190.4,1295.3 L1192.4,1299.3 L1194.4,1303.2 L1196.4,1307.3 L1198.4,1311.3 L1200.4,1315.5 L1202.4,1319.6 L1204.4,1323.8 L1206.4,1328.1 L1208.4,1332.4 L1210.4,1336.8 L1212.4,1341.2 L1214.4,1345.7 L1216.4,1350.2 L1218.4,1354.7 L1220.4,1359.3 L1222.4,1364.0 L1224.4,1368.7 L1226.4,1373.4 L1228.4,1378.2 L1230.4,1383.1 L1232.4,1388.0 L1234.4,1392.9 L1236.4,1397.9 L1238.4,1402.9 L1240.4,1408.0 L1242.4,1413.1 L1244.4,1418.2 L1246.4,1423.4 L1248.4,1428.7 L1250.4,1434.0 L1252.4,1439.3 L1254.4,1444.6 L1256.4,1450.0 L1258.4,1455.4 L1260.4,1460.9 L1262.4,1466.4 L1264.4,1471.9 L1266.4,1477.4 L1268.4,1483.0 L1270.4,1488.6 L1272.4,1494.2 L1274.4,1499.8 L1276.4,1505.5 L1278.4,1511.1 L1280.4,1516.8 L1282.4,1522.5 L1284.4,1528.2 L1286.4,1533.8 L1288.4,1539.5 L1290.4,1545.2 L1292.4,1550.9 L1294.4,1556.6 L1296.4,1562.2 L1298.4,1567.8 L1300.4,1573.5 L1302.4,1579.0 L1304.4,1584.6 L1306.4,1590.1 L1308.4,1595.6 L1310.4,1601.0 L1312.4,1606.4 L1314.4,1611.8 L1316.4,1617.1 L1318.4,1622.3 L1320.4,1627.5 L1322.4,1632.5 L1324.4,1637.6 L1326.4,1642.5 L1328.4,1647.3 L1330.4,1652.1 L1332.4,1656.8 L1334.4,1661.3 L1336.4,1665.8 L1338.4,1670.1 L1340.4,1674.4 L1342.4,1678.5 L1344.4,1682.4 L1346.4,1686.3 L1348.4,1690.0 L1350.4,1693.6 L1352.4,1697.0 L1354.4,1700.3 L1356.4,1703.4 L1358.4,1706.4 L1360.4,1709.2 L1362.4,1711.9 L1364.4,1714.4 L1366.4,1716.7 L1368.4,1718.8 L1370.4,1720.8 L1372.4,1722.5 L1374.4,1724.1 L1376.4,1725.5 L1378.4,1726.7 L1380.4,1727.8 L1382.4,1728.6 L1384.4,1729.2 L1386.4,1729.7 L1388.4,1729.9 L1390.4,1730.0 L1392.4,1729.9 L1394.4,1729.5 L1396.4,1729.0 L1398.4,1728.3 L1400.4,1727.4 L1402.4,1726.3 L1404.4,1725.0 L1406.4,1723.5 L1408.4,1721.9 L1410.4,1720.0 L1412.4,1718.0 L1414.4,1715.8 L1416.4,1713.4 L1418.4,1710.9 L1420.4,1708.2 L1422.4,1705.3 L1424.4,1702.2 L1426.4,1699.1 L1428.4,1695.7 L1430.4,1692.2 L1432.4,1688.6 L1434.4,1684.8 L1436.4,1680.9 L1438.4,1676.9 L1440.4,1672.7 L1442.4,1668.4 L1444.4,1664.1 L1446.4,1659.6 L1448.4,1655.0 L1450.4,1650.3 L1452.4,1645.5 L1454.4,1640.6 L1456.4,1635.6 L1458.4,1630.6 L1460.4,1625.5" stroke="#000000" stroke-opacity="0.72" stroke-width="2.3" fill="none" stroke-linejoin="round"/>
<line x1="172.2" x2="1460.4" y1="115.3" y2="115.3" stroke="#7a0000" stroke-width="5.2"/>
<line x1="172.2" x2="1460.4" y1="941.9" y2="941.9" stroke="#860000" stroke-width="3.4"/>
<path d="M172.2,125.8 L174.2,125.8 L176.2,125.8 L178.2,125.9 L180.2,125.9 L182.2,125.9 L184.2,125.9 L186.2,125.9 L188.2,125.9 L190.2,125.9 L192.2,125.9 L194.2,126.0 L196.2,126.0 L198.2,126.0 L200.2,126.0 L202.2,126.0 L204.2,126.0 L206.2,126.0 L208.2,126.0 L210.2,126.1 L212.2,126.1 L214.2,126.1 L216.2,126.1 L218.2,126.1 L220.2,126.1 L222.2,126.1 L224.2,126.1 L226.2,126.1 L228.2,126.2 L230.2,126.2 L232.2,126.2 L234.2,126.2 L236.2,126.2 L238.2,126.2 L240.2,126.2 L242.2,126.2 L244.2,126.3 L246.2,126.3 L248.2,126.3 L250.2,126.3 L252.2,126.3 L254.2,126.3 L256.2,126.3 L258.2,126.3 L260.2,126.4 L262.2,126.4 L264.2,126.4 L266.2,126.4 L268.2,126.4 L270.2,126.4 L272.2,126.4 L274.2,126.5 L276.2,126.5 L278.2,126.5 L280.2,126.5 L282.2,126.5 L284.2,126.5 L286.2,126.5 L288.2,126.6 L290.2,126.6 L292.2,126.6 L294.2,126.6 L296.2,126.6 L298.2,126.6 L300.2,126.6 L302.2,126.7 L304.2,126.7 L306.2,126.7 L308.2,126.7 L310.2,126.7 L312.2,126.7 L314.2,126.8 L316.2,126.8 L318.2,126.8 L320.2,126.8 L322.2,126.8 L324.2,126.8 L326.2,126.9 L328.2,126.9 L330.2,126.9 L332.2,126.9 L334.2,126.9 L336.2,127.0 L338.2,127.0 L340.2,127.0 L342.2,127.0 L344.2,127.0 L346.2,127.1 L348.2,127.1 L350.2,127.1 L352.2,127.1 L354.2,127.2 L356.2,127.2 L358.2,127.2 L360.2,127.2 L362.2,127.2 L364.2,127.3 L366.2,127.3 L368.2,127.3 L370.2,127.3 L372.2,127.4 L374.2,127.4 L376.2,127.4 L378.2,127.4 L380.2,127.5 L382.2,127.5 L384.2,127.5 L386.2,127.6 L388.2,127.6 L390.2,127.6 L392.2,127.6 L394.2,127.7 L396.2,127.7 L398.2,127.7 L400.2,127.8 L402.2,127.8 L404.2,127.8 L406.2,127.9 L408.2,127.9 L410.2,127.9 L412.2,128.0 L414.2,128.0 L416.2,128.1 L418.2,128.1 L420.2,128.1 L422.2,128.2 L424.2,128.2 L426.2,128.2 L428.2,128.3 L430.2,128.3 L432.2,128.4 L434.2,128.4 L436.2,128.5 L438.2,128.5 L440.2,128.5 L442.2,128.6 L444.2,128.6 L446.2,128.7 L448.2,128.7 L450.2,128.8 L452.2,128.8 L454.2,128.9 L456.2,128.9 L458.2,129.0 L460.2,129.0 L462.2,129.1 L464.2,129.1 L466.2,129.2 L468.2,129.3 L470.2,129.3 L472.2,129.4 L474.2,129.4 L476.2,129.5 L478.2,129.5 L480.2,129.6 L482.2,129.7 L484.2,129.7 L486.2,129.8 L488.2,129.9 L490.2,129.9 L492.2,130.0 L494.2,130.1 L496.3,130.2 L498.3,130.2 L500.3,130.3 L502.3,130.4 L504.3,130.5 L506.3,130.5 L508.3,130.6 L510.3,130.7 L512.3,130.8 L514.3,130.9 L516.3,131.0 L518.3,131.1 L520.3,131.1 L522.3,131.2 L524.3,131.3 L526.3,131.4 L528.3,131.5 L530.3,131.6 L532.3,131.7 L534.3,131.9 L536.3,132.0 L538.3,132.1 L540.3,132.2 L542.3,132.3 L544.3,132.4 L546.3,132.6 L548.3,132.7 L550.3,132.8 L552.3,133.0 L554.3,133.1 L556.3,133.2 L558.3,133.4 L560.3,133.5 L562.3,133.7 L564.3,133.9 L566.3,134.0 L568.3,134.2 L570.3,134.4 L572.3,134.6 L574.3,134.7 L576.3,134.9 L578.3,135.1 L580.3,135.4 L582.3,135.6 L584.3,135.8 L586.3,136.0 L588.3,136.2 L590.3,136.5 L592.3,136.7 L594.3,137.0 L596.3,137.3 L598.3,137.5 L600.3,137.8 L602.3,138.1 L604.3,138.4 L606.3,138.8 L608.3,139.1 L610.3,139.4 L612.3,139.8 L614.3,140.2 L616.3,140.5 L618.3,140.9 L620.3,141.3 L622.3,141.7 L624.3,142.2 L626.3,142.6 L628.3,143.1 L630.3,143.6 L632.3,144.1 L634.3,144.6 L636.3,145.1 L638.3,145.7 L640.3,146.2 L642.3,146.8 L644.3,147.4 L646.3,148.1 L648.3,148.7 L650.3,149.4 L652.3,150.1 L654.3,150.8 L656.3,151.6 L658.3,152.3 L660.3,153.1 L662.3,153.9 L664.3,154.8 L666.3,155.6 L668.3,156.5 L670.3,157.4 L672.3,158.4 L674.3,159.4 L676.3,160.4 L678.3,161.4 L680.3,162.5 L682.3,163.6 L684.3,164.7 L686.3,165.8 L688.3,167.0 L690.3,168.2 L692.3,169.5 L694.3,170.8 L696.3,172.1 L698.3,173.5 L700.3,174.8 L702.3,176.3 L704.3,177.7 L706.3,179.2 L708.3,180.7 L710.3,182.3 L712.3,183.9 L714.3,185.5 L716.3,187.1 L718.3,188.8 L720.3,190.5 L722.3,192.3 L724.3,194.1 L726.3,195.9 L728.3,197.8 L730.3,199.7 L732.3,201.6 L734.3,203.6 L736.3,205.5 L738.3,207.6 L740.3,209.6 L742.3,211.7 L744.3,213.8 L746.3,215.9 L748.3,218.1 L750.3,220.3 L752.3,222.5 L754.3,224.7 L756.3,227.0 L758.3,229.3 L760.3,231.6 L762.3,233.9 L764.3,236.2 L766.3,238.6 L768.3,240.9 L770.3,243.3 L772.3,245.7 L774.3,248.1 L776.3,250.5 L778.3,253.0 L780.3,255.4 L782.3,257.8 L784.3,260.3 L786.3,262.7 L788.3,265.1 L790.3,267.6 L792.3,270.0 L794.3,272.4 L796.3,274.8 L798.3,277.2 L800.3,279.6 L802.3,282.0 L804.3,284.3 L806.3,286.7 L808.3,289.0 L810.3,291.3 L812.3,293.6 L814.3,295.8 L816.3,298.0 L818.3,300.2 L820.3,302.3 L822.3,304.5 L824.3,306.5 L826.3,308.6 L828.3,310.6 L830.3,312.5 L832.3,314.5 L834.3,316.3 L836.3,318.2 L838.3,319.9 L840.3,321.7 L842.3,323.3 L844.3,325.0 L846.3,326.5 L848.3,328.1 L850.3,329.5 L852.3,330.9 L854.3,332.3 L856.3,333.6 L858.3,334.8 L860.3,336.0 L862.3,337.1 L864.3,338.1 L866.3,339.1 L868.3,340.0 L870.3,340.9 L872.3,341.7 L874.3,342.4 L876.3,343.1 L878.3,343.7 L880.3,344.3 L882.3,344.8 L884.3,345.2 L886.3,345.5 L888.3,345.8 L890.3,346.0 L892.3,346.2 L894.3,346.3 L896.3,346.3 L898.3,346.3 L900.3,346.2 L902.3,346.0 L904.3,345.8 L906.3,345.5 L908.3,345.1 L910.3,344.7 L912.3,344.2 L914.3,343.7 L916.3,343.0 L918.3,342.4 L920.3,341.7 L922.3,340.9 L924.3,340.0 L926.3,339.1 L928.3,338.2 L930.3,337.2 L932.3,336.2 L934.3,335.1 L936.3,333.9 L938.3,332.7 L940.3,331.5 L942.3,330.3 L944.3,329.0 L946.3,327.6 L948.3,326.3 L950.3,324.9 L952.3,323.5 L954.3,322.1 L956.3,320.6 L958.3,319.2 L960.3,317.7 L962.3,316.2 L964.3,314.7 L966.3,313.2 L968.3,311.7 L970.3,310.2 L972.3,308.8 L974.3,307.3 L976.3,305.8 L978.3,304.4 L980.3,302.9 L982.3,301.5 L984.3,300.1 L986.3,298.7 L988.3,297.3 L990.3,296.0 L992.3,294.7 L994.3,293.4 L996.3,292.1 L998.3,290.9 L1000.3,289.7 L1002.3,288.6 L1004.3,287.4 L1006.3,286.3 L1008.3,285.3 L1010.3,284.3 L1012.3,283.3 L1014.3,282.4 L1016.3,281.4 L1018.3,280.6 L1020.3,279.8 L1022.3,279.0 L1024.3,278.2 L1026.3,277.5 L1028.3,276.9 L1030.3,276.3 L1032.3,275.7 L1034.3,275.2 L1036.3,274.7 L1038.3,274.3 L1040.3,273.9 L1042.3,273.5 L1044.3,273.2 L1046.3,272.9 L1048.3,272.7 L1050.3,272.5 L1052.3,272.4 L1054.3,272.3 L1056.3,272.3 L1058.3,272.3 L1060.3,272.3 L1062.3,272.4 L1064.3,272.5 L1066.3,272.7 L1068.3,272.9 L1070.3,273.1 L1072.3,273.4 L1074.3,273.8 L1076.3,274.2 L1078.3,274.6 L1080.3,275.0 L1082.3,275.6 L1084.3,276.1 L1086.3,276.7 L1088.3,277.3 L1090.3,278.0 L1092.3,278.7 L1094.3,279.4 L1096.3,280.2 L1098.3,281.0 L1100.3,281.9 L1102.3,282.8 L1104.3,283.8 L1106.3,284.7 L1108.3,285.8 L1110.3,286.8 L1112.3,287.9 L1114.3,289.1 L1116.3,290.2 L1118.3,291.4 L1120.3,292.7 L1122.3,294.0 L1124.3,295.3 L1126.3,296.7 L1128.3,298.1 L1130.3,299.5 L1132.3,301.0 L1134.3,302.5 L1136.3,304.1 L1138.4,305.7 L1140.4,307.3 L1142.4,308.9 L1144.4,310.6 L1146.4,312.4 L1148.4,314.1 L1150.4,315.9 L1152.4,317.8 L1154.4,319.7 L1156.4,321.6 L1158.4,323.5 L1160.4,325.5 L1162.4,327.5 L1164.4,329.6 L1166.4,331.7 L1168.4,333.8 L1170.4,335.9 L1172.4,338.1 L1174.4,340.3 L1176.4,342.6 L1178.4,344.9 L1180.4,347.2 L1182.4,349.6 L1184.4,352.0 L1186.4,354.4 L1188.4,356.8 L1190.4,359.3 L1192.4,361.8 L1194.4,364.4 L1196.4,367.0 L1198.4,369.6 L1200.4,372.2 L1202.4,374.9 L1204.4,377.6 L1206.4,380.3 L1208.4,383.1 L1210.4,385.9 L1212.4,388.7 L1214.4,391.6 L1216.4,394.4 L1218.4,397.4 L1220.4,400.3 L1222.4,403.3 L1224.4,406.3 L1226.4,409.3 L1228.4,412.3 L1230.4,415.4 L1232.4,418.5 L1234.4,421.7 L1236.4,424.8 L1238.4,428.0 L1240.4,431.2 L1242.4,434.5 L1244.4,437.8 L1246.4,441.1 L1248.4,444.4 L1250.4,447.8 L1252.4,451.2 L1254.4,454.7 L1256.4,458.1 L1258.4,461.6 L1260.4,465.2 L1262.4,468.8 L1264.4,472.4 L1266.4,476.0 L1268.4,479.7 L1270.4,483.4 L1272.4,487.2 L1274.4,491.0 L1276.4,494.9 L1278.4,498.8 L1280.4,502.7 L1282.4,506.7 L1284.4,510.7 L1286.4,514.8 L1288.4,518.9 L1290.4,523.1 L1292.4,527.3 L1294.4,531.5 L1296.4,535.8 L1298.4,540.1 L1300.4,544.5 L1302.4,548.9 L1304.4,553.3 L1306.4,557.7 L1308.4,562.2 L1310.4,566.7 L1312.4,571.2 L1314.4,575.7 L1316.4,580.2 L1318.4,584.7 L1320.4,589.2 L1322.4,593.7 L1324.4,598.2 L1326.4,602.6 L1328.4,607.0 L1330.4,611.3 L1332.4,615.6 L1334.4,619.9 L1336.4,624.1 L1338.4,628.2 L1340.4,632.2 L1342.4,636.1 L1344.4,640.0 L1346.4,643.8 L1348.4,647.4 L1350.4,651.0 L1352.4,654.4 L1354.4,657.7 L1356.4,660.9 L1358.4,663.9 L1360.4,666.9 L1362.4,669.6 L1364.4,672.3 L1366.4,674.8 L1368.4,677.1 L1370.4,679.3 L1372.4,681.3 L1374.4,683.2 L1376.4,684.9 L1378.4,686.4 L1380.4,687.8 L1382.4,689.0 L1384.4,690.1 L1386.4,690.9 L1388.4,691.6 L1390.4,692.2 L1392.4,692.5 L1394.4,692.7 L1396.4,692.7 L1398.4,692.6 L1400.4,692.3 L1402.4,691.8 L1404.4,691.1 L1406.4,690.3 L1408.4,689.4 L1410.4,688.2 L1412.4,687.0 L1414.4,685.5 L1416.4,683.9 L1418.4,682.2 L1420.4,680.3 L1422.4,678.3 L1424.4,676.2 L1426.4,673.9 L1428.4,671.5 L1430.4,669.0 L1432.4,666.3 L1434.4,663.5 L1436.4,660.7 L1438.4,657.7 L1440.4,654.6 L1442.4,651.4 L1444.4,648.1 L1446.4,644.7 L1448.4,641.3 L1450.4,637.7 L1452.4,634.1 L1454.4,630.4 L1456.4,626.7 L1458.4,622.8 L1460.4,619.0" stroke="#ff0000" stroke-width="10.7" fill="none" stroke-linejoin="round" stroke-linecap="square"/>
<path d="M172.2,128.2 L174.2,128.2 L176.2,128.2 L178.2,128.2 L180.2,128.2 L182.2,128.2 L184.2,128.2 L186.2,128.2 L188.2,128.2 L190.2,128.2 L192.2,128.2 L194.2,128.2 L196.2,128.2 L198.2,128.2 L200.2,128.2 L202.2,128.2 L204.2,128.2 L206.2,128.2 L208.2,128.2 L210.2,128.2 L212.2,128.2 L214.2,128.2 L216.2,128.2 L218.2,128.2 L220.2,128.2 L222.2,128.2 L224.2,128.2 L226.2,128.2 L228.2,128.1 L230.2,128.1 L232.2,128.1 L234.2,128.1 L236.2,128.1 L238.2,128.1 L240.2,128.1 L242.2,128.1 L244.2,128.1 L246.2,128.1 L248.2,128.1 L250.2,128.1 L252.2,128.1 L254.2,128.1 L256.2,128.1 L258.2,128.1 L260.2,128.1 L262.2,128.1 L264.2,128.0 L266.2,128.0 L268.2,128.0 L270.2,128.0 L272.2,128.0 L274.2,128.0 L276.2,128.0 L278.2,128.0 L280.2,128.0 L282.2,128.0 L284.2,128.0 L286.2,128.0 L288.2,128.0 L290.2,128.0 L292.2,128.0 L294.2,128.0 L296.2,128.0 L298.2,128.0 L300.2,127.9 L302.2,127.9 L304.2,127.9 L306.2,127.9 L308.2,127.9 L310.2,127.9 L312.2,127.9 L314.2,127.9 L316.2,127.9 L318.2,127.9 L320.2,127.9 L322.2,127.9 L324.2,127.9 L326.2,127.9 L328.2,127.9 L330.2,127.9 L332.2,127.9 L334.2,127.9 L336.2,127.9 L338.2,127.9 L340.2,127.9 L342.2,127.9 L344.2,127.9 L346.2,127.9 L348.2,127.9 L350.2,127.9 L352.2,127.9 L354.2,127.9 L356.2,127.9 L358.2,127.9 L360.2,127.9 L362.2,128.0 L364.2,128.0 L366.2,128.0 L368.2,128.0 L370.2,128.0 L372.2,128.0 L374.2,128.0 L376.2,128.0 L378.2,128.0 L380.2,128.0 L382.2,128.0 L384.2,128.1 L386.2,128.1 L388.2,128.1 L390.2,128.1 L392.2,128.1 L394.2,128.1 L396.2,128.2 L398.2,128.2 L400.2,128.2 L402.2,128.2 L404.2,128.2 L406.2,128.3 L408.2,128.3 L410.2,128.3 L412.2,128.3 L414.2,128.4 L416.2,128.4 L418.2,128.4 L420.2,128.4 L422.2,128.5 L424.2,128.5 L426.2,128.5 L428.2,128.6 L430.2,128.6 L432.2,128.6 L434.2,128.7 L436.2,128.7 L438.2,128.7 L440.2,128.8 L442.2,128.8 L444.2,128.9 L446.2,128.9 L448.2,128.9 L450.2,129.0 L452.2,129.0 L454.2,129.1 L456.2,129.1 L458.2,129.2 L460.2,129.2 L462.2,129.3 L464.2,129.3 L466.2,129.4 L468.2,129.5 L470.2,129.5 L472.2,129.6 L474.2,129.6 L476.2,129.7 L478.2,129.8 L480.2,129.8 L482.2,129.9 L484.2,130.0 L486.2,130.1 L488.2,130.1 L490.2,130.2 L492.2,130.3 L494.2,130.4 L496.3,130.5 L498.3,130.5 L500.3,130.6 L502.3,130.7 L504.3,130.8 L506.3,130.9 L508.3,131.0 L510.3,131.1 L512.3,131.2 L514.3,131.3 L516.3,131.4 L518.3,131.5 L520.3,131.7 L522.3,131.8 L524.3,131.9 L526.3,132.0 L528.3,132.1 L530.3,132.3 L532.3,132.4 L534.3,132.5 L536.3,132.7 L538.3,132.8 L540.3,133.0 L542.3,133.1 L544.3,133.3 L546.3,133.5 L548.3,133.6 L550.3,133.8 L552.3,134.0 L554.3,134.2 L556.3,134.4 L558.3,134.6 L560.3,134.8 L562.3,135.0 L564.3,135.2 L566.3,135.5 L568.3,135.7 L570.3,135.9 L572.3,136.2 L574.3,136.5 L576.3,136.7 L578.3,137.0 L580.3,137.3 L582.3,137.6 L584.3,137.9 L586.3,138.3 L588.3,138.6 L590.3,139.0 L592.3,139.3 L594.3,139.7 L596.3,140.1 L598.3,140.5 L600.3,140.9 L602.3,141.4 L604.3,141.8 L606.3,142.3 L608.3,142.8 L610.3,143.3 L612.3,143.8 L614.3,144.4 L616.3,145.0 L618.3,145.6 L620.3,146.2 L622.3,146.8 L624.3,147.5 L626.3,148.2 L628.3,148.9 L630.3,149.7 L632.3,150.4 L634.3,151.3 L636.3,152.1 L638.3,153.0 L640.3,153.9 L642.3,154.8 L644.3,155.8 L646.3,156.8 L648.3,157.8 L650.3,158.9 L652.3,160.0 L654.3,161.2 L656.3,162.4 L658.3,163.7 L660.3,165.0 L662.3,166.3 L664.3,167.7 L666.3,169.1 L668.3,170.6 L670.3,172.2 L672.3,173.7 L674.3,175.4 L676.3,177.1 L678.3,178.8 L680.3,180.6 L682.3,182.5 L684.3,184.4 L686.3,186.4 L688.3,188.4 L690.3,190.5 L692.3,192.7 L694.3,194.9 L696.3,197.2 L698.3,199.5 L700.3,201.9 L702.3,204.4 L704.3,207.0 L706.3,209.6 L708.3,212.3 L710.3,215.0 L712.3,217.8 L714.3,220.7 L716.3,223.7 L718.3,226.7 L720.3,229.8 L722.3,232.9 L724.3,236.1 L726.3,239.4 L728.3,242.8 L730.3,246.2 L732.3,249.7 L734.3,253.3 L736.3,256.9 L738.3,260.6 L740.3,264.4 L742.3,268.2 L744.3,272.1 L746.3,276.0 L748.3,280.0 L750.3,284.1 L752.3,288.2 L754.3,292.3 L756.3,296.6 L758.3,300.8 L760.3,305.1 L762.3,309.5 L764.3,313.9 L766.3,318.3 L768.3,322.8 L770.3,327.3 L772.3,331.9 L774.3,336.5 L776.3,341.1 L778.3,345.7 L780.3,350.3 L782.3,355.0 L784.3,359.6 L786.3,364.3 L788.3,369.0 L790.3,373.7 L792.3,378.4 L794.3,383.1 L796.3,387.7 L798.3,392.4 L800.3,397.0 L802.3,401.6 L804.3,406.2 L806.3,410.8 L808.3,415.3 L810.3,419.8 L812.3,424.2 L814.3,428.6 L816.3,433.0 L818.3,437.3 L820.3,441.5 L822.3,445.7 L824.3,449.8 L826.3,453.9 L828.3,457.9 L830.3,461.8 L832.3,465.6 L834.3,469.4 L836.3,473.1 L838.3,476.7 L840.3,480.2 L842.3,483.6 L844.3,486.9 L846.3,490.2 L848.3,493.3 L850.3,496.4 L852.3,499.3 L854.3,502.1 L856.3,504.8 L858.3,507.4 L860.3,509.9 L862.3,512.3 L864.3,514.5 L866.3,516.6 L868.3,518.5 L870.3,520.3 L872.3,521.9 L874.3,523.4 L876.3,524.7 L878.3,525.9 L880.3,526.8 L882.3,527.6 L884.3,528.3 L886.3,528.7 L888.3,529.0 L890.3,529.1 L892.3,529.1 L894.3,528.8 L896.3,528.4 L898.3,527.8 L900.3,527.1 L902.3,526.2 L904.3,525.2 L906.3,524.0 L908.3,522.7 L910.3,521.3 L912.3,519.7 L914.3,518.0 L916.3,516.3 L918.3,514.4 L920.3,512.4 L922.3,510.3 L924.3,508.1 L926.3,505.8 L928.3,503.5 L930.3,501.0 L932.3,498.5 L934.3,496.0 L936.3,493.3 L938.3,490.6 L940.3,487.9 L942.3,485.1 L944.3,482.2 L946.3,479.3 L948.3,476.3 L950.3,473.3 L952.3,470.2 L954.3,467.2 L956.3,464.0 L958.3,460.9 L960.3,457.7 L962.3,454.5 L964.3,451.3 L966.3,448.1 L968.3,444.8 L970.3,441.6 L972.3,438.3 L974.3,435.1 L976.3,431.8 L978.3,428.6 L980.3,425.4 L982.3,422.2 L984.3,419.0 L986.3,415.8 L988.3,412.7 L990.3,409.6 L992.3,406.6 L994.3,403.5 L996.3,400.6 L998.3,397.6 L1000.3,394.7 L1002.3,391.9 L1004.3,389.1 L1006.3,386.4 L1008.3,383.7 L1010.3,381.1 L1012.3,378.6 L1014.3,376.1 L1016.3,373.7 L1018.3,371.3 L1020.3,369.0 L1022.3,366.8 L1024.3,364.7 L1026.3,362.7 L1028.3,360.7 L1030.3,358.8 L1032.3,356.9 L1034.3,355.2 L1036.3,353.5 L1038.3,351.9 L1040.3,350.4 L1042.3,349.0 L1044.3,347.7 L1046.3,346.4 L1048.3,345.2 L1050.3,344.1 L1052.3,343.1 L1054.3,342.1 L1056.3,341.3 L1058.3,340.5 L1060.3,339.8 L1062.3,339.1 L1064.3,338.6 L1066.3,338.1 L1068.3,337.7 L1070.3,337.4 L1072.3,337.2 L1074.3,337.0 L1076.3,336.9 L1078.3,336.9 L1080.3,336.9 L1082.3,337.1 L1084.3,337.3 L1086.3,337.5 L1088.3,337.9 L1090.3,338.3 L1092.3,338.8 L1094.3,339.3 L1096.3,339.9 L1098.3,340.6 L1100.3,341.4 L1102.3,342.2 L1104.3,343.1 L1106.3,344.0 L1108.3,345.1 L1110.3,346.1 L1112.3,347.3 L1114.3,348.5 L1116.3,349.8 L1118.3,351.1 L1120.3,352.5 L1122.3,353.9 L1124.3,355.4 L1126.3,357.0 L1128.3,358.6 L1130.3,360.3 L1132.3,362.0 L1134.3,363.8 L1136.3,365.7 L1138.4,367.6 L1140.4,369.6 L1142.4,371.6 L1144.4,373.6 L1146.4,375.8 L1148.4,377.9 L1150.4,380.2 L1152.4,382.4 L1154.4,384.7 L1156.4,387.1 L1158.4,389.5 L1160.4,392.0 L1162.4,394.5 L1164.4,397.1 L1166.4,399.7 L1168.4,402.3 L1170.4,405.0 L1172.4,407.8 L1174.4,410.5 L1176.4,413.4 L1178.4,416.2 L1180.4,419.2 L1182.4,422.1 L1184.4,425.1 L1186.4,428.1 L1188.4,431.2 L1190.4,434.3 L1192.4,437.5 L1194.4,440.7 L1196.4,443.9 L1198.4,447.2 L1200.4,450.5 L1202.4,453.9 L1204.4,457.2 L1206.4,460.7 L1208.4,464.1 L1210.4,467.6 L1212.4,471.2 L1214.4,474.7 L1216.4,478.3 L1218.4,482.0 L1220.4,485.7 L1222.4,489.4 L1224.4,493.2 L1226.4,497.0 L1228.4,500.8 L1230.4,504.7 L1232.4,508.6 L1234.4,512.5 L1236.4,516.5 L1238.4,520.6 L1240.4,524.6 L1242.4,528.7 L1244.4,532.9 L1246.4,537.1 L1248.4,541.4 L1250.4,545.7 L1252.4,550.0 L1254.4,554.4 L1256.4,558.9 L1258.4,563.4 L1260.4,568.0 L1262.4,572.6 L1264.4,577.3 L1266.4,582.0 L1268.4,586.8 L1270.4,591.7 L1272.4,596.7 L1274.4,601.7 L1276.4,606.8 L1278.4,611.9 L1280.4,617.2 L1282.4,622.5 L1284.4,627.8 L1286.4,633.3 L1288.4,638.8 L1290.4,644.4 L1292.4,650.1 L1294.4,655.8 L1296.4,661.6 L1298.4,667.5 L1300.4,673.4 L1302.4,679.4 L1304.4,685.4 L1306.4,691.5 L1308.4,697.6 L1310.4,703.7 L1312.4,709.9 L1314.4,716.0 L1316.4,722.2 L1318.4,728.4 L1320.4,734.6 L1322.4,740.7 L1324.4,746.9 L1326.4,753.0 L1328.4,759.1 L1330.4,765.1 L1332.4,771.0 L1334.4,776.9 L1336.4,782.7 L1338.4,788.4 L1340.4,794.1 L1342.4,799.6 L1344.4,805.0 L1346.4,810.3 L1348.4,815.4 L1350.4,820.4 L1352.4,825.3 L1354.4,830.0 L1356.4,834.6 L1358.4,839.0 L1360.4,843.2 L1362.4,847.3 L1364.4,851.1 L1366.4,854.8 L1368.4,858.3 L1370.4,861.6 L1372.4,864.7 L1374.4,867.6 L1376.4,870.3 L1378.4,872.7 L1380.4,875.0 L1382.4,877.0 L1384.4,878.9 L1386.4,880.5 L1388.4,881.8 L1390.4,883.0 L1392.4,883.9 L1394.4,884.7 L1396.4,885.1 L1398.4,885.4 L1400.4,885.5 L1402.4,885.3 L1404.4,884.9 L1406.4,884.3 L1408.4,883.5 L1410.4,882.5 L1412.4,881.2 L1414.4,879.8 L1416.4,878.1 L1418.4,876.3 L1420.4,874.2 L1422.4,872.0 L1424.4,869.6 L1426.4,867.0 L1428.4,864.2 L1430.4,861.3 L1432.4,858.1 L1434.4,854.8 L1436.4,851.4 L1438.4,847.8 L1440.4,844.1 L1442.4,840.2 L1444.4,836.2 L1446.4,832.0 L1448.4,827.8 L1450.4,823.4 L1452.4,818.9 L1454.4,814.2 L1456.4,809.5 L1458.4,804.7 L1460.4,799.8" stroke="#000000" stroke-width="10.7" fill="none" stroke-linejoin="round" stroke-linecap="square"/>
<path d="M172.2,938.8 L174.2,938.7 L176.2,938.6 L178.2,938.4 L180.2,938.3 L182.2,938.2 L184.2,938.0 L186.2,937.9 L188.2,937.8 L190.2,937.6 L192.2,937.5 L194.2,937.4 L196.2,937.2 L198.2,937.1 L200.2,936.9 L202.2,936.8 L204.2,936.6 L206.2,936.5 L208.2,936.4 L210.2,936.2 L212.2,936.1 L214.2,935.9 L216.2,935.8 L218.2,935.6 L220.2,935.5 L222.2,935.3 L224.2,935.2 L226.2,935.0 L228.2,934.9 L230.2,934.7 L232.2,934.6 L234.2,934.4 L236.2,934.2 L238.2,934.1 L240.2,933.9 L242.2,933.8 L244.2,933.6 L246.2,933.5 L248.2,933.3 L250.2,933.1 L252.2,933.0 L254.2,932.8 L256.2,932.7 L258.2,932.5 L260.2,932.3 L262.2,932.2 L264.2,932.0 L266.2,931.9 L268.2,931.7 L270.2,931.5 L272.2,931.4 L274.2,931.2 L276.2,931.0 L278.2,930.9 L280.2,930.7 L282.2,930.5 L284.2,930.4 L286.2,930.2 L288.2,930.0 L290.2,929.9 L292.2,929.7 L294.2,929.5 L296.2,929.4 L298.2,929.2 L300.2,929.0 L302.2,928.9 L304.2,928.7 L306.2,928.5 L308.2,928.4 L310.2,928.2 L312.2,928.0 L314.2,927.9 L316.2,927.7 L318.2,927.5 L320.2,927.4 L322.2,927.2 L324.2,927.0 L326.2,926.9 L328.2,926.7 L330.2,926.5 L332.2,926.4 L334.2,926.2 L336.2,926.0 L338.2,925.9 L340.2,925.7 L342.2,925.5 L344.2,925.4 L346.2,925.2 L348.2,925.1 L350.2,924.9 L352.2,924.7 L354.2,924.6 L356.2,924.4 L358.2,924.3 L360.2,924.1 L362.2,923.9 L364.2,923.8 L366.2,923.6 L368.2,923.5 L370.2,923.3 L372.2,923.2 L374.2,923.0 L376.2,922.9 L378.2,922.7 L380.2,922.6 L382.2,922.4 L384.2,922.3 L386.2,922.1 L388.2,922.0 L390.2,921.8 L392.2,921.7 L394.2,921.6 L396.2,921.4 L398.2,921.3 L400.2,921.1 L402.2,921.0 L404.2,920.9 L406.2,920.7 L408.2,920.6 L410.2,920.5 L412.2,920.3 L414.2,920.2 L416.2,920.1 L418.2,920.0 L420.2,919.8 L422.2,919.7 L424.2,919.6 L426.2,919.5 L428.2,919.4 L430.2,919.2 L432.2,919.1 L434.2,919.0 L436.2,918.9 L438.2,918.8 L440.2,918.7 L442.2,918.6 L444.2,918.5 L446.2,918.4 L448.2,918.3 L450.2,918.2 L452.2,918.1 L454.2,918.0 L456.2,917.9 L458.2,917.8 L460.2,917.7 L462.2,917.7 L464.2,917.6 L466.2,917.5 L468.2,917.4 L470.2,917.3 L472.2,917.3 L474.2,917.2 L476.2,917.1 L478.2,917.1 L480.2,917.0 L482.2,916.9 L484.2,916.9 L486.2,916.8 L488.2,916.8 L490.2,916.7 L492.2,916.7 L494.2,916.6 L496.3,916.6 L498.3,916.5 L500.3,916.5 L502.3,916.5 L504.3,916.4 L506.3,916.4 L508.3,916.4 L510.3,916.4 L512.3,916.4 L514.3,916.3 L516.3,916.3 L518.3,916.3 L520.3,916.3 L522.3,916.3 L524.3,916.3 L526.3,916.3 L528.3,916.3 L530.3,916.3 L532.3,916.4 L534.3,916.4 L536.3,916.4 L538.3,916.4 L540.3,916.5 L542.3,916.5 L544.3,916.5 L546.3,916.6 L548.3,916.6 L550.3,916.7 L552.3,916.7 L554.3,916.8 L556.3,916.9 L558.3,916.9 L560.3,917.0 L562.3,917.1 L564.3,917.2 L566.3,917.3 L568.3,917.4 L570.3,917.5 L572.3,917.6 L574.3,917.7 L576.3,917.8 L578.3,917.9 L580.3,918.1 L582.3,918.2 L584.3,918.4 L586.3,918.5 L588.3,918.7 L590.3,918.9 L592.3,919.0 L594.3,919.2 L596.3,919.4 L598.3,919.6 L600.3,919.8 L602.3,920.1 L604.3,920.3 L606.3,920.5 L608.3,920.8 L610.3,921.1 L612.3,921.3 L614.3,921.6 L616.3,921.9 L618.3,922.2 L620.3,922.6 L622.3,922.9 L624.3,923.3 L626.3,923.6 L628.3,924.0 L630.3,924.4 L632.3,924.8 L634.3,925.3 L636.3,925.7 L638.3,926.2 L640.3,926.7 L642.3,927.2 L644.3,927.7 L646.3,928.2 L648.3,928.8 L650.3,929.4 L652.3,930.0 L654.3,930.6 L656.3,931.2 L658.3,931.9 L660.3,932.6 L662.3,933.3 L664.3,934.1 L666.3,934.8 L668.3,935.6 L670.3,936.5 L672.3,937.3 L674.3,938.2 L676.3,939.1 L678.3,940.1 L680.3,941.0 L682.3,942.0 L684.3,943.1 L686.3,944.1 L688.3,945.2 L690.3,946.4 L692.3,947.5 L694.3,948.8 L696.3,950.0 L698.3,951.3 L700.3,952.6 L702.3,953.9 L704.3,955.3 L706.3,956.7 L708.3,958.2 L710.3,959.7 L712.3,961.2 L714.3,962.8 L716.3,964.4 L718.3,966.1 L720.3,967.7 L722.3,969.5 L724.3,971.2 L726.3,973.1 L728.3,974.9 L730.3,976.8 L732.3,978.7 L734.3,980.7 L736.3,982.7 L738.3,984.7 L740.3,986.8 L742.3,988.9 L744.3,991.0 L746.3,993.2 L748.3,995.4 L750.3,997.7 L752.3,1000.0 L754.3,1002.3 L756.3,1004.6 L758.3,1007.0 L760.3,1009.4 L762.3,1011.8 L764.3,1014.3 L766.3,1016.7 L768.3,1019.2 L770.3,1021.8 L772.3,1024.3 L774.3,1026.9 L776.3,1029.4 L778.3,1032.0 L780.3,1034.6 L782.3,1037.3 L784.3,1039.9 L786.3,1042.5 L788.3,1045.2 L790.3,1047.8 L792.3,1050.4 L794.3,1053.1 L796.3,1055.7 L798.3,1058.3 L800.3,1061.0 L802.3,1063.6 L804.3,1066.2 L806.3,1068.7 L808.3,1071.3 L810.3,1073.8 L812.3,1076.4 L814.3,1078.8 L816.3,1081.3 L818.3,1083.7 L820.3,1086.1 L822.3,1088.5 L824.3,1090.8 L826.3,1093.1 L828.3,1095.4 L830.3,1097.6 L832.3,1099.7 L834.3,1101.8 L836.3,1103.9 L838.3,1105.9 L840.3,1107.8 L842.3,1109.7 L844.3,1111.6 L846.3,1113.3 L848.3,1115.0 L850.3,1116.7 L852.3,1118.3 L854.3,1119.8 L856.3,1121.2 L858.3,1122.6 L860.3,1123.9 L862.3,1125.1 L864.3,1126.2 L866.3,1127.3 L868.3,1128.3 L870.3,1129.2 L872.3,1130.1 L874.3,1130.9 L876.3,1131.6 L878.3,1132.2 L880.3,1132.7 L882.3,1133.2 L884.3,1133.6 L886.3,1133.9 L888.3,1134.1 L890.3,1134.2 L892.3,1134.3 L894.3,1134.3 L896.3,1134.2 L898.3,1134.1 L900.3,1133.8 L902.3,1133.5 L904.3,1133.2 L906.3,1132.7 L908.3,1132.2 L910.3,1131.7 L912.3,1131.0 L914.3,1130.3 L916.3,1129.6 L918.3,1128.7 L920.3,1127.9 L922.3,1126.9 L924.3,1125.9 L926.3,1124.9 L928.3,1123.8 L930.3,1122.7 L932.3,1121.5 L934.3,1120.3 L936.3,1119.0 L938.3,1117.7 L940.3,1116.3 L942.3,1115.0 L944.3,1113.6 L946.3,1112.1 L948.3,1110.7 L950.3,1109.2 L952.3,1107.7 L954.3,1106.2 L956.3,1104.6 L958.3,1103.1 L960.3,1101.5 L962.3,1099.9 L964.3,1098.3 L966.3,1096.7 L968.3,1095.1 L970.3,1093.5 L972.3,1091.9 L974.3,1090.4 L976.3,1088.8 L978.3,1087.2 L980.3,1085.6 L982.3,1084.1 L984.3,1082.5 L986.3,1081.0 L988.3,1079.5 L990.3,1078.0 L992.3,1076.5 L994.3,1075.1 L996.3,1073.6 L998.3,1072.2 L1000.3,1070.8 L1002.3,1069.5 L1004.3,1068.1 L1006.3,1066.8 L1008.3,1065.6 L1010.3,1064.3 L1012.3,1063.1 L1014.3,1061.9 L1016.3,1060.8 L1018.3,1059.7 L1020.3,1058.6 L1022.3,1057.5 L1024.3,1056.5 L1026.3,1055.5 L1028.3,1054.6 L1030.3,1053.7 L1032.3,1052.8 L1034.3,1051.9 L1036.3,1051.1 L1038.3,1050.4 L1040.3,1049.6 L1042.3,1048.9 L1044.3,1048.2 L1046.3,1047.6 L1048.3,1047.0 L1050.3,1046.4 L1052.3,1045.9 L1054.3,1045.4 L1056.3,1044.9 L1058.3,1044.4 L1060.3,1044.0 L1062.3,1043.6 L1064.3,1043.2 L1066.3,1042.9 L1068.3,1042.6 L1070.3,1042.3 L1072.3,1042.0 L1074.3,1041.8 L1076.3,1041.5 L1078.3,1041.3 L1080.3,1041.1 L1082.3,1041.0 L1084.3,1040.8 L1086.3,1040.7 L1088.3,1040.6 L1090.3,1040.5 L1092.3,1040.4 L1094.3,1040.3 L1096.3,1040.2 L1098.3,1040.1 L1100.3,1040.1 L1102.3,1040.0 L1104.3,1040.0 L1106.3,1039.9 L1108.3,1039.9 L1110.3,1039.8 L1112.3,1039.7 L1114.3,1039.7 L1116.3,1039.6 L1118.3,1039.5 L1120.3,1039.4 L1122.3,1039.3 L1124.3,1039.2 L1126.3,1039.1 L1128.3,1039.0 L1130.3,1038.8 L1132.3,1038.6 L1134.3,1038.4 L1136.3,1038.2 L1138.4,1037.9 L1140.4,1037.6 L1142.4,1037.3 L1144.4,1036.9 L1146.4,1036.5 L1148.4,1036.1 L1150.4,1035.6 L1152.4,1035.1 L1154.4,1034.6 L1156.4,1034.0 L1158.4,1033.3 L1160.4,1032.6 L1162.4,1031.9 L1164.4,1031.0 L1166.4,1030.2 L1168.4,1029.3 L1170.4,1028.3 L1172.4,1027.2 L1174.4,1026.1 L1176.4,1024.9 L1178.4,1023.7 L1180.4,1022.3 L1182.4,1020.9 L1184.4,1019.5 L1186.4,1017.9 L1188.4,1016.3 L1190.4,1014.6 L1192.4,1012.9 L1194.4,1011.0 L1196.4,1009.1 L1198.4,1007.1 L1200.4,1005.1 L1202.4,1003.0 L1204.4,1000.8 L1206.4,998.5 L1208.4,996.2 L1210.4,993.9 L1212.4,991.5 L1214.4,989.1 L1216.4,986.6 L1218.4,984.1 L1220.4,981.6 L1222.4,979.1 L1224.4,976.6 L1226.4,974.2 L1228.4,971.8 L1230.4,969.4 L1232.4,967.2 L1234.4,965.0 L1236.4,962.9 L1238.4,961.0 L1240.4,959.6 L1242.4,958.5 L1244.4,957.4 L1246.4,956.3 L1248.4,955.2 L1250.4,954.1 L1252.4,953.2 L1254.4,954.1 L1256.4,955.1 L1258.4,956.0 L1260.4,956.9 L1262.4,957.9 L1264.4,958.8 L1266.4,961.3 L1268.4,965.0 L1270.4,968.7 L1272.4,972.4 L1274.4,976.1 L1276.4,979.8 L1278.4,983.8 L1280.4,990.3 L1282.4,996.9 L1284.4,1003.5 L1286.4,1010.1 L1288.4,1016.7 L1290.4,1023.3 L1292.4,1031.2 L1294.4,1040.0 L1296.4,1048.9 L1298.4,1057.7 L1300.4,1066.6 L1302.4,1075.4 L1304.4,1084.4 L1306.4,1094.4 L1308.4,1104.4 L1310.4,1114.5 L1312.4,1124.5 L1314.4,1134.6 L1316.4,1144.6 L1318.4,1154.8 L1320.4,1165.0 L1322.4,1175.2 L1324.4,1185.4 L1326.4,1195.5 L1328.4,1205.5 L1330.4,1215.4 L1332.4,1225.2 L1334.4,1234.8 L1336.4,1244.3 L1338.4,1253.6 L1340.4,1262.8 L1342.4,1271.7 L1344.4,1280.5 L1346.4,1289.0 L1348.4,1297.4 L1350.4,1305.5 L1352.4,1313.4 L1354.4,1321.0 L1356.4,1328.4 L1358.4,1335.5 L1360.4,1342.5 L1362.4,1349.1 L1364.4,1355.5 L1366.4,1361.7 L1368.4,1367.5 L1370.4,1373.2 L1372.4,1378.5 L1374.4,1383.6 L1376.4,1388.5 L1378.4,1393.1 L1380.4,1397.4 L1382.4,1401.5 L1384.4,1405.3 L1386.4,1408.9 L1388.4,1412.2 L1390.4,1415.3 L1392.4,1418.2 L1394.4,1420.7 L1396.4,1423.1 L1398.4,1425.2 L1400.4,1427.1 L1402.4,1428.8 L1404.4,1430.2 L1406.4,1431.4 L1408.4,1432.4 L1410.4,1433.2 L1412.4,1433.8 L1414.4,1434.2 L1416.4,1434.4 L1418.4,1434.4 L1420.4,1434.2 L1422.4,1433.8 L1424.4,1433.3 L1426.4,1432.5 L1428.4,1431.6 L1430.4,1430.6 L1432.4,1429.4 L1434.4,1428.1 L1436.4,1426.6 L1438.4,1424.9 L1440.4,1423.2 L1442.4,1421.3 L1444.4,1419.2 L1446.4,1417.1 L1448.4,1414.9 L1450.4,1412.5 L1452.4,1410.0 L1454.4,1407.5 L1456.4,1404.8 L1458.4,1402.1 L1460.4,1399.3" stroke="#ff0000" stroke-width="10.7" fill="none" stroke-linejoin="round" stroke-linecap="square"/>
<path d="M172.2,922.2 L174.2,921.8 L176.2,921.5 L178.2,921.1 L180.2,920.7 L182.2,920.2 L184.2,919.8 L186.2,919.4 L188.2,919.0 L190.2,918.6 L192.2,918.2 L194.2,917.8 L196.2,917.3 L198.2,916.9 L200.2,916.5 L202.2,916.0 L204.2,915.6 L206.2,915.1 L208.2,914.7 L210.2,914.3 L212.2,913.8 L214.2,913.3 L216.2,912.9 L218.2,912.4 L220.2,912.0 L222.2,911.5 L224.2,911.0 L226.2,910.6 L228.2,910.1 L230.2,909.6 L232.2,909.1 L234.2,908.6 L236.2,908.1 L238.2,907.7 L240.2,907.2 L242.2,906.7 L244.2,906.2 L246.2,905.7 L248.2,905.2 L250.2,904.7 L252.2,904.2 L254.2,903.6 L256.2,903.1 L258.2,902.6 L260.2,902.1 L262.2,901.6 L264.2,901.0 L266.2,900.5 L268.2,900.0 L270.2,899.5 L272.2,898.9 L274.2,898.4 L276.2,897.9 L278.2,897.3 L280.2,896.8 L282.2,896.2 L284.2,895.7 L286.2,895.2 L288.2,894.6 L290.2,894.1 L292.2,893.5 L294.2,893.0 L296.2,892.4 L298.2,891.8 L300.2,891.3 L302.2,890.7 L304.2,890.2 L306.2,889.6 L308.2,889.1 L310.2,888.5 L312.2,887.9 L314.2,887.4 L316.2,886.8 L318.2,886.2 L320.2,885.7 L322.2,885.1 L324.2,884.5 L326.2,883.9 L328.2,883.4 L330.2,882.8 L332.2,882.2 L334.2,881.7 L336.2,881.1 L338.2,880.5 L340.2,879.9 L342.2,879.4 L344.2,878.8 L346.2,878.2 L348.2,877.7 L350.2,877.1 L352.2,876.5 L354.2,875.9 L356.2,875.4 L358.2,874.8 L360.2,874.2 L362.2,873.6 L364.2,873.1 L366.2,872.5 L368.2,871.9 L370.2,871.4 L372.2,870.8 L374.2,870.2 L376.2,869.7 L378.2,869.1 L380.2,868.5 L382.2,868.0 L384.2,867.4 L386.2,866.9 L388.2,866.3 L390.2,865.8 L392.2,865.2 L394.2,864.7 L396.2,864.1 L398.2,863.6 L400.2,863.0 L402.2,862.5 L404.2,861.9 L406.2,861.4 L408.2,860.9 L410.2,860.3 L412.2,859.8 L414.2,859.3 L416.2,858.8 L418.2,858.2 L420.2,857.7 L422.2,857.2 L424.2,856.7 L426.2,856.2 L428.2,855.7 L430.2,855.2 L432.2,854.7 L434.2,854.2 L436.2,853.7 L438.2,853.2 L440.2,852.7 L442.2,852.2 L444.2,851.8 L446.2,851.3 L448.2,850.8 L450.2,850.4 L452.2,849.9 L454.2,849.4 L456.2,849.0 L458.2,848.6 L460.2,848.1 L462.2,847.7 L464.2,847.2 L466.2,846.8 L468.2,846.4 L470.2,846.0 L472.2,845.6 L474.2,845.2 L476.2,844.8 L478.2,844.4 L480.2,844.0 L482.2,843.6 L484.2,843.2 L486.2,842.9 L488.2,842.5 L490.2,842.2 L492.2,841.8 L494.2,841.5 L496.3,841.1 L498.3,840.8 L500.3,840.5 L502.3,840.2 L504.3,839.8 L506.3,839.5 L508.3,839.2 L510.3,839.0 L512.3,838.7 L514.3,838.4 L516.3,838.1 L518.3,837.9 L520.3,837.6 L522.3,837.4 L524.3,837.2 L526.3,836.9 L528.3,836.7 L530.3,836.5 L532.3,836.3 L534.3,836.1 L536.3,836.0 L538.3,835.8 L540.3,835.7 L542.3,835.5 L544.3,835.4 L546.3,835.2 L548.3,835.1 L550.3,835.0 L552.3,834.9 L554.3,834.9 L556.3,834.8 L558.3,834.7 L560.3,834.7 L562.3,834.7 L564.3,834.6 L566.3,834.6 L568.3,834.7 L570.3,834.7 L572.3,834.7 L574.3,834.8 L576.3,834.9 L578.3,834.9 L580.3,835.0 L582.3,835.2 L584.3,835.3 L586.3,835.5 L588.3,835.6 L590.3,835.8 L592.3,836.0 L594.3,836.3 L596.3,836.5 L598.3,836.8 L600.3,837.1 L602.3,837.4 L604.3,837.8 L606.3,838.2 L608.3,838.6 L610.3,839.0 L612.3,839.4 L614.3,839.9 L616.3,840.4 L618.3,840.9 L620.3,841.5 L622.3,842.1 L624.3,842.7 L626.3,843.4 L628.3,844.1 L630.3,844.8 L632.3,845.6 L634.3,846.4 L636.3,847.2 L638.3,848.1 L640.3,849.0 L642.3,850.0 L644.3,851.0 L646.3,852.0 L648.3,853.1 L650.3,854.2 L652.3,855.4 L654.3,856.7 L656.3,857.9 L658.3,859.3 L660.3,860.7 L662.3,862.1 L664.3,863.6 L666.3,865.1 L668.3,866.7 L670.3,868.4 L672.3,870.1 L674.3,871.9 L676.3,873.8 L678.3,875.7 L680.3,877.6 L682.3,879.7 L684.3,881.8 L686.3,883.9 L688.3,886.2 L690.3,888.5 L692.3,890.8 L694.3,893.3 L696.3,895.8 L698.3,898.4 L700.3,901.1 L702.3,903.8 L704.3,906.6 L706.3,909.5 L708.3,912.4 L710.3,915.5 L712.3,918.6 L714.3,921.8 L716.3,925.0 L718.3,928.4 L720.3,931.8 L722.3,935.3 L724.3,938.9 L726.3,942.5 L728.3,946.2 L730.3,950.0 L732.3,953.9 L734.3,957.9 L736.3,961.9 L738.3,966.0 L740.3,970.1 L742.3,974.4 L744.3,978.7 L746.3,983.0 L748.3,987.5 L750.3,991.9 L752.3,996.5 L754.3,1001.1 L756.3,1005.8 L758.3,1010.5 L760.3,1015.3 L762.3,1020.1 L764.3,1025.0 L766.3,1029.9 L768.3,1034.9 L770.3,1039.9 L772.3,1044.9 L774.3,1050.0 L776.3,1055.1 L778.3,1060.2 L780.3,1065.4 L782.3,1070.5 L784.3,1075.7 L786.3,1080.9 L788.3,1086.1 L790.3,1091.3 L792.3,1096.5 L794.3,1101.7 L796.3,1106.8 L798.3,1112.0 L800.3,1117.2 L802.3,1122.3 L804.3,1127.4 L806.3,1132.4 L808.3,1137.5 L810.3,1142.5 L812.3,1147.4 L814.3,1152.3 L816.3,1157.1 L818.3,1161.9 L820.3,1166.6 L822.3,1171.2 L824.3,1175.8 L826.3,1180.3 L828.3,1184.7 L830.3,1189.0 L832.3,1193.2 L834.3,1197.4 L836.3,1201.4 L838.3,1205.3 L840.3,1209.2 L842.3,1212.9 L844.3,1216.5 L846.3,1220.0 L848.3,1223.3 L850.3,1226.6 L852.3,1229.7 L854.3,1232.7 L856.3,1235.5 L858.3,1238.2 L860.3,1240.8 L862.3,1243.3 L864.3,1245.6 L866.3,1247.7 L868.3,1249.7 L870.3,1251.6 L872.3,1253.3 L874.3,1254.9 L876.3,1256.3 L878.3,1257.6 L880.3,1258.7 L882.3,1259.7 L884.3,1260.5 L886.3,1261.2 L888.3,1261.7 L890.3,1262.1 L892.3,1262.3 L894.3,1262.4 L896.3,1262.3 L898.3,1262.1 L900.3,1261.8 L902.3,1261.3 L904.3,1260.7 L906.3,1259.9 L908.3,1259.0 L910.3,1258.0 L912.3,1256.8 L914.3,1255.6 L916.3,1254.2 L918.3,1252.6 L920.3,1251.0 L922.3,1249.3 L924.3,1247.4 L926.3,1245.5 L928.3,1243.4 L930.3,1241.2 L932.3,1239.0 L934.3,1236.6 L936.3,1234.2 L938.3,1231.7 L940.3,1229.1 L942.3,1226.5 L944.3,1223.8 L946.3,1221.0 L948.3,1218.1 L950.3,1215.2 L952.3,1212.3 L954.3,1209.3 L956.3,1206.3 L958.3,1203.2 L960.3,1200.1 L962.3,1197.0 L964.3,1193.8 L966.3,1190.7 L968.3,1187.5 L970.3,1184.3 L972.3,1181.1 L974.3,1177.9 L976.3,1174.7 L978.3,1171.4 L980.3,1168.3 L982.3,1165.1 L984.3,1161.9 L986.3,1158.8 L988.3,1155.6 L990.3,1152.5 L992.3,1149.5 L994.3,1146.4 L996.3,1143.4 L998.3,1140.4 L1000.3,1137.5 L1002.3,1134.6 L1004.3,1131.8 L1006.3,1129.0 L1008.3,1126.2 L1010.3,1123.5 L1012.3,1120.9 L1014.3,1118.3 L1016.3,1115.7 L1018.3,1113.2 L1020.3,1110.8 L1022.3,1108.4 L1024.3,1106.1 L1026.3,1103.8 L1028.3,1101.6 L1030.3,1099.5 L1032.3,1097.4 L1034.3,1095.4 L1036.3,1093.5 L1038.3,1091.6 L1040.3,1089.7 L1042.3,1088.0 L1044.3,1086.3 L1046.3,1084.6 L1048.3,1083.0 L1050.3,1081.5 L1052.3,1080.0 L1054.3,1078.6 L1056.3,1077.2 L1058.3,1075.9 L1060.3,1074.7 L1062.3,1073.5 L1064.3,1072.3 L1066.3,1071.2 L1068.3,1070.2 L1070.3,1069.2 L1072.3,1068.2 L1074.3,1067.3 L1076.3,1066.4 L1078.3,1065.6 L1080.3,1064.8 L1082.3,1064.0 L1084.3,1063.3 L1086.3,1062.6 L1088.3,1061.9 L1090.3,1061.2 L1092.3,1060.6 L1094.3,1060.0 L1096.3,1059.5 L1098.3,1058.9 L1100.3,1058.3 L1102.3,1057.8 L1104.3,1057.3 L1106.3,1056.8 L1108.3,1056.2 L1110.3,1055.7 L1112.3,1055.2 L1114.3,1054.7 L1116.3,1054.2 L1118.3,1053.6 L1120.3,1053.1 L1122.3,1052.5 L1124.3,1051.9 L1126.3,1051.3 L1128.3,1050.7 L1130.3,1050.0 L1132.3,1049.3 L1134.3,1048.6 L1136.3,1047.8 L1138.4,1047.0 L1140.4,1046.1 L1142.4,1045.2 L1144.4,1044.2 L1146.4,1043.2 L1148.4,1042.1 L1150.4,1040.9 L1152.4,1039.7 L1154.4,1038.4 L1156.4,1037.1 L1158.4,1035.6 L1160.4,1034.1 L1162.4,1032.5 L1164.4,1030.8 L1166.4,1029.0 L1168.4,1027.1 L1170.4,1025.1 L1172.4,1023.0 L1174.4,1020.8 L1176.4,1018.6 L1178.4,1016.1 L1180.4,1013.6 L1182.4,1011.0 L1184.4,1008.3 L1186.4,1005.4 L1188.4,1002.4 L1190.4,999.4 L1192.4,996.2 L1194.4,992.8 L1196.4,989.4 L1198.4,985.9 L1200.4,982.2 L1202.4,978.5 L1204.4,974.7 L1206.4,970.8 L1208.4,966.8 L1210.4,962.7 L1212.4,958.6 L1214.4,954.4 L1216.4,950.2 L1218.4,945.9 L1220.4,941.7 L1222.4,937.4 L1224.4,933.2 L1226.4,929.1 L1228.4,925.0 L1230.4,921.1 L1232.4,917.2 L1234.4,913.6 L1236.4,910.1 L1238.4,906.8 L1240.4,904.4 L1242.4,902.4 L1244.4,900.5 L1246.4,898.5 L1248.4,896.6 L1250.4,894.6 L1252.4,892.9 L1254.4,894.0 L1256.4,895.2 L1258.4,896.4 L1260.4,897.5 L1262.4,898.7 L1264.4,899.8 L1266.4,903.3 L1268.4,908.6 L1270.4,913.9 L1272.4,919.2 L1274.4,924.5 L1276.4,929.8 L1278.4,935.4 L1280.4,944.9 L1282.4,954.4 L1284.4,963.9 L1286.4,973.5 L1288.4,983.0 L1290.4,992.5 L1292.4,1003.9 L1294.4,1016.7 L1296.4,1029.5 L1298.4,1042.4 L1300.4,1055.2 L1302.4,1068.0 L1304.4,1080.9 L1306.4,1095.5 L1308.4,1110.0 L1310.4,1124.5 L1312.4,1139.1 L1314.4,1153.6 L1316.4,1168.1 L1318.4,1182.8 L1320.4,1197.7 L1322.4,1212.4 L1324.4,1227.1 L1326.4,1241.7 L1328.4,1256.2 L1330.4,1270.5 L1332.4,1284.6 L1334.4,1298.5 L1336.4,1312.2 L1338.4,1325.6 L1340.4,1338.8 L1342.4,1351.7 L1344.4,1364.3 L1346.4,1376.6 L1348.4,1388.5 L1350.4,1400.2 L1352.4,1411.5 L1354.4,1422.4 L1356.4,1433.0 L1358.4,1443.2 L1360.4,1453.1 L1362.4,1462.6 L1364.4,1471.7 L1366.4,1480.4 L1368.4,1488.8 L1370.4,1496.8 L1372.4,1504.4 L1374.4,1511.7 L1376.4,1518.6 L1378.4,1525.1 L1380.4,1531.2 L1382.4,1537.0 L1384.4,1542.4 L1386.4,1547.4 L1388.4,1552.1 L1390.4,1556.4 L1392.4,1560.4 L1394.4,1564.1 L1396.4,1567.4 L1398.4,1570.4 L1400.4,1573.0 L1402.4,1575.4 L1404.4,1577.4 L1406.4,1579.2 L1408.4,1580.6 L1410.4,1581.7 L1412.4,1582.6 L1414.4,1583.2 L1416.4,1583.5 L1418.4,1583.5 L1420.4,1583.3 L1422.4,1582.9 L1424.4,1582.2 L1426.4,1581.3 L1428.4,1580.2 L1430.4,1578.8 L1432.4,1577.3 L1434.4,1575.5 L1436.4,1573.6 L1438.4,1571.4 L1440.4,1569.1 L1442.4,1566.6 L1444.4,1564.0 L1446.4,1561.2 L1448.4,1558.2 L1450.4,1555.2 L1452.4,1552.0 L1454.4,1548.6 L1456.4,1545.1 L1458.4,1541.6 L1460.4,1537.9" stroke="#000000" stroke-width="10.7" fill="none" stroke-linejoin="round" stroke-linecap="square"/>
<g fill="#fff" stroke="#000000" stroke-width="7.2">
<circle cx="172.2" cy="178.0" r="10.6"/>
<circle cx="248.7" cy="146.5" r="10.6"/>
<circle cx="324.8" cy="147.6" r="10.6"/>
<circle cx="362.5" cy="85.0" r="10.6"/>
<circle cx="401.1" cy="185.0" r="10.6"/>
<circle cx="437.7" cy="135.5" r="10.6"/>
<circle cx="476.4" cy="142.0" r="10.6"/>
<circle cx="513.3" cy="159.7" r="10.6"/>
<circle cx="551.0" cy="140.0" r="10.6"/>
<circle cx="588.0" cy="98.0" r="10.6"/>
<circle cx="626.4" cy="112.4" r="10.6"/>
<circle cx="663.0" cy="85.3" r="10.6"/>
<circle cx="700.6" cy="166.0" r="10.6"/>
<circle cx="737.5" cy="174.8" r="10.6"/>
<circle cx="774.5" cy="369.3" r="10.6"/>
<circle cx="810.8" cy="387.0" r="10.6"/>
<circle cx="848.2" cy="489.5" r="10.6"/>
<circle cx="884.3" cy="467.4" r="10.6"/>
<circle cx="921.3" cy="504.3" r="10.6"/>
<circle cx="957.2" cy="404.5" r="10.6"/>
<circle cx="994.1" cy="392.5" r="10.6"/>
<circle cx="1030.5" cy="356.7" r="10.6"/>
<circle cx="1067.2" cy="383.7" r="10.6"/>
<circle cx="1102.8" cy="338.0" r="10.6"/>
<circle cx="1139.0" cy="404.2" r="10.6"/>
<circle cx="1175.4" cy="349.0" r="10.6"/>
<circle cx="1211.6" cy="403.7" r="10.6"/>
<circle cx="1247.0" cy="336.4" r="10.6"/>
<circle cx="1283.2" cy="730.4" r="10.6"/>
<circle cx="1318.6" cy="635.5" r="10.6"/>
<circle cx="1354.0" cy="869.0" r="10.6"/>
<circle cx="1389.6" cy="993.1" r="10.6"/>
<circle cx="1460.4" cy="801.5" r="10.6"/>
</g>
<g fill="#fff" stroke="#ff0000" stroke-width="7.2">
<circle cx="166.9" cy="266.3" r="10.6"/>
<circle cx="243.4" cy="242.4" r="10.6"/>
<circle cx="319.5" cy="257.0" r="10.6"/>
<circle cx="357.2" cy="46.3" r="10.6"/>
<circle cx="395.8" cy="176.5" r="10.6"/>
<circle cx="432.4" cy="71.0" r="10.6"/>
<circle cx="471.1" cy="236.7" r="10.6"/>
<circle cx="508.0" cy="141.7" r="10.6"/>
<circle cx="545.7" cy="208.0" r="10.6"/>
<circle cx="582.7" cy="126.6" r="10.6"/>
<circle cx="621.1" cy="218.5" r="10.6"/>
<circle cx="657.7" cy="118.3" r="10.6"/>
<circle cx="695.3" cy="158.0" r="10.6"/>
<circle cx="732.2" cy="129.3" r="10.6"/>
<circle cx="769.2" cy="295.0" r="10.6"/>
<circle cx="805.5" cy="275.5" r="10.6"/>
<circle cx="842.9" cy="369.3" r="10.6"/>
<circle cx="879.0" cy="313.2" r="10.6"/>
<circle cx="916.0" cy="420.8" r="10.6"/>
<circle cx="951.9" cy="320.2" r="10.6"/>
<circle cx="988.8" cy="252.9" r="10.6"/>
<circle cx="1025.2" cy="261.9" r="10.6"/>
<circle cx="1061.9" cy="328.2" r="10.6"/>
<circle cx="1097.5" cy="257.4" r="10.6"/>
<circle cx="1133.7" cy="349.7" r="10.6"/>
<circle cx="1170.1" cy="332.0" r="10.6"/>
<circle cx="1206.3" cy="438.8" r="10.6"/>
<circle cx="1241.7" cy="290.5" r="10.6"/>
<circle cx="1277.9" cy="498.0" r="10.6"/>
<circle cx="1313.3" cy="505.2" r="10.6"/>
<circle cx="1348.7" cy="772.0" r="10.6"/>
<circle cx="1384.3" cy="731.5" r="10.6"/>
<circle cx="1455.1" cy="500.1" r="10.6"/>
</g>
<g fill="#ff0000">
<rect x="161.7" y="903.5" width="21" height="21"/>
<rect x="238.2" y="910.5" width="21" height="21"/>
<rect x="314.3" y="887.7" width="21" height="21"/>
<rect x="352.0" y="883.3" width="21" height="21"/>
<rect x="390.6" y="924.9" width="21" height="21"/>
<rect x="427.2" y="866.9" width="21" height="21"/>
<rect x="465.9" y="897.5" width="21" height="21"/>
<rect x="502.8" y="947.0" width="21" height="21"/>
<rect x="540.5" y="887.2" width="21" height="21"/>
<rect x="577.5" y="942.8" width="21" height="21"/>
<rect x="615.9" y="911.0" width="21" height="21"/>
<rect x="652.5" y="924.0" width="21" height="21"/>
<rect x="690.1" y="960.0" width="21" height="21"/>
<rect x="727.0" y="1022.5" width="21" height="21"/>
<rect x="764.0" y="1018.3" width="21" height="21"/>
<rect x="800.3" y="1065.3" width="21" height="21"/>
<rect x="837.7" y="1076.0" width="21" height="21"/>
<rect x="873.8" y="1110.5" width="21" height="21"/>
<rect x="910.8" y="1091.1" width="21" height="21"/>
<rect x="946.7" y="1114.5" width="21" height="21"/>
<rect x="983.6" y="1022.3" width="21" height="21"/>
<rect x="1020.0" y="1026.0" width="21" height="21"/>
<rect x="1056.7" y="1024.7" width="21" height="21"/>
<rect x="1092.3" y="1065.5" width="21" height="21"/>
<rect x="1128.5" y="1029.0" width="21" height="21"/>
<rect x="1164.9" y="1045.0" width="21" height="21"/>
<rect x="1201.1" y="999.5" width="21" height="21"/>
<rect x="1236.5" y="944.9" width="21" height="21"/>
<rect x="1272.7" y="991.7" width="21" height="21"/>
<rect x="1308.1" y="1045.5" width="21" height="21"/>
<rect x="1343.5" y="1269.0" width="21" height="21"/>
<rect x="1379.1" y="1332.2" width="21" height="21"/>
<rect x="1449.9" y="1412.0" width="21" height="21"/>
</g>
<g fill="#000000">
<rect x="161.7" y="852.5" width="21" height="21"/>
<rect x="238.2" y="844.2" width="21" height="21"/>
<rect x="314.3" y="828.5" width="21" height="21"/>
<rect x="352.0" y="824.7" width="21" height="21"/>
<rect x="390.6" y="887.7" width="21" height="21"/>
<rect x="427.2" y="846.0" width="21" height="21"/>
<rect x="465.9" y="837.7" width="21" height="21"/>
<rect x="502.8" y="853.3" width="21" height="21"/>
<rect x="540.5" y="801.3" width="21" height="21"/>
<rect x="577.5" y="792.2" width="21" height="21"/>
<rect x="615.9" y="798.5" width="21" height="21"/>
<rect x="652.5" y="816.9" width="21" height="21"/>
<rect x="690.1" y="880.7" width="21" height="21"/>
<rect x="727.0" y="927.5" width="21" height="21"/>
<rect x="764.0" y="1113.0" width="21" height="21"/>
<rect x="800.3" y="1124.5" width="21" height="21"/>
<rect x="837.7" y="1191.8" width="21" height="21"/>
<rect x="873.8" y="1191.2" width="21" height="21"/>
<rect x="910.8" y="1216.5" width="21" height="21"/>
<rect x="946.7" y="1157.4" width="21" height="21"/>
<rect x="983.6" y="1150.3" width="21" height="21"/>
<rect x="1020.0" y="1097.3" width="21" height="21"/>
<rect x="1056.7" y="1079.5" width="21" height="21"/>
<rect x="1092.3" y="1068.5" width="21" height="21"/>
<rect x="1128.5" y="1083.5" width="21" height="21"/>
<rect x="1164.9" y="989.1" width="21" height="21"/>
<rect x="1201.1" y="963.1" width="21" height="21"/>
<rect x="1236.5" y="898.1" width="21" height="21"/>
<rect x="1272.7" y="1049.0" width="21" height="21"/>
<rect x="1308.1" y="1166.0" width="21" height="21"/>
<rect x="1343.5" y="1326.2" width="21" height="21"/>
<rect x="1379.1" y="1422.5" width="21" height="21"/>
<rect x="1449.9" y="1324.9" width="21" height="21"/>
</g>
</g>
<rect x="160.6" y="303.4" width="484.4" height="97.7" fill="#e6e6fa"/>
<rect x="137.8" y="1078.4" width="507.2" height="96.4" fill="#e6e6fa"/>
<rect x="228" y="1301" width="11" height="212" fill="#000"/>
<rect x="226" y="1300" width="15" height="7.3" rx="1" fill="#000"/><rect x="226" y="1506.5" width="15" height="7.3" rx="1" fill="#000"/>
<rect x="102.4" y="13.0" width="1422.6999999999998" height="1652.0" fill="none" stroke="#000" stroke-width="5.5"/>
<line x1="1510.3" x2="1510.3" y1="1665.0" y2="1679.5" stroke="#000" stroke-width="4.4"/>
<line x1="1419.1" x2="1419.1" y1="1665.0" y2="1689.7" stroke="#000" stroke-width="5.4"/>
<line x1="1327.9" x2="1327.9" y1="1665.0" y2="1679.5" stroke="#000" stroke-width="4.4"/>
<line x1="1236.7" x2="1236.7" y1="1665.0" y2="1679.5" stroke="#000" stroke-width="4.4"/>
<line x1="1145.5" x2="1145.5" y1="1665.0" y2="1679.5" stroke="#000" stroke-width="4.4"/>
<line x1="1054.3" x2="1054.3" y1="1665.0" y2="1689.7" stroke="#000" stroke-width="5.4"/>
<line x1="963.1" x2="963.1" y1="1665.0" y2="1679.5" stroke="#000" stroke-width="4.4"/>
<line x1="871.9" x2="871.9" y1="1665.0" y2="1679.5" stroke="#000" stroke-width="4.4"/>
<line x1="780.7" x2="780.7" y1="1665.0" y2="1679.5" stroke="#000" stroke-width="4.4"/>
<line x1="689.5" x2="689.5" y1="1665.0" y2="1689.7" stroke="#000" stroke-width="5.4"/>
<line x1="598.3" x2="598.3" y1="1665.0" y2="1679.5" stroke="#000" stroke-width="4.4"/>
<line x1="507.1" x2="507.1" y1="1665.0" y2="1679.5" stroke="#000" stroke-width="4.4"/>
<line x1="415.9" x2="415.9" y1="1665.0" y2="1679.5" stroke="#000" stroke-width="4.4"/>
<line x1="324.7" x2="324.7" y1="1665.0" y2="1689.7" stroke="#000" stroke-width="5.4"/>
<line x1="233.5" x2="233.5" y1="1665.0" y2="1679.5" stroke="#000" stroke-width="4.4"/>
<line x1="142.3" x2="142.3" y1="1665.0" y2="1679.5" stroke="#000" stroke-width="4.4"/>
<text transform="translate(325.5,1765) scale(1,1.045)" font-family="Liberation Sans, sans-serif" font-size="70" text-anchor="middle">1720</text>
<text transform="translate(690.3,1765) scale(1,1.045)" font-family="Liberation Sans, sans-serif" font-size="70" text-anchor="middle">1700</text>
<text transform="translate(1055.1,1765) scale(1,1.045)" font-family="Liberation Sans, sans-serif" font-size="70" text-anchor="middle">1680</text>
<text transform="translate(1419.9,1765) scale(1,1.045)" font-family="Liberation Sans, sans-serif" font-size="70" text-anchor="middle">1660</text>
<text x="491" y="1868.7" font-family="Liberation Sans, sans-serif" font-size="70" letter-spacing="0">Wavenumber [cm<tspan font-family="DejaVu Sans, sans-serif" font-size="50.5" dy="-27" letter-spacing="0.6">−1</tspan><tspan dy="27" dx="1.0">]</tspan></text>
<text transform="translate(59.2,1262.5) rotate(-90)" font-family="Liberation Sans, sans-serif" font-size="70" letter-spacing="0.12">Absorbance change [mOD]</text>
<text transform="translate(171,374.3) scale(1,1.03)" font-family="Liberation Sans, sans-serif" font-size="84" letter-spacing="0.1">0.5 ps - 3 ps</text>
<text transform="translate(146.5,1148.2) scale(1,1.03)" font-family="Liberation Sans, sans-serif" font-size="84" letter-spacing="0.1">23 ps - 50 ps</text>
<text transform="translate(288.3,1425.3) scale(1,1.03)" font-family="Liberation Sans, sans-serif" font-size="70">0.2 mOD</text>
<text transform="translate(580.2,738.7) scale(1,1.045)" font-family="Liberation Sans, sans-serif" font-size="70" letter-spacing="0" fill="#0000ff">0°</text>
<text transform="translate(1197,834.8) scale(1,1.045)" font-family="Liberation Sans, sans-serif" font-size="70" letter-spacing="1" fill="#0000ff">41°</text>
<text transform="translate(828.4,1341.4) scale(1,1.045)" font-family="Liberation Sans, sans-serif" font-size="70" letter-spacing="0" fill="#0000ff">30°</text>
<text transform="translate(1336,1644.6) scale(1,1.045)" font-family="Liberation Sans, sans-serif" font-size="70" letter-spacing="0" fill="#0000ff">45°</text>
<text transform="translate(895.55,273.7) scale(0.949,1.134)" font-family="DejaVu Sans, sans-serif" font-weight="normal" font-size="100" fill="#ff0000" stroke="#ff0000" stroke-width="8.6" stroke-linejoin="miter" vector-effect="non-scaling-stroke" text-anchor="middle">⊥</text>
<text transform="translate(1030.7,522.5) scale(1.23,1.253)" font-family="DejaVu Sans, sans-serif" font-weight="bold" font-size="100" fill="#000000" stroke="#000000" stroke-width="0" vector-effect="non-scaling-stroke" text-anchor="middle">∥</text>
</svg>
</body></html>
